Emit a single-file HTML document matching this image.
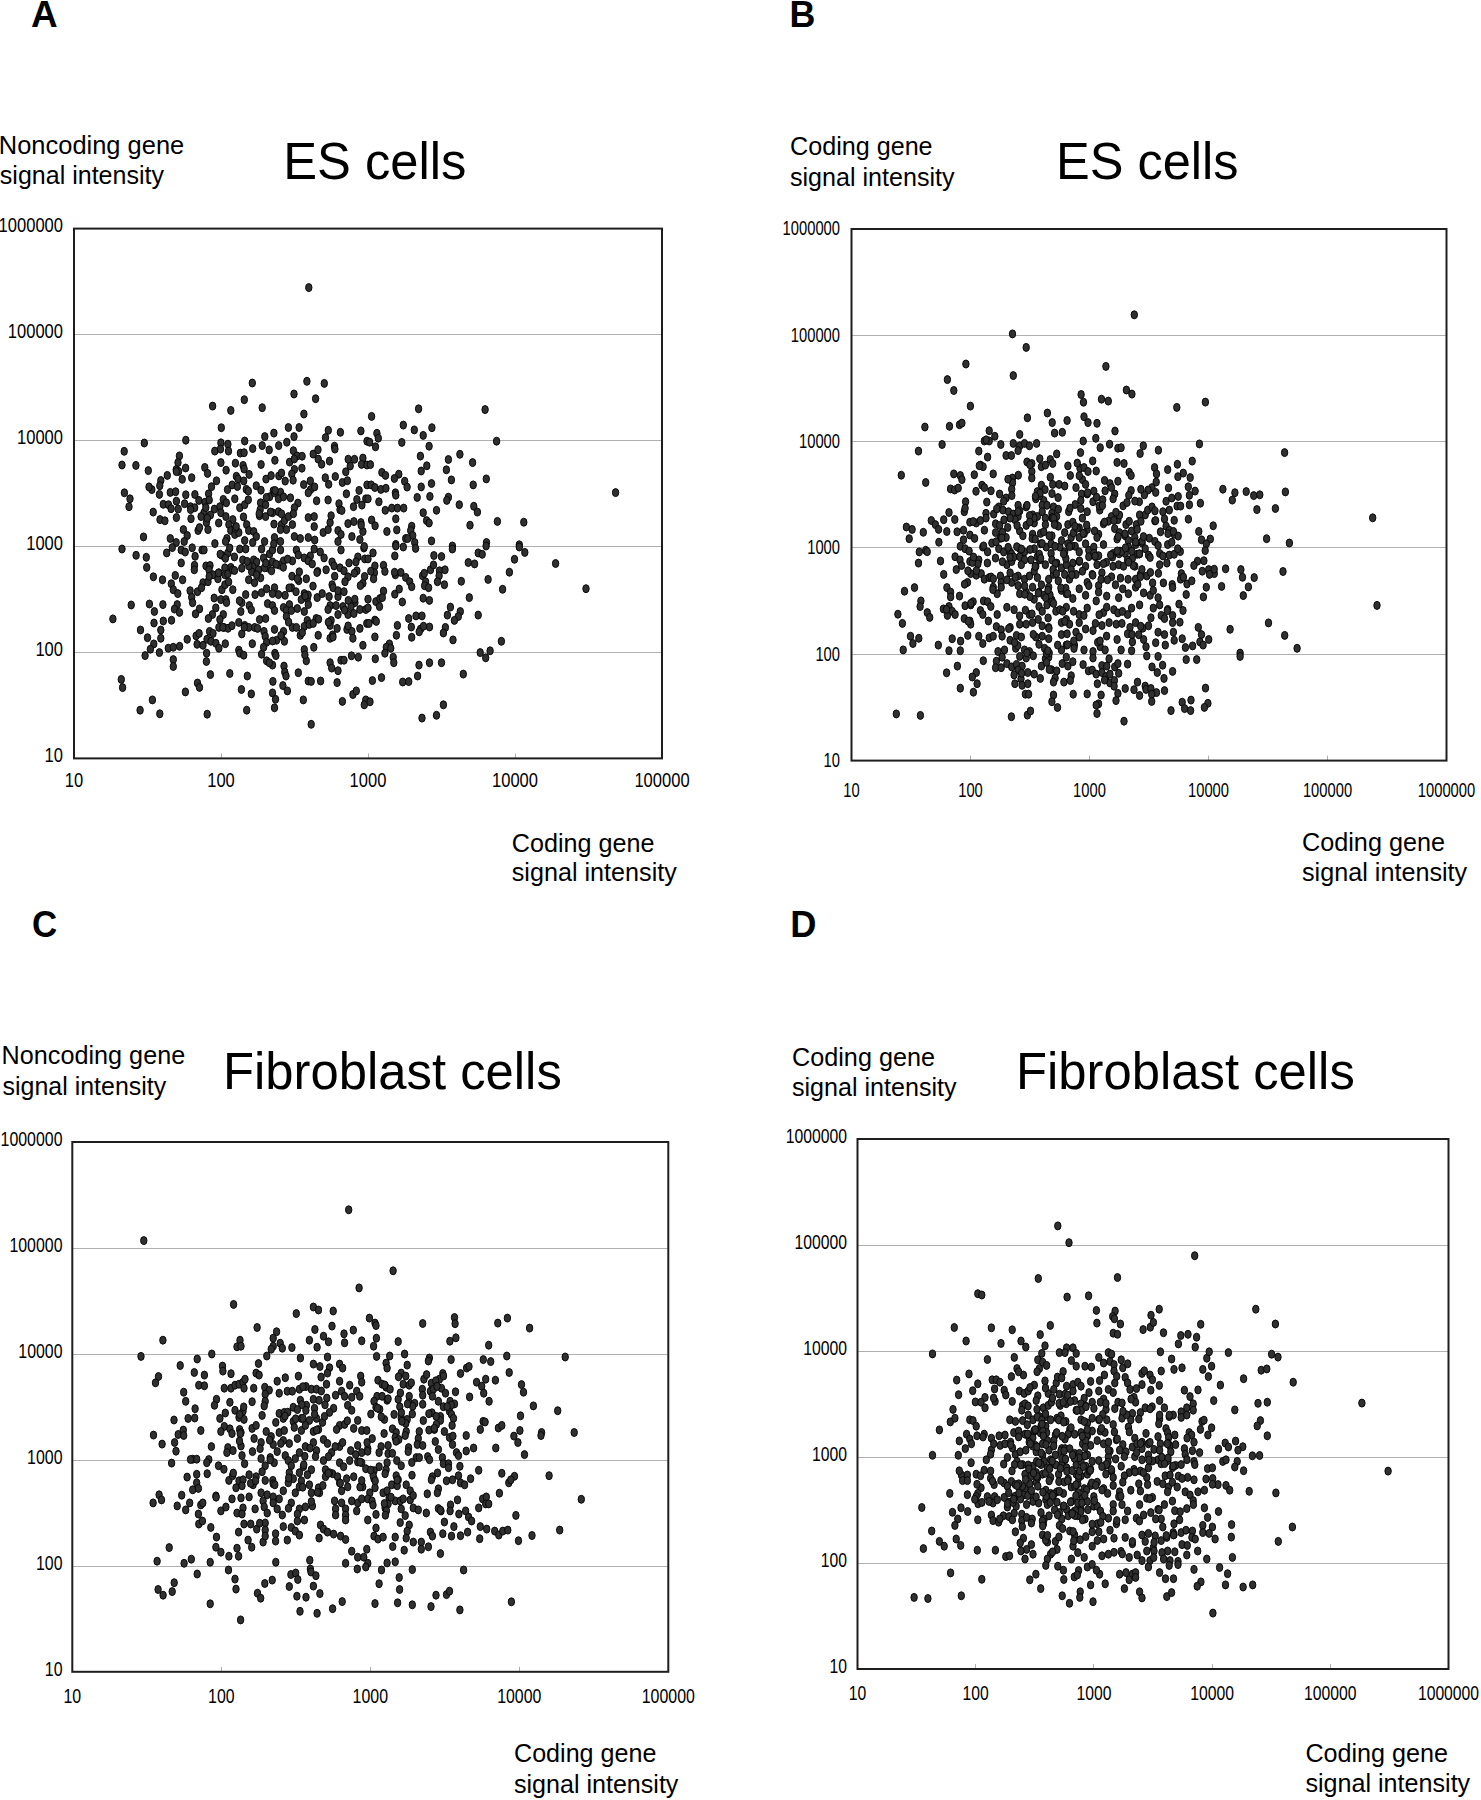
<!DOCTYPE html>
<html><head><meta charset="utf-8"><style>
html,body{margin:0;padding:0;background:#fff;}
svg{display:block;font-family:"Liberation Sans",sans-serif;}
ellipse{fill:#303030;stroke:#080808;stroke-width:1;}
</style></head><body>
<svg width="1481" height="1800" viewBox="0 0 1481 1800">
<line x1="74.0" y1="334.5" x2="662.0" y2="334.5" stroke="#b0b0b0" stroke-width="1"/>
<line x1="74.0" y1="440.5" x2="662.0" y2="440.5" stroke="#b0b0b0" stroke-width="1"/>
<line x1="74.0" y1="546.5" x2="662.0" y2="546.5" stroke="#b0b0b0" stroke-width="1"/>
<line x1="74.0" y1="652.5" x2="662.0" y2="652.5" stroke="#b0b0b0" stroke-width="1"/>
<line x1="221.5" y1="753.4" x2="221.5" y2="758.4" stroke="#b0b0b0" stroke-width="1"/>
<line x1="368.5" y1="753.4" x2="368.5" y2="758.4" stroke="#b0b0b0" stroke-width="1"/>
<line x1="515.5" y1="753.4" x2="515.5" y2="758.4" stroke="#b0b0b0" stroke-width="1"/>
<ellipse cx="308.8" cy="287.6" rx="3.2" ry="4.0"/>
<ellipse cx="252.3" cy="383.0" rx="3.2" ry="4.0"/>
<ellipse cx="306.9" cy="381.3" rx="3.2" ry="4.0"/>
<ellipse cx="324.3" cy="383.4" rx="3.2" ry="4.0"/>
<ellipse cx="212.6" cy="406.1" rx="3.2" ry="4.0"/>
<ellipse cx="230.8" cy="410.4" rx="3.2" ry="4.0"/>
<ellipse cx="244.3" cy="399.7" rx="3.2" ry="4.0"/>
<ellipse cx="262.2" cy="407.7" rx="3.2" ry="4.0"/>
<ellipse cx="294.0" cy="394.0" rx="3.2" ry="4.0"/>
<ellipse cx="315.6" cy="398.7" rx="3.2" ry="4.0"/>
<ellipse cx="303.9" cy="414.0" rx="3.2" ry="4.0"/>
<ellipse cx="221.3" cy="427.7" rx="3.2" ry="4.0"/>
<ellipse cx="288.4" cy="427.5" rx="3.2" ry="4.0"/>
<ellipse cx="299.1" cy="427.5" rx="3.2" ry="4.0"/>
<ellipse cx="273.9" cy="433.1" rx="3.2" ry="4.0"/>
<ellipse cx="328.3" cy="430.3" rx="3.2" ry="4.0"/>
<ellipse cx="340.4" cy="432.3" rx="3.2" ry="4.0"/>
<ellipse cx="360.9" cy="430.9" rx="3.2" ry="4.0"/>
<ellipse cx="264.8" cy="436.6" rx="3.2" ry="4.0"/>
<ellipse cx="294.0" cy="436.6" rx="3.2" ry="4.0"/>
<ellipse cx="325.5" cy="437.6" rx="3.2" ry="4.0"/>
<ellipse cx="185.8" cy="440.2" rx="3.2" ry="4.0"/>
<ellipse cx="144.3" cy="443.0" rx="3.2" ry="4.0"/>
<ellipse cx="244.7" cy="441.0" rx="3.2" ry="4.0"/>
<ellipse cx="220.9" cy="442.8" rx="3.2" ry="4.0"/>
<ellipse cx="227.9" cy="444.2" rx="3.2" ry="4.0"/>
<ellipse cx="262.2" cy="445.6" rx="3.2" ry="4.0"/>
<ellipse cx="278.7" cy="445.6" rx="3.2" ry="4.0"/>
<ellipse cx="286.8" cy="442.2" rx="3.2" ry="4.0"/>
<ellipse cx="367.0" cy="441.2" rx="3.2" ry="4.0"/>
<ellipse cx="124.2" cy="451.3" rx="3.2" ry="4.0"/>
<ellipse cx="214.8" cy="451.1" rx="3.2" ry="4.0"/>
<ellipse cx="220.5" cy="449.1" rx="3.2" ry="4.0"/>
<ellipse cx="228.5" cy="451.1" rx="3.2" ry="4.0"/>
<ellipse cx="240.4" cy="453.1" rx="3.2" ry="4.0"/>
<ellipse cx="244.1" cy="452.7" rx="3.2" ry="4.0"/>
<ellipse cx="252.7" cy="448.6" rx="3.2" ry="4.0"/>
<ellipse cx="269.2" cy="449.9" rx="3.2" ry="4.0"/>
<ellipse cx="293.4" cy="450.7" rx="3.2" ry="4.0"/>
<ellipse cx="313.2" cy="454.1" rx="3.2" ry="4.0"/>
<ellipse cx="318.0" cy="449.7" rx="3.2" ry="4.0"/>
<ellipse cx="334.5" cy="446.2" rx="3.2" ry="4.0"/>
<ellipse cx="334.9" cy="449.1" rx="3.2" ry="4.0"/>
<ellipse cx="179.4" cy="455.9" rx="3.2" ry="4.0"/>
<ellipse cx="178.0" cy="462.6" rx="3.2" ry="4.0"/>
<ellipse cx="176.2" cy="469.6" rx="3.2" ry="4.0"/>
<ellipse cx="178.6" cy="471.4" rx="3.2" ry="4.0"/>
<ellipse cx="185.6" cy="468.0" rx="3.2" ry="4.0"/>
<ellipse cx="122.0" cy="465.0" rx="3.2" ry="4.0"/>
<ellipse cx="135.9" cy="465.4" rx="3.2" ry="4.0"/>
<ellipse cx="148.3" cy="470.6" rx="3.2" ry="4.0"/>
<ellipse cx="204.8" cy="467.4" rx="3.2" ry="4.0"/>
<ellipse cx="207.6" cy="473.4" rx="3.2" ry="4.0"/>
<ellipse cx="220.9" cy="462.6" rx="3.2" ry="4.0"/>
<ellipse cx="226.1" cy="470.2" rx="3.2" ry="4.0"/>
<ellipse cx="235.4" cy="463.2" rx="3.2" ry="4.0"/>
<ellipse cx="243.1" cy="465.4" rx="3.2" ry="4.0"/>
<ellipse cx="244.1" cy="469.0" rx="3.2" ry="4.0"/>
<ellipse cx="274.9" cy="460.3" rx="3.2" ry="4.0"/>
<ellipse cx="289.6" cy="462.1" rx="3.2" ry="4.0"/>
<ellipse cx="297.1" cy="455.9" rx="3.2" ry="4.0"/>
<ellipse cx="318.2" cy="459.1" rx="3.2" ry="4.0"/>
<ellipse cx="321.6" cy="464.2" rx="3.2" ry="4.0"/>
<ellipse cx="329.5" cy="461.1" rx="3.2" ry="4.0"/>
<ellipse cx="354.5" cy="459.3" rx="3.2" ry="4.0"/>
<ellipse cx="362.9" cy="458.1" rx="3.2" ry="4.0"/>
<ellipse cx="361.5" cy="464.4" rx="3.2" ry="4.0"/>
<ellipse cx="367.0" cy="465.0" rx="3.2" ry="4.0"/>
<ellipse cx="350.2" cy="466.0" rx="3.2" ry="4.0"/>
<ellipse cx="294.4" cy="469.4" rx="3.2" ry="4.0"/>
<ellipse cx="301.9" cy="468.2" rx="3.2" ry="4.0"/>
<ellipse cx="167.3" cy="475.4" rx="3.2" ry="4.0"/>
<ellipse cx="160.8" cy="480.5" rx="3.2" ry="4.0"/>
<ellipse cx="159.8" cy="485.7" rx="3.2" ry="4.0"/>
<ellipse cx="151.8" cy="489.6" rx="3.2" ry="4.0"/>
<ellipse cx="149.0" cy="486.9" rx="3.2" ry="4.0"/>
<ellipse cx="170.3" cy="492.4" rx="3.2" ry="4.0"/>
<ellipse cx="124.4" cy="492.8" rx="3.2" ry="4.0"/>
<ellipse cx="182.2" cy="479.3" rx="3.2" ry="4.0"/>
<ellipse cx="191.7" cy="477.7" rx="3.2" ry="4.0"/>
<ellipse cx="249.1" cy="474.4" rx="3.2" ry="4.0"/>
<ellipse cx="236.4" cy="476.3" rx="3.2" ry="4.0"/>
<ellipse cx="238.0" cy="478.9" rx="3.2" ry="4.0"/>
<ellipse cx="243.7" cy="480.9" rx="3.2" ry="4.0"/>
<ellipse cx="232.2" cy="484.9" rx="3.2" ry="4.0"/>
<ellipse cx="227.5" cy="489.6" rx="3.2" ry="4.0"/>
<ellipse cx="237.4" cy="486.5" rx="3.2" ry="4.0"/>
<ellipse cx="246.3" cy="489.3" rx="3.2" ry="4.0"/>
<ellipse cx="256.3" cy="485.7" rx="3.2" ry="4.0"/>
<ellipse cx="261.0" cy="490.2" rx="3.2" ry="4.0"/>
<ellipse cx="266.0" cy="479.1" rx="3.2" ry="4.0"/>
<ellipse cx="271.1" cy="475.6" rx="3.2" ry="4.0"/>
<ellipse cx="278.9" cy="475.9" rx="3.2" ry="4.0"/>
<ellipse cx="281.5" cy="473.0" rx="3.2" ry="4.0"/>
<ellipse cx="285.2" cy="481.1" rx="3.2" ry="4.0"/>
<ellipse cx="291.8" cy="474.0" rx="3.2" ry="4.0"/>
<ellipse cx="273.3" cy="490.8" rx="3.2" ry="4.0"/>
<ellipse cx="280.5" cy="492.2" rx="3.2" ry="4.0"/>
<ellipse cx="325.3" cy="477.7" rx="3.2" ry="4.0"/>
<ellipse cx="335.3" cy="476.5" rx="3.2" ry="4.0"/>
<ellipse cx="328.7" cy="484.3" rx="3.2" ry="4.0"/>
<ellipse cx="342.4" cy="482.5" rx="3.2" ry="4.0"/>
<ellipse cx="347.4" cy="480.7" rx="3.2" ry="4.0"/>
<ellipse cx="345.8" cy="471.8" rx="3.2" ry="4.0"/>
<ellipse cx="310.3" cy="480.9" rx="3.2" ry="4.0"/>
<ellipse cx="310.6" cy="489.6" rx="3.2" ry="4.0"/>
<ellipse cx="314.6" cy="486.9" rx="3.2" ry="4.0"/>
<ellipse cx="359.1" cy="490.4" rx="3.2" ry="4.0"/>
<ellipse cx="367.0" cy="484.9" rx="3.2" ry="4.0"/>
<ellipse cx="130.0" cy="498.8" rx="3.2" ry="4.0"/>
<ellipse cx="129.0" cy="506.7" rx="3.2" ry="4.0"/>
<ellipse cx="153.2" cy="512.1" rx="3.2" ry="4.0"/>
<ellipse cx="159.4" cy="494.4" rx="3.2" ry="4.0"/>
<ellipse cx="163.3" cy="504.3" rx="3.2" ry="4.0"/>
<ellipse cx="168.5" cy="504.7" rx="3.2" ry="4.0"/>
<ellipse cx="171.1" cy="508.7" rx="3.2" ry="4.0"/>
<ellipse cx="176.4" cy="501.2" rx="3.2" ry="4.0"/>
<ellipse cx="178.2" cy="509.1" rx="3.2" ry="4.0"/>
<ellipse cx="185.8" cy="494.8" rx="3.2" ry="4.0"/>
<ellipse cx="184.6" cy="503.7" rx="3.2" ry="4.0"/>
<ellipse cx="190.5" cy="506.7" rx="3.2" ry="4.0"/>
<ellipse cx="194.7" cy="507.7" rx="3.2" ry="4.0"/>
<ellipse cx="198.9" cy="500.4" rx="3.2" ry="4.0"/>
<ellipse cx="205.0" cy="502.2" rx="3.2" ry="4.0"/>
<ellipse cx="208.6" cy="493.8" rx="3.2" ry="4.0"/>
<ellipse cx="214.4" cy="509.1" rx="3.2" ry="4.0"/>
<ellipse cx="219.9" cy="506.7" rx="3.2" ry="4.0"/>
<ellipse cx="223.3" cy="499.4" rx="3.2" ry="4.0"/>
<ellipse cx="226.3" cy="502.8" rx="3.2" ry="4.0"/>
<ellipse cx="234.8" cy="498.8" rx="3.2" ry="4.0"/>
<ellipse cx="239.8" cy="507.7" rx="3.2" ry="4.0"/>
<ellipse cx="244.7" cy="504.7" rx="3.2" ry="4.0"/>
<ellipse cx="248.3" cy="499.8" rx="3.2" ry="4.0"/>
<ellipse cx="260.6" cy="502.8" rx="3.2" ry="4.0"/>
<ellipse cx="265.6" cy="504.7" rx="3.2" ry="4.0"/>
<ellipse cx="269.6" cy="496.8" rx="3.2" ry="4.0"/>
<ellipse cx="274.5" cy="492.8" rx="3.2" ry="4.0"/>
<ellipse cx="278.5" cy="498.8" rx="3.2" ry="4.0"/>
<ellipse cx="283.5" cy="496.8" rx="3.2" ry="4.0"/>
<ellipse cx="290.4" cy="497.8" rx="3.2" ry="4.0"/>
<ellipse cx="297.9" cy="503.1" rx="3.2" ry="4.0"/>
<ellipse cx="294.4" cy="507.7" rx="3.2" ry="4.0"/>
<ellipse cx="308.3" cy="492.8" rx="3.2" ry="4.0"/>
<ellipse cx="316.6" cy="500.8" rx="3.2" ry="4.0"/>
<ellipse cx="328.1" cy="500.0" rx="3.2" ry="4.0"/>
<ellipse cx="339.0" cy="503.7" rx="3.2" ry="4.0"/>
<ellipse cx="340.0" cy="509.7" rx="3.2" ry="4.0"/>
<ellipse cx="346.4" cy="493.8" rx="3.2" ry="4.0"/>
<ellipse cx="353.5" cy="506.7" rx="3.2" ry="4.0"/>
<ellipse cx="361.9" cy="505.1" rx="3.2" ry="4.0"/>
<ellipse cx="365.8" cy="498.8" rx="3.2" ry="4.0"/>
<ellipse cx="260.2" cy="509.7" rx="3.2" ry="4.0"/>
<ellipse cx="272.5" cy="512.7" rx="3.2" ry="4.0"/>
<ellipse cx="278.5" cy="511.7" rx="3.2" ry="4.0"/>
<ellipse cx="176.4" cy="517.6" rx="3.2" ry="4.0"/>
<ellipse cx="160.0" cy="519.6" rx="3.2" ry="4.0"/>
<ellipse cx="164.9" cy="520.8" rx="3.2" ry="4.0"/>
<ellipse cx="204.0" cy="512.7" rx="3.2" ry="4.0"/>
<ellipse cx="201.1" cy="516.6" rx="3.2" ry="4.0"/>
<ellipse cx="210.4" cy="515.1" rx="3.2" ry="4.0"/>
<ellipse cx="206.4" cy="522.6" rx="3.2" ry="4.0"/>
<ellipse cx="208.0" cy="529.6" rx="3.2" ry="4.0"/>
<ellipse cx="218.7" cy="523.0" rx="3.2" ry="4.0"/>
<ellipse cx="198.1" cy="530.5" rx="3.2" ry="4.0"/>
<ellipse cx="199.5" cy="527.6" rx="3.2" ry="4.0"/>
<ellipse cx="183.4" cy="529.6" rx="3.2" ry="4.0"/>
<ellipse cx="187.2" cy="535.5" rx="3.2" ry="4.0"/>
<ellipse cx="184.2" cy="541.5" rx="3.2" ry="4.0"/>
<ellipse cx="170.3" cy="538.5" rx="3.2" ry="4.0"/>
<ellipse cx="176.2" cy="542.5" rx="3.2" ry="4.0"/>
<ellipse cx="143.5" cy="536.9" rx="3.2" ry="4.0"/>
<ellipse cx="220.9" cy="512.7" rx="3.2" ry="4.0"/>
<ellipse cx="225.9" cy="516.6" rx="3.2" ry="4.0"/>
<ellipse cx="232.8" cy="519.6" rx="3.2" ry="4.0"/>
<ellipse cx="228.9" cy="524.6" rx="3.2" ry="4.0"/>
<ellipse cx="230.8" cy="530.5" rx="3.2" ry="4.0"/>
<ellipse cx="234.8" cy="534.5" rx="3.2" ry="4.0"/>
<ellipse cx="238.8" cy="532.5" rx="3.2" ry="4.0"/>
<ellipse cx="226.9" cy="538.5" rx="3.2" ry="4.0"/>
<ellipse cx="246.7" cy="524.6" rx="3.2" ry="4.0"/>
<ellipse cx="248.7" cy="530.5" rx="3.2" ry="4.0"/>
<ellipse cx="253.7" cy="531.5" rx="3.2" ry="4.0"/>
<ellipse cx="256.3" cy="536.5" rx="3.2" ry="4.0"/>
<ellipse cx="244.7" cy="540.5" rx="3.2" ry="4.0"/>
<ellipse cx="252.7" cy="542.5" rx="3.2" ry="4.0"/>
<ellipse cx="265.6" cy="516.6" rx="3.2" ry="4.0"/>
<ellipse cx="281.5" cy="524.6" rx="3.2" ry="4.0"/>
<ellipse cx="284.4" cy="520.6" rx="3.2" ry="4.0"/>
<ellipse cx="288.4" cy="516.6" rx="3.2" ry="4.0"/>
<ellipse cx="293.4" cy="513.7" rx="3.2" ry="4.0"/>
<ellipse cx="292.4" cy="524.6" rx="3.2" ry="4.0"/>
<ellipse cx="280.5" cy="529.6" rx="3.2" ry="4.0"/>
<ellipse cx="286.4" cy="529.6" rx="3.2" ry="4.0"/>
<ellipse cx="274.5" cy="537.5" rx="3.2" ry="4.0"/>
<ellipse cx="280.5" cy="541.5" rx="3.2" ry="4.0"/>
<ellipse cx="264.6" cy="541.5" rx="3.2" ry="4.0"/>
<ellipse cx="294.4" cy="536.5" rx="3.2" ry="4.0"/>
<ellipse cx="300.3" cy="538.5" rx="3.2" ry="4.0"/>
<ellipse cx="308.3" cy="537.5" rx="3.2" ry="4.0"/>
<ellipse cx="308.3" cy="517.6" rx="3.2" ry="4.0"/>
<ellipse cx="314.2" cy="516.6" rx="3.2" ry="4.0"/>
<ellipse cx="314.2" cy="526.6" rx="3.2" ry="4.0"/>
<ellipse cx="323.2" cy="532.5" rx="3.2" ry="4.0"/>
<ellipse cx="330.1" cy="522.6" rx="3.2" ry="4.0"/>
<ellipse cx="328.1" cy="529.6" rx="3.2" ry="4.0"/>
<ellipse cx="331.1" cy="515.7" rx="3.2" ry="4.0"/>
<ellipse cx="338.0" cy="530.5" rx="3.2" ry="4.0"/>
<ellipse cx="341.0" cy="534.5" rx="3.2" ry="4.0"/>
<ellipse cx="338.0" cy="541.5" rx="3.2" ry="4.0"/>
<ellipse cx="348.0" cy="523.6" rx="3.2" ry="4.0"/>
<ellipse cx="353.9" cy="521.6" rx="3.2" ry="4.0"/>
<ellipse cx="360.9" cy="522.6" rx="3.2" ry="4.0"/>
<ellipse cx="362.9" cy="531.5" rx="3.2" ry="4.0"/>
<ellipse cx="351.9" cy="536.5" rx="3.2" ry="4.0"/>
<ellipse cx="359.9" cy="539.5" rx="3.2" ry="4.0"/>
<ellipse cx="371.6" cy="416.4" rx="3.2" ry="4.0"/>
<ellipse cx="418.6" cy="408.8" rx="3.2" ry="4.0"/>
<ellipse cx="485.1" cy="409.6" rx="3.2" ry="4.0"/>
<ellipse cx="403.3" cy="425.1" rx="3.2" ry="4.0"/>
<ellipse cx="414.3" cy="429.9" rx="3.2" ry="4.0"/>
<ellipse cx="423.2" cy="435.4" rx="3.2" ry="4.0"/>
<ellipse cx="431.9" cy="427.7" rx="3.2" ry="4.0"/>
<ellipse cx="376.9" cy="433.3" rx="3.2" ry="4.0"/>
<ellipse cx="378.3" cy="438.2" rx="3.2" ry="4.0"/>
<ellipse cx="369.6" cy="442.2" rx="3.2" ry="4.0"/>
<ellipse cx="401.8" cy="442.4" rx="3.2" ry="4.0"/>
<ellipse cx="375.5" cy="446.8" rx="3.2" ry="4.0"/>
<ellipse cx="429.1" cy="446.2" rx="3.2" ry="4.0"/>
<ellipse cx="496.6" cy="441.2" rx="3.2" ry="4.0"/>
<ellipse cx="459.9" cy="454.3" rx="3.2" ry="4.0"/>
<ellipse cx="448.4" cy="459.5" rx="3.2" ry="4.0"/>
<ellipse cx="420.4" cy="456.1" rx="3.2" ry="4.0"/>
<ellipse cx="472.6" cy="462.6" rx="3.2" ry="4.0"/>
<ellipse cx="426.8" cy="465.8" rx="3.2" ry="4.0"/>
<ellipse cx="421.2" cy="471.0" rx="3.2" ry="4.0"/>
<ellipse cx="446.4" cy="469.8" rx="3.2" ry="4.0"/>
<ellipse cx="370.4" cy="464.6" rx="3.2" ry="4.0"/>
<ellipse cx="381.9" cy="472.4" rx="3.2" ry="4.0"/>
<ellipse cx="385.5" cy="475.4" rx="3.2" ry="4.0"/>
<ellipse cx="398.8" cy="474.2" rx="3.2" ry="4.0"/>
<ellipse cx="394.4" cy="478.5" rx="3.2" ry="4.0"/>
<ellipse cx="404.7" cy="481.3" rx="3.2" ry="4.0"/>
<ellipse cx="407.1" cy="487.1" rx="3.2" ry="4.0"/>
<ellipse cx="421.2" cy="486.9" rx="3.2" ry="4.0"/>
<ellipse cx="431.5" cy="483.5" rx="3.2" ry="4.0"/>
<ellipse cx="451.4" cy="479.9" rx="3.2" ry="4.0"/>
<ellipse cx="486.3" cy="478.9" rx="3.2" ry="4.0"/>
<ellipse cx="473.2" cy="484.9" rx="3.2" ry="4.0"/>
<ellipse cx="371.2" cy="484.9" rx="3.2" ry="4.0"/>
<ellipse cx="374.9" cy="487.5" rx="3.2" ry="4.0"/>
<ellipse cx="380.9" cy="489.4" rx="3.2" ry="4.0"/>
<ellipse cx="385.9" cy="488.3" rx="3.2" ry="4.0"/>
<ellipse cx="395.4" cy="492.8" rx="3.2" ry="4.0"/>
<ellipse cx="395.8" cy="495.2" rx="3.2" ry="4.0"/>
<ellipse cx="368.0" cy="498.8" rx="3.2" ry="4.0"/>
<ellipse cx="378.9" cy="501.8" rx="3.2" ry="4.0"/>
<ellipse cx="417.2" cy="497.4" rx="3.2" ry="4.0"/>
<ellipse cx="429.9" cy="496.4" rx="3.2" ry="4.0"/>
<ellipse cx="448.4" cy="497.2" rx="3.2" ry="4.0"/>
<ellipse cx="446.8" cy="500.4" rx="3.2" ry="4.0"/>
<ellipse cx="459.3" cy="504.7" rx="3.2" ry="4.0"/>
<ellipse cx="473.8" cy="506.3" rx="3.2" ry="4.0"/>
<ellipse cx="477.4" cy="512.1" rx="3.2" ry="4.0"/>
<ellipse cx="615.6" cy="492.6" rx="3.2" ry="4.0"/>
<ellipse cx="385.3" cy="510.3" rx="3.2" ry="4.0"/>
<ellipse cx="391.8" cy="508.1" rx="3.2" ry="4.0"/>
<ellipse cx="397.4" cy="508.1" rx="3.2" ry="4.0"/>
<ellipse cx="403.7" cy="508.1" rx="3.2" ry="4.0"/>
<ellipse cx="423.2" cy="512.7" rx="3.2" ry="4.0"/>
<ellipse cx="436.5" cy="510.3" rx="3.2" ry="4.0"/>
<ellipse cx="371.6" cy="520.0" rx="3.2" ry="4.0"/>
<ellipse cx="375.1" cy="525.8" rx="3.2" ry="4.0"/>
<ellipse cx="395.8" cy="518.8" rx="3.2" ry="4.0"/>
<ellipse cx="396.8" cy="529.9" rx="3.2" ry="4.0"/>
<ellipse cx="386.9" cy="531.5" rx="3.2" ry="4.0"/>
<ellipse cx="411.7" cy="526.2" rx="3.2" ry="4.0"/>
<ellipse cx="410.7" cy="530.5" rx="3.2" ry="4.0"/>
<ellipse cx="412.7" cy="535.5" rx="3.2" ry="4.0"/>
<ellipse cx="405.7" cy="538.5" rx="3.2" ry="4.0"/>
<ellipse cx="407.7" cy="538.5" rx="3.2" ry="4.0"/>
<ellipse cx="426.6" cy="520.6" rx="3.2" ry="4.0"/>
<ellipse cx="429.1" cy="523.0" rx="3.2" ry="4.0"/>
<ellipse cx="470.0" cy="525.2" rx="3.2" ry="4.0"/>
<ellipse cx="497.4" cy="521.4" rx="3.2" ry="4.0"/>
<ellipse cx="523.8" cy="522.2" rx="3.2" ry="4.0"/>
<ellipse cx="431.5" cy="540.9" rx="3.2" ry="4.0"/>
<ellipse cx="395.8" cy="544.4" rx="3.2" ry="4.0"/>
<ellipse cx="414.7" cy="542.5" rx="3.2" ry="4.0"/>
<ellipse cx="486.5" cy="542.5" rx="3.2" ry="4.0"/>
<ellipse cx="519.3" cy="544.8" rx="3.2" ry="4.0"/>
<ellipse cx="452.4" cy="546.0" rx="3.2" ry="4.0"/>
<ellipse cx="122.0" cy="549.0" rx="3.2" ry="4.0"/>
<ellipse cx="136.1" cy="555.3" rx="3.2" ry="4.0"/>
<ellipse cx="146.3" cy="557.3" rx="3.2" ry="4.0"/>
<ellipse cx="146.7" cy="567.4" rx="3.2" ry="4.0"/>
<ellipse cx="166.7" cy="552.9" rx="3.2" ry="4.0"/>
<ellipse cx="172.3" cy="547.6" rx="3.2" ry="4.0"/>
<ellipse cx="181.2" cy="550.0" rx="3.2" ry="4.0"/>
<ellipse cx="185.2" cy="552.0" rx="3.2" ry="4.0"/>
<ellipse cx="181.2" cy="562.9" rx="3.2" ry="4.0"/>
<ellipse cx="195.1" cy="556.3" rx="3.2" ry="4.0"/>
<ellipse cx="194.5" cy="565.3" rx="3.2" ry="4.0"/>
<ellipse cx="194.3" cy="569.8" rx="3.2" ry="4.0"/>
<ellipse cx="202.1" cy="550.0" rx="3.2" ry="4.0"/>
<ellipse cx="204.0" cy="550.0" rx="3.2" ry="4.0"/>
<ellipse cx="206.0" cy="565.9" rx="3.2" ry="4.0"/>
<ellipse cx="210.0" cy="565.5" rx="3.2" ry="4.0"/>
<ellipse cx="221.9" cy="555.3" rx="3.2" ry="4.0"/>
<ellipse cx="227.9" cy="552.9" rx="3.2" ry="4.0"/>
<ellipse cx="234.4" cy="556.9" rx="3.2" ry="4.0"/>
<ellipse cx="230.8" cy="567.4" rx="3.2" ry="4.0"/>
<ellipse cx="224.9" cy="567.8" rx="3.2" ry="4.0"/>
<ellipse cx="239.8" cy="549.0" rx="3.2" ry="4.0"/>
<ellipse cx="245.7" cy="549.0" rx="3.2" ry="4.0"/>
<ellipse cx="242.8" cy="559.9" rx="3.2" ry="4.0"/>
<ellipse cx="241.8" cy="568.2" rx="3.2" ry="4.0"/>
<ellipse cx="253.7" cy="559.9" rx="3.2" ry="4.0"/>
<ellipse cx="256.6" cy="561.9" rx="3.2" ry="4.0"/>
<ellipse cx="252.7" cy="566.8" rx="3.2" ry="4.0"/>
<ellipse cx="261.6" cy="549.0" rx="3.2" ry="4.0"/>
<ellipse cx="269.6" cy="553.9" rx="3.2" ry="4.0"/>
<ellipse cx="272.5" cy="550.0" rx="3.2" ry="4.0"/>
<ellipse cx="280.5" cy="550.0" rx="3.2" ry="4.0"/>
<ellipse cx="283.5" cy="560.9" rx="3.2" ry="4.0"/>
<ellipse cx="263.6" cy="557.9" rx="3.2" ry="4.0"/>
<ellipse cx="267.6" cy="567.8" rx="3.2" ry="4.0"/>
<ellipse cx="272.5" cy="561.9" rx="3.2" ry="4.0"/>
<ellipse cx="292.4" cy="560.9" rx="3.2" ry="4.0"/>
<ellipse cx="296.4" cy="550.0" rx="3.2" ry="4.0"/>
<ellipse cx="298.3" cy="554.9" rx="3.2" ry="4.0"/>
<ellipse cx="304.3" cy="557.9" rx="3.2" ry="4.0"/>
<ellipse cx="310.3" cy="555.9" rx="3.2" ry="4.0"/>
<ellipse cx="314.2" cy="549.0" rx="3.2" ry="4.0"/>
<ellipse cx="308.3" cy="560.9" rx="3.2" ry="4.0"/>
<ellipse cx="312.2" cy="563.9" rx="3.2" ry="4.0"/>
<ellipse cx="320.2" cy="552.0" rx="3.2" ry="4.0"/>
<ellipse cx="324.1" cy="557.9" rx="3.2" ry="4.0"/>
<ellipse cx="332.1" cy="561.9" rx="3.2" ry="4.0"/>
<ellipse cx="341.0" cy="550.0" rx="3.2" ry="4.0"/>
<ellipse cx="334.1" cy="565.9" rx="3.2" ry="4.0"/>
<ellipse cx="340.0" cy="567.8" rx="3.2" ry="4.0"/>
<ellipse cx="349.0" cy="562.9" rx="3.2" ry="4.0"/>
<ellipse cx="357.9" cy="556.9" rx="3.2" ry="4.0"/>
<ellipse cx="363.9" cy="548.0" rx="3.2" ry="4.0"/>
<ellipse cx="364.8" cy="558.9" rx="3.2" ry="4.0"/>
<ellipse cx="355.9" cy="561.9" rx="3.2" ry="4.0"/>
<ellipse cx="153.4" cy="576.8" rx="3.2" ry="4.0"/>
<ellipse cx="162.5" cy="579.8" rx="3.2" ry="4.0"/>
<ellipse cx="175.3" cy="575.4" rx="3.2" ry="4.0"/>
<ellipse cx="182.6" cy="579.8" rx="3.2" ry="4.0"/>
<ellipse cx="171.3" cy="583.7" rx="3.2" ry="4.0"/>
<ellipse cx="209.0" cy="569.8" rx="3.2" ry="4.0"/>
<ellipse cx="213.0" cy="574.8" rx="3.2" ry="4.0"/>
<ellipse cx="218.9" cy="572.8" rx="3.2" ry="4.0"/>
<ellipse cx="224.9" cy="574.8" rx="3.2" ry="4.0"/>
<ellipse cx="227.9" cy="573.8" rx="3.2" ry="4.0"/>
<ellipse cx="217.9" cy="578.8" rx="3.2" ry="4.0"/>
<ellipse cx="203.0" cy="582.7" rx="3.2" ry="4.0"/>
<ellipse cx="208.0" cy="581.7" rx="3.2" ry="4.0"/>
<ellipse cx="248.7" cy="579.8" rx="3.2" ry="4.0"/>
<ellipse cx="251.7" cy="571.8" rx="3.2" ry="4.0"/>
<ellipse cx="258.6" cy="569.8" rx="3.2" ry="4.0"/>
<ellipse cx="264.6" cy="567.8" rx="3.2" ry="4.0"/>
<ellipse cx="260.6" cy="577.8" rx="3.2" ry="4.0"/>
<ellipse cx="256.6" cy="574.8" rx="3.2" ry="4.0"/>
<ellipse cx="271.5" cy="570.8" rx="3.2" ry="4.0"/>
<ellipse cx="292.0" cy="576.2" rx="3.2" ry="4.0"/>
<ellipse cx="299.3" cy="571.8" rx="3.2" ry="4.0"/>
<ellipse cx="298.7" cy="580.7" rx="3.2" ry="4.0"/>
<ellipse cx="306.3" cy="578.8" rx="3.2" ry="4.0"/>
<ellipse cx="317.6" cy="571.4" rx="3.2" ry="4.0"/>
<ellipse cx="326.1" cy="569.8" rx="3.2" ry="4.0"/>
<ellipse cx="334.7" cy="576.2" rx="3.2" ry="4.0"/>
<ellipse cx="344.0" cy="570.8" rx="3.2" ry="4.0"/>
<ellipse cx="348.0" cy="576.8" rx="3.2" ry="4.0"/>
<ellipse cx="345.0" cy="581.7" rx="3.2" ry="4.0"/>
<ellipse cx="356.9" cy="570.8" rx="3.2" ry="4.0"/>
<ellipse cx="362.9" cy="583.3" rx="3.2" ry="4.0"/>
<ellipse cx="332.1" cy="584.7" rx="3.2" ry="4.0"/>
<ellipse cx="173.3" cy="589.7" rx="3.2" ry="4.0"/>
<ellipse cx="177.8" cy="593.6" rx="3.2" ry="4.0"/>
<ellipse cx="190.1" cy="590.7" rx="3.2" ry="4.0"/>
<ellipse cx="191.7" cy="597.2" rx="3.2" ry="4.0"/>
<ellipse cx="197.5" cy="591.7" rx="3.2" ry="4.0"/>
<ellipse cx="201.5" cy="587.7" rx="3.2" ry="4.0"/>
<ellipse cx="221.9" cy="589.7" rx="3.2" ry="4.0"/>
<ellipse cx="224.9" cy="584.7" rx="3.2" ry="4.0"/>
<ellipse cx="232.8" cy="589.7" rx="3.2" ry="4.0"/>
<ellipse cx="214.2" cy="598.0" rx="3.2" ry="4.0"/>
<ellipse cx="220.9" cy="599.6" rx="3.2" ry="4.0"/>
<ellipse cx="225.9" cy="599.6" rx="3.2" ry="4.0"/>
<ellipse cx="226.5" cy="602.6" rx="3.2" ry="4.0"/>
<ellipse cx="241.8" cy="602.6" rx="3.2" ry="4.0"/>
<ellipse cx="245.7" cy="594.6" rx="3.2" ry="4.0"/>
<ellipse cx="255.1" cy="594.6" rx="3.2" ry="4.0"/>
<ellipse cx="261.6" cy="592.7" rx="3.2" ry="4.0"/>
<ellipse cx="266.6" cy="588.7" rx="3.2" ry="4.0"/>
<ellipse cx="274.5" cy="587.7" rx="3.2" ry="4.0"/>
<ellipse cx="272.5" cy="593.6" rx="3.2" ry="4.0"/>
<ellipse cx="278.5" cy="594.6" rx="3.2" ry="4.0"/>
<ellipse cx="267.6" cy="603.6" rx="3.2" ry="4.0"/>
<ellipse cx="272.5" cy="605.6" rx="3.2" ry="4.0"/>
<ellipse cx="291.4" cy="587.7" rx="3.2" ry="4.0"/>
<ellipse cx="296.0" cy="591.7" rx="3.2" ry="4.0"/>
<ellipse cx="304.3" cy="593.6" rx="3.2" ry="4.0"/>
<ellipse cx="307.3" cy="598.6" rx="3.2" ry="4.0"/>
<ellipse cx="301.3" cy="599.6" rx="3.2" ry="4.0"/>
<ellipse cx="317.2" cy="597.6" rx="3.2" ry="4.0"/>
<ellipse cx="322.2" cy="593.6" rx="3.2" ry="4.0"/>
<ellipse cx="329.1" cy="596.6" rx="3.2" ry="4.0"/>
<ellipse cx="338.0" cy="596.6" rx="3.2" ry="4.0"/>
<ellipse cx="333.1" cy="587.7" rx="3.2" ry="4.0"/>
<ellipse cx="338.0" cy="590.7" rx="3.2" ry="4.0"/>
<ellipse cx="344.0" cy="591.7" rx="3.2" ry="4.0"/>
<ellipse cx="330.1" cy="605.6" rx="3.2" ry="4.0"/>
<ellipse cx="308.3" cy="604.6" rx="3.2" ry="4.0"/>
<ellipse cx="283.5" cy="607.5" rx="3.2" ry="4.0"/>
<ellipse cx="289.4" cy="604.6" rx="3.2" ry="4.0"/>
<ellipse cx="131.2" cy="605.0" rx="3.2" ry="4.0"/>
<ellipse cx="149.4" cy="604.0" rx="3.2" ry="4.0"/>
<ellipse cx="162.9" cy="604.6" rx="3.2" ry="4.0"/>
<ellipse cx="177.2" cy="604.6" rx="3.2" ry="4.0"/>
<ellipse cx="354.9" cy="602.6" rx="3.2" ry="4.0"/>
<ellipse cx="154.4" cy="611.5" rx="3.2" ry="4.0"/>
<ellipse cx="199.5" cy="608.9" rx="3.2" ry="4.0"/>
<ellipse cx="195.5" cy="613.9" rx="3.2" ry="4.0"/>
<ellipse cx="215.8" cy="607.9" rx="3.2" ry="4.0"/>
<ellipse cx="212.4" cy="614.5" rx="3.2" ry="4.0"/>
<ellipse cx="208.4" cy="618.5" rx="3.2" ry="4.0"/>
<ellipse cx="223.3" cy="614.5" rx="3.2" ry="4.0"/>
<ellipse cx="219.9" cy="619.5" rx="3.2" ry="4.0"/>
<ellipse cx="240.8" cy="611.5" rx="3.2" ry="4.0"/>
<ellipse cx="249.3" cy="605.6" rx="3.2" ry="4.0"/>
<ellipse cx="251.3" cy="609.9" rx="3.2" ry="4.0"/>
<ellipse cx="259.6" cy="619.5" rx="3.2" ry="4.0"/>
<ellipse cx="265.6" cy="618.5" rx="3.2" ry="4.0"/>
<ellipse cx="274.5" cy="610.5" rx="3.2" ry="4.0"/>
<ellipse cx="286.4" cy="610.5" rx="3.2" ry="4.0"/>
<ellipse cx="291.4" cy="610.5" rx="3.2" ry="4.0"/>
<ellipse cx="297.3" cy="608.5" rx="3.2" ry="4.0"/>
<ellipse cx="304.3" cy="611.5" rx="3.2" ry="4.0"/>
<ellipse cx="286.4" cy="616.5" rx="3.2" ry="4.0"/>
<ellipse cx="307.3" cy="620.4" rx="3.2" ry="4.0"/>
<ellipse cx="316.2" cy="618.5" rx="3.2" ry="4.0"/>
<ellipse cx="328.1" cy="609.5" rx="3.2" ry="4.0"/>
<ellipse cx="336.1" cy="605.6" rx="3.2" ry="4.0"/>
<ellipse cx="343.0" cy="606.6" rx="3.2" ry="4.0"/>
<ellipse cx="351.0" cy="606.6" rx="3.2" ry="4.0"/>
<ellipse cx="359.9" cy="609.5" rx="3.2" ry="4.0"/>
<ellipse cx="365.8" cy="609.5" rx="3.2" ry="4.0"/>
<ellipse cx="331.1" cy="620.4" rx="3.2" ry="4.0"/>
<ellipse cx="338.0" cy="614.5" rx="3.2" ry="4.0"/>
<ellipse cx="348.0" cy="614.5" rx="3.2" ry="4.0"/>
<ellipse cx="353.9" cy="613.5" rx="3.2" ry="4.0"/>
<ellipse cx="112.9" cy="618.9" rx="3.2" ry="4.0"/>
<ellipse cx="154.0" cy="623.0" rx="3.2" ry="4.0"/>
<ellipse cx="163.3" cy="621.0" rx="3.2" ry="4.0"/>
<ellipse cx="171.5" cy="620.3" rx="3.2" ry="4.0"/>
<ellipse cx="238.8" cy="622.4" rx="3.2" ry="4.0"/>
<ellipse cx="140.5" cy="630.0" rx="3.2" ry="4.0"/>
<ellipse cx="160.8" cy="630.0" rx="3.2" ry="4.0"/>
<ellipse cx="160.8" cy="638.3" rx="3.2" ry="4.0"/>
<ellipse cx="147.5" cy="637.7" rx="3.2" ry="4.0"/>
<ellipse cx="153.8" cy="643.9" rx="3.2" ry="4.0"/>
<ellipse cx="187.2" cy="639.3" rx="3.2" ry="4.0"/>
<ellipse cx="196.1" cy="635.9" rx="3.2" ry="4.0"/>
<ellipse cx="199.1" cy="633.4" rx="3.2" ry="4.0"/>
<ellipse cx="209.6" cy="631.4" rx="3.2" ry="4.0"/>
<ellipse cx="213.0" cy="633.4" rx="3.2" ry="4.0"/>
<ellipse cx="207.0" cy="639.3" rx="3.2" ry="4.0"/>
<ellipse cx="211.0" cy="641.3" rx="3.2" ry="4.0"/>
<ellipse cx="215.9" cy="643.3" rx="3.2" ry="4.0"/>
<ellipse cx="218.9" cy="627.4" rx="3.2" ry="4.0"/>
<ellipse cx="223.9" cy="627.4" rx="3.2" ry="4.0"/>
<ellipse cx="225.3" cy="643.7" rx="3.2" ry="4.0"/>
<ellipse cx="244.7" cy="625.4" rx="3.2" ry="4.0"/>
<ellipse cx="248.7" cy="627.4" rx="3.2" ry="4.0"/>
<ellipse cx="254.7" cy="627.4" rx="3.2" ry="4.0"/>
<ellipse cx="257.6" cy="628.4" rx="3.2" ry="4.0"/>
<ellipse cx="241.8" cy="633.9" rx="3.2" ry="4.0"/>
<ellipse cx="252.3" cy="643.7" rx="3.2" ry="4.0"/>
<ellipse cx="264.0" cy="631.4" rx="3.2" ry="4.0"/>
<ellipse cx="265.2" cy="636.3" rx="3.2" ry="4.0"/>
<ellipse cx="266.6" cy="642.3" rx="3.2" ry="4.0"/>
<ellipse cx="274.5" cy="629.4" rx="3.2" ry="4.0"/>
<ellipse cx="276.5" cy="640.3" rx="3.2" ry="4.0"/>
<ellipse cx="283.5" cy="631.4" rx="3.2" ry="4.0"/>
<ellipse cx="281.5" cy="636.3" rx="3.2" ry="4.0"/>
<ellipse cx="284.4" cy="641.3" rx="3.2" ry="4.0"/>
<ellipse cx="292.4" cy="627.4" rx="3.2" ry="4.0"/>
<ellipse cx="296.4" cy="627.4" rx="3.2" ry="4.0"/>
<ellipse cx="300.3" cy="635.3" rx="3.2" ry="4.0"/>
<ellipse cx="304.3" cy="626.4" rx="3.2" ry="4.0"/>
<ellipse cx="309.3" cy="624.4" rx="3.2" ry="4.0"/>
<ellipse cx="313.2" cy="623.4" rx="3.2" ry="4.0"/>
<ellipse cx="318.2" cy="635.3" rx="3.2" ry="4.0"/>
<ellipse cx="330.1" cy="638.3" rx="3.2" ry="4.0"/>
<ellipse cx="330.1" cy="625.4" rx="3.2" ry="4.0"/>
<ellipse cx="337.1" cy="628.4" rx="3.2" ry="4.0"/>
<ellipse cx="347.0" cy="629.4" rx="3.2" ry="4.0"/>
<ellipse cx="351.9" cy="631.4" rx="3.2" ry="4.0"/>
<ellipse cx="352.9" cy="638.3" rx="3.2" ry="4.0"/>
<ellipse cx="359.9" cy="628.4" rx="3.2" ry="4.0"/>
<ellipse cx="366.8" cy="623.4" rx="3.2" ry="4.0"/>
<ellipse cx="362.9" cy="645.3" rx="3.2" ry="4.0"/>
<ellipse cx="150.4" cy="649.2" rx="3.2" ry="4.0"/>
<ellipse cx="159.4" cy="652.6" rx="3.2" ry="4.0"/>
<ellipse cx="145.1" cy="655.6" rx="3.2" ry="4.0"/>
<ellipse cx="168.3" cy="648.2" rx="3.2" ry="4.0"/>
<ellipse cx="173.3" cy="647.3" rx="3.2" ry="4.0"/>
<ellipse cx="179.6" cy="646.3" rx="3.2" ry="4.0"/>
<ellipse cx="197.1" cy="644.3" rx="3.2" ry="4.0"/>
<ellipse cx="203.0" cy="645.3" rx="3.2" ry="4.0"/>
<ellipse cx="206.6" cy="653.2" rx="3.2" ry="4.0"/>
<ellipse cx="218.9" cy="648.2" rx="3.2" ry="4.0"/>
<ellipse cx="238.8" cy="650.2" rx="3.2" ry="4.0"/>
<ellipse cx="239.8" cy="653.2" rx="3.2" ry="4.0"/>
<ellipse cx="243.7" cy="655.2" rx="3.2" ry="4.0"/>
<ellipse cx="261.6" cy="654.2" rx="3.2" ry="4.0"/>
<ellipse cx="263.6" cy="647.3" rx="3.2" ry="4.0"/>
<ellipse cx="274.9" cy="653.2" rx="3.2" ry="4.0"/>
<ellipse cx="275.9" cy="655.6" rx="3.2" ry="4.0"/>
<ellipse cx="266.6" cy="660.8" rx="3.2" ry="4.0"/>
<ellipse cx="272.5" cy="665.1" rx="3.2" ry="4.0"/>
<ellipse cx="304.3" cy="649.6" rx="3.2" ry="4.0"/>
<ellipse cx="313.8" cy="647.3" rx="3.2" ry="4.0"/>
<ellipse cx="306.3" cy="660.8" rx="3.2" ry="4.0"/>
<ellipse cx="330.1" cy="662.7" rx="3.2" ry="4.0"/>
<ellipse cx="341.0" cy="660.2" rx="3.2" ry="4.0"/>
<ellipse cx="344.0" cy="660.2" rx="3.2" ry="4.0"/>
<ellipse cx="351.5" cy="655.8" rx="3.2" ry="4.0"/>
<ellipse cx="358.3" cy="657.2" rx="3.2" ry="4.0"/>
<ellipse cx="173.3" cy="659.6" rx="3.2" ry="4.0"/>
<ellipse cx="173.3" cy="666.5" rx="3.2" ry="4.0"/>
<ellipse cx="206.4" cy="661.5" rx="3.2" ry="4.0"/>
<ellipse cx="121.3" cy="679.4" rx="3.2" ry="4.0"/>
<ellipse cx="284.0" cy="666.1" rx="3.2" ry="4.0"/>
<ellipse cx="284.8" cy="672.1" rx="3.2" ry="4.0"/>
<ellipse cx="286.0" cy="676.0" rx="3.2" ry="4.0"/>
<ellipse cx="298.3" cy="672.7" rx="3.2" ry="4.0"/>
<ellipse cx="331.7" cy="668.1" rx="3.2" ry="4.0"/>
<ellipse cx="338.0" cy="670.7" rx="3.2" ry="4.0"/>
<ellipse cx="210.4" cy="674.6" rx="3.2" ry="4.0"/>
<ellipse cx="229.8" cy="673.5" rx="3.2" ry="4.0"/>
<ellipse cx="247.3" cy="676.0" rx="3.2" ry="4.0"/>
<ellipse cx="272.9" cy="681.4" rx="3.2" ry="4.0"/>
<ellipse cx="308.3" cy="681.0" rx="3.2" ry="4.0"/>
<ellipse cx="311.2" cy="681.4" rx="3.2" ry="4.0"/>
<ellipse cx="320.6" cy="681.0" rx="3.2" ry="4.0"/>
<ellipse cx="337.1" cy="682.6" rx="3.2" ry="4.0"/>
<ellipse cx="197.5" cy="683.0" rx="3.2" ry="4.0"/>
<ellipse cx="122.6" cy="687.6" rx="3.2" ry="4.0"/>
<ellipse cx="199.5" cy="687.4" rx="3.2" ry="4.0"/>
<ellipse cx="185.4" cy="691.9" rx="3.2" ry="4.0"/>
<ellipse cx="241.4" cy="689.5" rx="3.2" ry="4.0"/>
<ellipse cx="251.3" cy="693.9" rx="3.2" ry="4.0"/>
<ellipse cx="272.5" cy="692.9" rx="3.2" ry="4.0"/>
<ellipse cx="275.5" cy="699.3" rx="3.2" ry="4.0"/>
<ellipse cx="282.9" cy="685.6" rx="3.2" ry="4.0"/>
<ellipse cx="287.4" cy="690.9" rx="3.2" ry="4.0"/>
<ellipse cx="303.3" cy="699.9" rx="3.2" ry="4.0"/>
<ellipse cx="352.9" cy="694.5" rx="3.2" ry="4.0"/>
<ellipse cx="356.3" cy="690.9" rx="3.2" ry="4.0"/>
<ellipse cx="342.4" cy="701.4" rx="3.2" ry="4.0"/>
<ellipse cx="365.8" cy="699.9" rx="3.2" ry="4.0"/>
<ellipse cx="364.3" cy="704.8" rx="3.2" ry="4.0"/>
<ellipse cx="152.4" cy="699.9" rx="3.2" ry="4.0"/>
<ellipse cx="140.1" cy="710.2" rx="3.2" ry="4.0"/>
<ellipse cx="159.8" cy="713.8" rx="3.2" ry="4.0"/>
<ellipse cx="207.2" cy="714.2" rx="3.2" ry="4.0"/>
<ellipse cx="246.7" cy="710.2" rx="3.2" ry="4.0"/>
<ellipse cx="274.5" cy="707.8" rx="3.2" ry="4.0"/>
<ellipse cx="311.2" cy="724.3" rx="3.2" ry="4.0"/>
<ellipse cx="395.8" cy="546.0" rx="3.2" ry="4.0"/>
<ellipse cx="403.3" cy="547.0" rx="3.2" ry="4.0"/>
<ellipse cx="415.6" cy="548.4" rx="3.2" ry="4.0"/>
<ellipse cx="452.4" cy="549.0" rx="3.2" ry="4.0"/>
<ellipse cx="486.1" cy="546.0" rx="3.2" ry="4.0"/>
<ellipse cx="519.3" cy="547.0" rx="3.2" ry="4.0"/>
<ellipse cx="373.0" cy="552.9" rx="3.2" ry="4.0"/>
<ellipse cx="394.8" cy="555.9" rx="3.2" ry="4.0"/>
<ellipse cx="433.9" cy="555.5" rx="3.2" ry="4.0"/>
<ellipse cx="441.5" cy="556.5" rx="3.2" ry="4.0"/>
<ellipse cx="478.2" cy="552.9" rx="3.2" ry="4.0"/>
<ellipse cx="482.2" cy="554.3" rx="3.2" ry="4.0"/>
<ellipse cx="524.8" cy="552.4" rx="3.2" ry="4.0"/>
<ellipse cx="514.5" cy="559.3" rx="3.2" ry="4.0"/>
<ellipse cx="555.6" cy="563.5" rx="3.2" ry="4.0"/>
<ellipse cx="468.3" cy="562.5" rx="3.2" ry="4.0"/>
<ellipse cx="474.6" cy="563.9" rx="3.2" ry="4.0"/>
<ellipse cx="368.0" cy="558.9" rx="3.2" ry="4.0"/>
<ellipse cx="374.9" cy="565.9" rx="3.2" ry="4.0"/>
<ellipse cx="383.5" cy="565.3" rx="3.2" ry="4.0"/>
<ellipse cx="384.9" cy="571.4" rx="3.2" ry="4.0"/>
<ellipse cx="374.4" cy="572.8" rx="3.2" ry="4.0"/>
<ellipse cx="373.6" cy="578.8" rx="3.2" ry="4.0"/>
<ellipse cx="395.4" cy="574.8" rx="3.2" ry="4.0"/>
<ellipse cx="400.8" cy="572.4" rx="3.2" ry="4.0"/>
<ellipse cx="405.7" cy="577.4" rx="3.2" ry="4.0"/>
<ellipse cx="409.7" cy="581.7" rx="3.2" ry="4.0"/>
<ellipse cx="411.7" cy="586.7" rx="3.2" ry="4.0"/>
<ellipse cx="422.6" cy="575.8" rx="3.2" ry="4.0"/>
<ellipse cx="425.6" cy="581.7" rx="3.2" ry="4.0"/>
<ellipse cx="424.6" cy="585.7" rx="3.2" ry="4.0"/>
<ellipse cx="428.6" cy="587.7" rx="3.2" ry="4.0"/>
<ellipse cx="430.5" cy="569.8" rx="3.2" ry="4.0"/>
<ellipse cx="433.5" cy="564.9" rx="3.2" ry="4.0"/>
<ellipse cx="439.5" cy="570.8" rx="3.2" ry="4.0"/>
<ellipse cx="445.0" cy="569.8" rx="3.2" ry="4.0"/>
<ellipse cx="439.1" cy="575.8" rx="3.2" ry="4.0"/>
<ellipse cx="437.5" cy="581.7" rx="3.2" ry="4.0"/>
<ellipse cx="444.4" cy="584.7" rx="3.2" ry="4.0"/>
<ellipse cx="461.3" cy="581.3" rx="3.2" ry="4.0"/>
<ellipse cx="488.1" cy="579.4" rx="3.2" ry="4.0"/>
<ellipse cx="509.4" cy="572.2" rx="3.2" ry="4.0"/>
<ellipse cx="502.6" cy="589.3" rx="3.2" ry="4.0"/>
<ellipse cx="586.0" cy="588.7" rx="3.2" ry="4.0"/>
<ellipse cx="383.5" cy="591.1" rx="3.2" ry="4.0"/>
<ellipse cx="394.8" cy="594.2" rx="3.2" ry="4.0"/>
<ellipse cx="368.0" cy="599.2" rx="3.2" ry="4.0"/>
<ellipse cx="375.9" cy="601.6" rx="3.2" ry="4.0"/>
<ellipse cx="379.9" cy="598.6" rx="3.2" ry="4.0"/>
<ellipse cx="382.3" cy="597.6" rx="3.2" ry="4.0"/>
<ellipse cx="379.5" cy="606.6" rx="3.2" ry="4.0"/>
<ellipse cx="368.0" cy="607.9" rx="3.2" ry="4.0"/>
<ellipse cx="402.3" cy="602.0" rx="3.2" ry="4.0"/>
<ellipse cx="423.2" cy="598.2" rx="3.2" ry="4.0"/>
<ellipse cx="469.3" cy="597.6" rx="3.2" ry="4.0"/>
<ellipse cx="450.4" cy="607.1" rx="3.2" ry="4.0"/>
<ellipse cx="460.3" cy="611.5" rx="3.2" ry="4.0"/>
<ellipse cx="447.4" cy="615.1" rx="3.2" ry="4.0"/>
<ellipse cx="458.3" cy="616.5" rx="3.2" ry="4.0"/>
<ellipse cx="454.4" cy="620.4" rx="3.2" ry="4.0"/>
<ellipse cx="478.2" cy="615.1" rx="3.2" ry="4.0"/>
<ellipse cx="408.7" cy="618.5" rx="3.2" ry="4.0"/>
<ellipse cx="416.0" cy="615.9" rx="3.2" ry="4.0"/>
<ellipse cx="422.0" cy="615.9" rx="3.2" ry="4.0"/>
<ellipse cx="374.9" cy="620.1" rx="3.2" ry="4.0"/>
<ellipse cx="376.3" cy="621.4" rx="3.2" ry="4.0"/>
<ellipse cx="369.0" cy="623.4" rx="3.2" ry="4.0"/>
<ellipse cx="397.4" cy="625.4" rx="3.2" ry="4.0"/>
<ellipse cx="411.3" cy="627.0" rx="3.2" ry="4.0"/>
<ellipse cx="420.6" cy="629.0" rx="3.2" ry="4.0"/>
<ellipse cx="419.2" cy="631.8" rx="3.2" ry="4.0"/>
<ellipse cx="429.5" cy="627.0" rx="3.2" ry="4.0"/>
<ellipse cx="445.4" cy="627.4" rx="3.2" ry="4.0"/>
<ellipse cx="443.4" cy="633.0" rx="3.2" ry="4.0"/>
<ellipse cx="453.0" cy="639.9" rx="3.2" ry="4.0"/>
<ellipse cx="374.9" cy="636.9" rx="3.2" ry="4.0"/>
<ellipse cx="396.4" cy="635.3" rx="3.2" ry="4.0"/>
<ellipse cx="411.7" cy="637.3" rx="3.2" ry="4.0"/>
<ellipse cx="501.4" cy="641.3" rx="3.2" ry="4.0"/>
<ellipse cx="389.4" cy="643.9" rx="3.2" ry="4.0"/>
<ellipse cx="386.3" cy="647.3" rx="3.2" ry="4.0"/>
<ellipse cx="390.8" cy="648.2" rx="3.2" ry="4.0"/>
<ellipse cx="384.9" cy="653.2" rx="3.2" ry="4.0"/>
<ellipse cx="480.2" cy="652.6" rx="3.2" ry="4.0"/>
<ellipse cx="490.1" cy="650.8" rx="3.2" ry="4.0"/>
<ellipse cx="485.7" cy="657.8" rx="3.2" ry="4.0"/>
<ellipse cx="375.3" cy="658.8" rx="3.2" ry="4.0"/>
<ellipse cx="393.2" cy="657.2" rx="3.2" ry="4.0"/>
<ellipse cx="393.8" cy="662.7" rx="3.2" ry="4.0"/>
<ellipse cx="419.0" cy="665.1" rx="3.2" ry="4.0"/>
<ellipse cx="429.5" cy="662.7" rx="3.2" ry="4.0"/>
<ellipse cx="441.5" cy="662.7" rx="3.2" ry="4.0"/>
<ellipse cx="463.3" cy="674.1" rx="3.2" ry="4.0"/>
<ellipse cx="372.4" cy="680.6" rx="3.2" ry="4.0"/>
<ellipse cx="381.5" cy="677.6" rx="3.2" ry="4.0"/>
<ellipse cx="402.7" cy="682.0" rx="3.2" ry="4.0"/>
<ellipse cx="408.7" cy="681.6" rx="3.2" ry="4.0"/>
<ellipse cx="417.6" cy="676.0" rx="3.2" ry="4.0"/>
<ellipse cx="370.0" cy="701.8" rx="3.2" ry="4.0"/>
<ellipse cx="443.4" cy="704.8" rx="3.2" ry="4.0"/>
<ellipse cx="436.5" cy="715.3" rx="3.2" ry="4.0"/>
<ellipse cx="422.0" cy="718.1" rx="3.2" ry="4.0"/>
<ellipse cx="361.2" cy="525.3" rx="3.2" ry="4.0"/>
<ellipse cx="279.3" cy="565.1" rx="3.2" ry="4.0"/>
<ellipse cx="370.8" cy="571.2" rx="3.2" ry="4.0"/>
<ellipse cx="356.9" cy="499.5" rx="3.2" ry="4.0"/>
<ellipse cx="429.4" cy="600.4" rx="3.2" ry="4.0"/>
<ellipse cx="302.1" cy="456.2" rx="3.2" ry="4.0"/>
<ellipse cx="235.3" cy="528.3" rx="3.2" ry="4.0"/>
<ellipse cx="348.1" cy="625.9" rx="3.2" ry="4.0"/>
<ellipse cx="209.2" cy="500.0" rx="3.2" ry="4.0"/>
<ellipse cx="191.0" cy="518.7" rx="3.2" ry="4.0"/>
<ellipse cx="275.1" cy="490.5" rx="3.2" ry="4.0"/>
<ellipse cx="302.3" cy="632.6" rx="3.2" ry="4.0"/>
<ellipse cx="248.3" cy="491.1" rx="3.2" ry="4.0"/>
<ellipse cx="348.3" cy="600.4" rx="3.2" ry="4.0"/>
<ellipse cx="225.6" cy="541.5" rx="3.2" ry="4.0"/>
<ellipse cx="304.9" cy="654.9" rx="3.2" ry="4.0"/>
<ellipse cx="174.5" cy="609.1" rx="3.2" ry="4.0"/>
<ellipse cx="194.9" cy="494.5" rx="3.2" ry="4.0"/>
<ellipse cx="276.1" cy="564.2" rx="3.2" ry="4.0"/>
<ellipse cx="220.2" cy="554.2" rx="3.2" ry="4.0"/>
<ellipse cx="232.6" cy="569.8" rx="3.2" ry="4.0"/>
<ellipse cx="228.0" cy="628.3" rx="3.2" ry="4.0"/>
<ellipse cx="248.9" cy="566.0" rx="3.2" ry="4.0"/>
<ellipse cx="332.6" cy="634.9" rx="3.2" ry="4.0"/>
<ellipse cx="294.3" cy="459.0" rx="3.2" ry="4.0"/>
<ellipse cx="283.3" cy="567.3" rx="3.2" ry="4.0"/>
<ellipse cx="269.3" cy="662.7" rx="3.2" ry="4.0"/>
<ellipse cx="308.1" cy="595.0" rx="3.2" ry="4.0"/>
<ellipse cx="364.3" cy="546.5" rx="3.2" ry="4.0"/>
<ellipse cx="305.2" cy="595.9" rx="3.2" ry="4.0"/>
<ellipse cx="190.6" cy="509.6" rx="3.2" ry="4.0"/>
<ellipse cx="317.0" cy="572.5" rx="3.2" ry="4.0"/>
<ellipse cx="344.6" cy="610.1" rx="3.2" ry="4.0"/>
<ellipse cx="297.4" cy="578.6" rx="3.2" ry="4.0"/>
<ellipse cx="261.1" cy="464.5" rx="3.2" ry="4.0"/>
<ellipse cx="228.6" cy="581.9" rx="3.2" ry="4.0"/>
<ellipse cx="266.4" cy="497.5" rx="3.2" ry="4.0"/>
<ellipse cx="333.0" cy="637.0" rx="3.2" ry="4.0"/>
<ellipse cx="222.9" cy="627.3" rx="3.2" ry="4.0"/>
<ellipse cx="272.6" cy="641.0" rx="3.2" ry="4.0"/>
<ellipse cx="259.5" cy="515.7" rx="3.2" ry="4.0"/>
<ellipse cx="176.4" cy="471.6" rx="3.2" ry="4.0"/>
<ellipse cx="293.1" cy="480.2" rx="3.2" ry="4.0"/>
<ellipse cx="270.5" cy="512.0" rx="3.2" ry="4.0"/>
<ellipse cx="192.6" cy="602.7" rx="3.2" ry="4.0"/>
<ellipse cx="214.9" cy="543.6" rx="3.2" ry="4.0"/>
<ellipse cx="207.4" cy="518.1" rx="3.2" ry="4.0"/>
<ellipse cx="239.5" cy="600.7" rx="3.2" ry="4.0"/>
<ellipse cx="205.8" cy="507.6" rx="3.2" ry="4.0"/>
<ellipse cx="259.2" cy="513.7" rx="3.2" ry="4.0"/>
<ellipse cx="211.5" cy="486.7" rx="3.2" ry="4.0"/>
<ellipse cx="218.5" cy="572.9" rx="3.2" ry="4.0"/>
<ellipse cx="243.5" cy="516.9" rx="3.2" ry="4.0"/>
<ellipse cx="192.2" cy="547.8" rx="3.2" ry="4.0"/>
<ellipse cx="354.4" cy="573.2" rx="3.2" ry="4.0"/>
<ellipse cx="231.9" cy="625.7" rx="3.2" ry="4.0"/>
<ellipse cx="273.8" cy="543.8" rx="3.2" ry="4.0"/>
<ellipse cx="399.2" cy="589.1" rx="3.2" ry="4.0"/>
<ellipse cx="247.2" cy="561.4" rx="3.2" ry="4.0"/>
<ellipse cx="313.0" cy="586.1" rx="3.2" ry="4.0"/>
<ellipse cx="303.7" cy="484.6" rx="3.2" ry="4.0"/>
<ellipse cx="288.6" cy="622.1" rx="3.2" ry="4.0"/>
<ellipse cx="318.5" cy="619.2" rx="3.2" ry="4.0"/>
<ellipse cx="236.2" cy="526.6" rx="3.2" ry="4.0"/>
<ellipse cx="364.6" cy="576.4" rx="3.2" ry="4.0"/>
<ellipse cx="360.4" cy="585.6" rx="3.2" ry="4.0"/>
<ellipse cx="274.0" cy="524.1" rx="3.2" ry="4.0"/>
<ellipse cx="285.1" cy="595.3" rx="3.2" ry="4.0"/>
<ellipse cx="354.8" cy="599.2" rx="3.2" ry="4.0"/>
<ellipse cx="424.3" cy="573.3" rx="3.2" ry="4.0"/>
<ellipse cx="281.5" cy="513.8" rx="3.2" ry="4.0"/>
<ellipse cx="348.2" cy="459.2" rx="3.2" ry="4.0"/>
<ellipse cx="341.8" cy="510.5" rx="3.2" ry="4.0"/>
<ellipse cx="209.2" cy="576.3" rx="3.2" ry="4.0"/>
<ellipse cx="394.6" cy="572.3" rx="3.2" ry="4.0"/>
<ellipse cx="281.0" cy="635.5" rx="3.2" ry="4.0"/>
<ellipse cx="216.5" cy="480.8" rx="3.2" ry="4.0"/>
<ellipse cx="244.3" cy="627.2" rx="3.2" ry="4.0"/>
<ellipse cx="175.6" cy="491.7" rx="3.2" ry="4.0"/>
<ellipse cx="234.5" cy="570.5" rx="3.2" ry="4.0"/>
<ellipse cx="423.5" cy="626.2" rx="3.2" ry="4.0"/>
<ellipse cx="225.4" cy="558.3" rx="3.2" ry="4.0"/>
<ellipse cx="328.4" cy="622.2" rx="3.2" ry="4.0"/>
<ellipse cx="314.7" cy="540.0" rx="3.2" ry="4.0"/>
<ellipse cx="229.7" cy="548.0" rx="3.2" ry="4.0"/>
<ellipse cx="265.8" cy="563.1" rx="3.2" ry="4.0"/>
<ellipse cx="179.5" cy="612.4" rx="3.2" ry="4.0"/>
<ellipse cx="289.1" cy="587.9" rx="3.2" ry="4.0"/>
<ellipse cx="287.6" cy="559.1" rx="3.2" ry="4.0"/>
<ellipse cx="254.5" cy="582.7" rx="3.2" ry="4.0"/>
<rect x="74.0" y="228.6" width="588.0" height="529.8" fill="none" stroke="#1e1e1e" stroke-width="2"/>
<text x="63.0" y="762.0" font-size="19.6" text-anchor="end" font-weight="400" fill="#000" textLength="18.4" lengthAdjust="spacingAndGlyphs">10</text>
<text x="63.0" y="656.0" font-size="19.6" text-anchor="end" font-weight="400" fill="#000" textLength="27.6" lengthAdjust="spacingAndGlyphs">100</text>
<text x="63.0" y="550.1" font-size="19.6" text-anchor="end" font-weight="400" fill="#000" textLength="36.8" lengthAdjust="spacingAndGlyphs">1000</text>
<text x="63.0" y="444.1" font-size="19.6" text-anchor="end" font-weight="400" fill="#000" textLength="46.0" lengthAdjust="spacingAndGlyphs">10000</text>
<text x="63.0" y="338.2" font-size="19.6" text-anchor="end" font-weight="400" fill="#000" textLength="55.2" lengthAdjust="spacingAndGlyphs">100000</text>
<text x="63.0" y="232.2" font-size="19.6" text-anchor="end" font-weight="400" fill="#000" textLength="64.4" lengthAdjust="spacingAndGlyphs">1000000</text>
<text x="74.0" y="787.0" font-size="19.6" text-anchor="middle" font-weight="400" fill="#000" textLength="18.4" lengthAdjust="spacingAndGlyphs">10</text>
<text x="221.0" y="787.0" font-size="19.6" text-anchor="middle" font-weight="400" fill="#000" textLength="27.6" lengthAdjust="spacingAndGlyphs">100</text>
<text x="368.0" y="787.0" font-size="19.6" text-anchor="middle" font-weight="400" fill="#000" textLength="36.8" lengthAdjust="spacingAndGlyphs">1000</text>
<text x="515.0" y="787.0" font-size="19.6" text-anchor="middle" font-weight="400" fill="#000" textLength="46.0" lengthAdjust="spacingAndGlyphs">10000</text>
<text x="662.0" y="787.0" font-size="19.6" text-anchor="middle" font-weight="400" fill="#000" textLength="55.2" lengthAdjust="spacingAndGlyphs">100000</text>
<line x1="851.5" y1="335.5" x2="1446.5" y2="335.5" stroke="#b0b0b0" stroke-width="1"/>
<line x1="851.5" y1="441.5" x2="1446.5" y2="441.5" stroke="#b0b0b0" stroke-width="1"/>
<line x1="851.5" y1="547.5" x2="1446.5" y2="547.5" stroke="#b0b0b0" stroke-width="1"/>
<line x1="851.5" y1="654.5" x2="1446.5" y2="654.5" stroke="#b0b0b0" stroke-width="1"/>
<line x1="970.5" y1="755.6" x2="970.5" y2="760.6" stroke="#b0b0b0" stroke-width="1"/>
<line x1="1089.5" y1="755.6" x2="1089.5" y2="760.6" stroke="#b0b0b0" stroke-width="1"/>
<line x1="1208.5" y1="755.6" x2="1208.5" y2="760.6" stroke="#b0b0b0" stroke-width="1"/>
<line x1="1327.5" y1="755.6" x2="1327.5" y2="760.6" stroke="#b0b0b0" stroke-width="1"/>
<ellipse cx="1012.5" cy="333.9" rx="3.2" ry="4.0"/>
<ellipse cx="1026.2" cy="347.4" rx="3.2" ry="4.0"/>
<ellipse cx="965.9" cy="364.0" rx="3.2" ry="4.0"/>
<ellipse cx="1013.3" cy="375.6" rx="3.2" ry="4.0"/>
<ellipse cx="947.4" cy="379.6" rx="3.2" ry="4.0"/>
<ellipse cx="953.8" cy="390.5" rx="3.2" ry="4.0"/>
<ellipse cx="970.4" cy="406.1" rx="3.2" ry="4.0"/>
<ellipse cx="1081.1" cy="394.5" rx="3.2" ry="4.0"/>
<ellipse cx="1083.5" cy="402.2" rx="3.2" ry="4.0"/>
<ellipse cx="1047.4" cy="413.0" rx="3.2" ry="4.0"/>
<ellipse cx="1027.4" cy="417.8" rx="3.2" ry="4.0"/>
<ellipse cx="1052.2" cy="422.6" rx="3.2" ry="4.0"/>
<ellipse cx="1067.1" cy="420.5" rx="3.2" ry="4.0"/>
<ellipse cx="1084.0" cy="416.7" rx="3.2" ry="4.0"/>
<ellipse cx="1088.0" cy="422.6" rx="3.2" ry="4.0"/>
<ellipse cx="924.9" cy="427.0" rx="3.2" ry="4.0"/>
<ellipse cx="949.5" cy="426.3" rx="3.2" ry="4.0"/>
<ellipse cx="959.5" cy="424.7" rx="3.2" ry="4.0"/>
<ellipse cx="961.9" cy="423.1" rx="3.2" ry="4.0"/>
<ellipse cx="989.2" cy="430.7" rx="3.2" ry="4.0"/>
<ellipse cx="994.8" cy="436.3" rx="3.2" ry="4.0"/>
<ellipse cx="1019.7" cy="434.4" rx="3.2" ry="4.0"/>
<ellipse cx="1054.6" cy="433.1" rx="3.2" ry="4.0"/>
<ellipse cx="1062.3" cy="432.3" rx="3.2" ry="4.0"/>
<ellipse cx="1134.3" cy="314.8" rx="3.2" ry="4.0"/>
<ellipse cx="1105.9" cy="366.4" rx="3.2" ry="4.0"/>
<ellipse cx="1126.4" cy="390.0" rx="3.2" ry="4.0"/>
<ellipse cx="1131.9" cy="394.1" rx="3.2" ry="4.0"/>
<ellipse cx="1101.5" cy="399.2" rx="3.2" ry="4.0"/>
<ellipse cx="1108.3" cy="401.1" rx="3.2" ry="4.0"/>
<ellipse cx="1176.8" cy="407.4" rx="3.2" ry="4.0"/>
<ellipse cx="1205.4" cy="402.1" rx="3.2" ry="4.0"/>
<ellipse cx="1097.0" cy="423.3" rx="3.2" ry="4.0"/>
<ellipse cx="1115.0" cy="431.0" rx="3.2" ry="4.0"/>
<ellipse cx="1095.8" cy="438.3" rx="3.2" ry="4.0"/>
<ellipse cx="942.1" cy="444.5" rx="3.2" ry="4.0"/>
<ellipse cx="918.5" cy="451.1" rx="3.2" ry="4.0"/>
<ellipse cx="978.8" cy="451.1" rx="3.2" ry="4.0"/>
<ellipse cx="987.6" cy="457.1" rx="3.2" ry="4.0"/>
<ellipse cx="984.4" cy="441.0" rx="3.2" ry="4.0"/>
<ellipse cx="989.2" cy="441.0" rx="3.2" ry="4.0"/>
<ellipse cx="1000.8" cy="444.5" rx="3.2" ry="4.0"/>
<ellipse cx="1013.3" cy="443.4" rx="3.2" ry="4.0"/>
<ellipse cx="1019.7" cy="445.8" rx="3.2" ry="4.0"/>
<ellipse cx="1018.1" cy="450.6" rx="3.2" ry="4.0"/>
<ellipse cx="1024.5" cy="443.4" rx="3.2" ry="4.0"/>
<ellipse cx="1029.4" cy="445.8" rx="3.2" ry="4.0"/>
<ellipse cx="1036.6" cy="443.4" rx="3.2" ry="4.0"/>
<ellipse cx="1006.1" cy="455.5" rx="3.2" ry="4.0"/>
<ellipse cx="1011.4" cy="455.5" rx="3.2" ry="4.0"/>
<ellipse cx="1083.2" cy="441.0" rx="3.2" ry="4.0"/>
<ellipse cx="1080.5" cy="452.6" rx="3.2" ry="4.0"/>
<ellipse cx="1027.0" cy="461.9" rx="3.2" ry="4.0"/>
<ellipse cx="1031.8" cy="463.5" rx="3.2" ry="4.0"/>
<ellipse cx="1039.8" cy="458.7" rx="3.2" ry="4.0"/>
<ellipse cx="1041.4" cy="466.7" rx="3.2" ry="4.0"/>
<ellipse cx="1045.4" cy="465.1" rx="3.2" ry="4.0"/>
<ellipse cx="1050.3" cy="459.5" rx="3.2" ry="4.0"/>
<ellipse cx="1052.7" cy="463.5" rx="3.2" ry="4.0"/>
<ellipse cx="1056.7" cy="453.9" rx="3.2" ry="4.0"/>
<ellipse cx="1067.9" cy="465.9" rx="3.2" ry="4.0"/>
<ellipse cx="1080.0" cy="468.3" rx="3.2" ry="4.0"/>
<ellipse cx="1084.0" cy="467.5" rx="3.2" ry="4.0"/>
<ellipse cx="1088.0" cy="471.5" rx="3.2" ry="4.0"/>
<ellipse cx="980.4" cy="465.1" rx="3.2" ry="4.0"/>
<ellipse cx="983.1" cy="466.7" rx="3.2" ry="4.0"/>
<ellipse cx="993.2" cy="473.9" rx="3.2" ry="4.0"/>
<ellipse cx="953.8" cy="473.9" rx="3.2" ry="4.0"/>
<ellipse cx="960.3" cy="475.5" rx="3.2" ry="4.0"/>
<ellipse cx="961.9" cy="479.6" rx="3.2" ry="4.0"/>
<ellipse cx="974.3" cy="474.7" rx="3.2" ry="4.0"/>
<ellipse cx="1031.8" cy="471.5" rx="3.2" ry="4.0"/>
<ellipse cx="901.3" cy="475.2" rx="3.2" ry="4.0"/>
<ellipse cx="925.7" cy="482.5" rx="3.2" ry="4.0"/>
<ellipse cx="1012.5" cy="478.0" rx="3.2" ry="4.0"/>
<ellipse cx="1012.5" cy="482.8" rx="3.2" ry="4.0"/>
<ellipse cx="1011.7" cy="489.2" rx="3.2" ry="4.0"/>
<ellipse cx="1031.8" cy="478.0" rx="3.2" ry="4.0"/>
<ellipse cx="1050.3" cy="477.2" rx="3.2" ry="4.0"/>
<ellipse cx="1052.7" cy="484.4" rx="3.2" ry="4.0"/>
<ellipse cx="1059.1" cy="484.4" rx="3.2" ry="4.0"/>
<ellipse cx="1064.7" cy="486.0" rx="3.2" ry="4.0"/>
<ellipse cx="1070.3" cy="475.5" rx="3.2" ry="4.0"/>
<ellipse cx="1082.4" cy="479.6" rx="3.2" ry="4.0"/>
<ellipse cx="1076.0" cy="487.6" rx="3.2" ry="4.0"/>
<ellipse cx="1085.6" cy="484.4" rx="3.2" ry="4.0"/>
<ellipse cx="1041.4" cy="485.2" rx="3.2" ry="4.0"/>
<ellipse cx="982.0" cy="485.2" rx="3.2" ry="4.0"/>
<ellipse cx="984.4" cy="487.6" rx="3.2" ry="4.0"/>
<ellipse cx="976.0" cy="491.3" rx="3.2" ry="4.0"/>
<ellipse cx="950.6" cy="488.9" rx="3.2" ry="4.0"/>
<ellipse cx="954.6" cy="490.0" rx="3.2" ry="4.0"/>
<ellipse cx="958.2" cy="488.1" rx="3.2" ry="4.0"/>
<ellipse cx="999.6" cy="494.0" rx="3.2" ry="4.0"/>
<ellipse cx="1006.1" cy="498.0" rx="3.2" ry="4.0"/>
<ellipse cx="1003.7" cy="501.3" rx="3.2" ry="4.0"/>
<ellipse cx="1037.4" cy="491.6" rx="3.2" ry="4.0"/>
<ellipse cx="1035.8" cy="498.8" rx="3.2" ry="4.0"/>
<ellipse cx="1043.8" cy="500.5" rx="3.2" ry="4.0"/>
<ellipse cx="1042.2" cy="505.3" rx="3.2" ry="4.0"/>
<ellipse cx="1081.6" cy="494.0" rx="3.2" ry="4.0"/>
<ellipse cx="1087.2" cy="494.0" rx="3.2" ry="4.0"/>
<ellipse cx="1080.8" cy="500.5" rx="3.2" ry="4.0"/>
<ellipse cx="965.6" cy="501.7" rx="3.2" ry="4.0"/>
<ellipse cx="986.8" cy="502.1" rx="3.2" ry="4.0"/>
<ellipse cx="1018.1" cy="505.3" rx="3.2" ry="4.0"/>
<ellipse cx="1026.2" cy="506.9" rx="3.2" ry="4.0"/>
<ellipse cx="1039.8" cy="495.6" rx="3.2" ry="4.0"/>
<ellipse cx="998.8" cy="506.9" rx="3.2" ry="4.0"/>
<ellipse cx="1002.9" cy="510.1" rx="3.2" ry="4.0"/>
<ellipse cx="1008.5" cy="511.7" rx="3.2" ry="4.0"/>
<ellipse cx="1013.3" cy="514.1" rx="3.2" ry="4.0"/>
<ellipse cx="1019.7" cy="510.9" rx="3.2" ry="4.0"/>
<ellipse cx="1018.1" cy="516.5" rx="3.2" ry="4.0"/>
<ellipse cx="1014.9" cy="519.7" rx="3.2" ry="4.0"/>
<ellipse cx="1010.1" cy="518.1" rx="3.2" ry="4.0"/>
<ellipse cx="1032.6" cy="514.9" rx="3.2" ry="4.0"/>
<ellipse cx="1037.4" cy="516.5" rx="3.2" ry="4.0"/>
<ellipse cx="1042.2" cy="511.7" rx="3.2" ry="4.0"/>
<ellipse cx="1047.0" cy="505.3" rx="3.2" ry="4.0"/>
<ellipse cx="1053.5" cy="506.9" rx="3.2" ry="4.0"/>
<ellipse cx="1058.3" cy="509.3" rx="3.2" ry="4.0"/>
<ellipse cx="1051.9" cy="513.3" rx="3.2" ry="4.0"/>
<ellipse cx="1068.7" cy="511.7" rx="3.2" ry="4.0"/>
<ellipse cx="1075.2" cy="504.5" rx="3.2" ry="4.0"/>
<ellipse cx="1080.8" cy="508.5" rx="3.2" ry="4.0"/>
<ellipse cx="1087.2" cy="511.7" rx="3.2" ry="4.0"/>
<ellipse cx="1082.4" cy="518.1" rx="3.2" ry="4.0"/>
<ellipse cx="1045.4" cy="518.1" rx="3.2" ry="4.0"/>
<ellipse cx="964.3" cy="511.7" rx="3.2" ry="4.0"/>
<ellipse cx="949.0" cy="512.5" rx="3.2" ry="4.0"/>
<ellipse cx="943.7" cy="519.7" rx="3.2" ry="4.0"/>
<ellipse cx="931.3" cy="520.5" rx="3.2" ry="4.0"/>
<ellipse cx="986.0" cy="513.3" rx="3.2" ry="4.0"/>
<ellipse cx="993.7" cy="514.1" rx="3.2" ry="4.0"/>
<ellipse cx="969.9" cy="522.2" rx="3.2" ry="4.0"/>
<ellipse cx="976.3" cy="523.0" rx="3.2" ry="4.0"/>
<ellipse cx="980.4" cy="520.5" rx="3.2" ry="4.0"/>
<ellipse cx="986.0" cy="518.1" rx="3.2" ry="4.0"/>
<ellipse cx="906.4" cy="527.0" rx="3.2" ry="4.0"/>
<ellipse cx="912.1" cy="529.4" rx="3.2" ry="4.0"/>
<ellipse cx="923.3" cy="532.3" rx="3.2" ry="4.0"/>
<ellipse cx="935.4" cy="524.6" rx="3.2" ry="4.0"/>
<ellipse cx="938.6" cy="529.4" rx="3.2" ry="4.0"/>
<ellipse cx="909.2" cy="538.7" rx="3.2" ry="4.0"/>
<ellipse cx="957.1" cy="531.8" rx="3.2" ry="4.0"/>
<ellipse cx="963.5" cy="530.2" rx="3.2" ry="4.0"/>
<ellipse cx="969.9" cy="535.0" rx="3.2" ry="4.0"/>
<ellipse cx="984.4" cy="530.2" rx="3.2" ry="4.0"/>
<ellipse cx="995.6" cy="523.8" rx="3.2" ry="4.0"/>
<ellipse cx="999.6" cy="525.4" rx="3.2" ry="4.0"/>
<ellipse cx="1007.7" cy="527.5" rx="3.2" ry="4.0"/>
<ellipse cx="1026.2" cy="525.4" rx="3.2" ry="4.0"/>
<ellipse cx="1019.7" cy="531.0" rx="3.2" ry="4.0"/>
<ellipse cx="1022.9" cy="535.8" rx="3.2" ry="4.0"/>
<ellipse cx="1032.6" cy="534.2" rx="3.2" ry="4.0"/>
<ellipse cx="1040.6" cy="533.4" rx="3.2" ry="4.0"/>
<ellipse cx="1034.2" cy="523.0" rx="3.2" ry="4.0"/>
<ellipse cx="1045.4" cy="524.6" rx="3.2" ry="4.0"/>
<ellipse cx="1055.1" cy="523.0" rx="3.2" ry="4.0"/>
<ellipse cx="1058.3" cy="526.2" rx="3.2" ry="4.0"/>
<ellipse cx="1067.9" cy="524.6" rx="3.2" ry="4.0"/>
<ellipse cx="1072.8" cy="522.2" rx="3.2" ry="4.0"/>
<ellipse cx="1079.2" cy="527.8" rx="3.2" ry="4.0"/>
<ellipse cx="1087.2" cy="529.4" rx="3.2" ry="4.0"/>
<ellipse cx="1064.7" cy="532.6" rx="3.2" ry="4.0"/>
<ellipse cx="995.6" cy="532.6" rx="3.2" ry="4.0"/>
<ellipse cx="1000.4" cy="538.2" rx="3.2" ry="4.0"/>
<ellipse cx="1006.1" cy="537.4" rx="3.2" ry="4.0"/>
<ellipse cx="1051.9" cy="535.8" rx="3.2" ry="4.0"/>
<ellipse cx="1079.2" cy="537.4" rx="3.2" ry="4.0"/>
<ellipse cx="1071.2" cy="537.4" rx="3.2" ry="4.0"/>
<ellipse cx="938.9" cy="542.2" rx="3.2" ry="4.0"/>
<ellipse cx="963.5" cy="539.8" rx="3.2" ry="4.0"/>
<ellipse cx="960.3" cy="546.3" rx="3.2" ry="4.0"/>
<ellipse cx="965.1" cy="548.7" rx="3.2" ry="4.0"/>
<ellipse cx="969.1" cy="551.1" rx="3.2" ry="4.0"/>
<ellipse cx="982.8" cy="547.1" rx="3.2" ry="4.0"/>
<ellipse cx="987.6" cy="551.9" rx="3.2" ry="4.0"/>
<ellipse cx="991.9" cy="543.0" rx="3.2" ry="4.0"/>
<ellipse cx="919.3" cy="551.9" rx="3.2" ry="4.0"/>
<ellipse cx="925.7" cy="550.3" rx="3.2" ry="4.0"/>
<ellipse cx="998.8" cy="548.7" rx="3.2" ry="4.0"/>
<ellipse cx="1003.7" cy="551.9" rx="3.2" ry="4.0"/>
<ellipse cx="1010.1" cy="551.9" rx="3.2" ry="4.0"/>
<ellipse cx="1019.7" cy="548.7" rx="3.2" ry="4.0"/>
<ellipse cx="1024.5" cy="551.9" rx="3.2" ry="4.0"/>
<ellipse cx="1034.2" cy="548.7" rx="3.2" ry="4.0"/>
<ellipse cx="1040.6" cy="543.8" rx="3.2" ry="4.0"/>
<ellipse cx="1046.2" cy="547.1" rx="3.2" ry="4.0"/>
<ellipse cx="1051.1" cy="543.8" rx="3.2" ry="4.0"/>
<ellipse cx="1051.1" cy="553.5" rx="3.2" ry="4.0"/>
<ellipse cx="1059.9" cy="547.1" rx="3.2" ry="4.0"/>
<ellipse cx="1064.7" cy="551.9" rx="3.2" ry="4.0"/>
<ellipse cx="1061.5" cy="540.6" rx="3.2" ry="4.0"/>
<ellipse cx="1067.9" cy="543.8" rx="3.2" ry="4.0"/>
<ellipse cx="1075.2" cy="546.3" rx="3.2" ry="4.0"/>
<ellipse cx="1079.2" cy="551.9" rx="3.2" ry="4.0"/>
<ellipse cx="1085.6" cy="543.8" rx="3.2" ry="4.0"/>
<ellipse cx="1088.8" cy="550.3" rx="3.2" ry="4.0"/>
<ellipse cx="918.5" cy="563.1" rx="3.2" ry="4.0"/>
<ellipse cx="940.5" cy="561.0" rx="3.2" ry="4.0"/>
<ellipse cx="955.1" cy="556.7" rx="3.2" ry="4.0"/>
<ellipse cx="960.0" cy="559.9" rx="3.2" ry="4.0"/>
<ellipse cx="969.9" cy="561.5" rx="3.2" ry="4.0"/>
<ellipse cx="978.8" cy="559.9" rx="3.2" ry="4.0"/>
<ellipse cx="977.9" cy="563.9" rx="3.2" ry="4.0"/>
<ellipse cx="1006.9" cy="564.7" rx="3.2" ry="4.0"/>
<ellipse cx="1011.7" cy="561.5" rx="3.2" ry="4.0"/>
<ellipse cx="1019.7" cy="556.7" rx="3.2" ry="4.0"/>
<ellipse cx="1024.5" cy="559.9" rx="3.2" ry="4.0"/>
<ellipse cx="1021.3" cy="564.7" rx="3.2" ry="4.0"/>
<ellipse cx="1031.0" cy="559.9" rx="3.2" ry="4.0"/>
<ellipse cx="1037.4" cy="556.7" rx="3.2" ry="4.0"/>
<ellipse cx="1035.8" cy="566.3" rx="3.2" ry="4.0"/>
<ellipse cx="1045.4" cy="564.7" rx="3.2" ry="4.0"/>
<ellipse cx="1051.9" cy="559.9" rx="3.2" ry="4.0"/>
<ellipse cx="1056.7" cy="563.1" rx="3.2" ry="4.0"/>
<ellipse cx="1061.5" cy="567.9" rx="3.2" ry="4.0"/>
<ellipse cx="1066.3" cy="564.7" rx="3.2" ry="4.0"/>
<ellipse cx="1072.8" cy="563.1" rx="3.2" ry="4.0"/>
<ellipse cx="1079.2" cy="561.5" rx="3.2" ry="4.0"/>
<ellipse cx="1085.6" cy="566.3" rx="3.2" ry="4.0"/>
<ellipse cx="1088.8" cy="556.7" rx="3.2" ry="4.0"/>
<ellipse cx="943.7" cy="574.4" rx="3.2" ry="4.0"/>
<ellipse cx="956.3" cy="569.6" rx="3.2" ry="4.0"/>
<ellipse cx="967.5" cy="582.4" rx="3.2" ry="4.0"/>
<ellipse cx="970.7" cy="573.6" rx="3.2" ry="4.0"/>
<ellipse cx="976.3" cy="575.2" rx="3.2" ry="4.0"/>
<ellipse cx="981.2" cy="573.6" rx="3.2" ry="4.0"/>
<ellipse cx="984.4" cy="579.2" rx="3.2" ry="4.0"/>
<ellipse cx="989.2" cy="577.6" rx="3.2" ry="4.0"/>
<ellipse cx="993.2" cy="587.2" rx="3.2" ry="4.0"/>
<ellipse cx="1000.4" cy="576.0" rx="3.2" ry="4.0"/>
<ellipse cx="1001.2" cy="582.4" rx="3.2" ry="4.0"/>
<ellipse cx="1010.1" cy="572.8" rx="3.2" ry="4.0"/>
<ellipse cx="1011.7" cy="582.4" rx="3.2" ry="4.0"/>
<ellipse cx="1018.1" cy="576.0" rx="3.2" ry="4.0"/>
<ellipse cx="1018.1" cy="585.6" rx="3.2" ry="4.0"/>
<ellipse cx="1024.5" cy="579.2" rx="3.2" ry="4.0"/>
<ellipse cx="1029.4" cy="576.0" rx="3.2" ry="4.0"/>
<ellipse cx="1034.2" cy="571.2" rx="3.2" ry="4.0"/>
<ellipse cx="1037.4" cy="577.6" rx="3.2" ry="4.0"/>
<ellipse cx="1041.4" cy="584.8" rx="3.2" ry="4.0"/>
<ellipse cx="1048.7" cy="579.2" rx="3.2" ry="4.0"/>
<ellipse cx="1053.5" cy="574.4" rx="3.2" ry="4.0"/>
<ellipse cx="1058.3" cy="580.8" rx="3.2" ry="4.0"/>
<ellipse cx="1064.7" cy="574.4" rx="3.2" ry="4.0"/>
<ellipse cx="1071.2" cy="569.6" rx="3.2" ry="4.0"/>
<ellipse cx="1069.5" cy="579.2" rx="3.2" ry="4.0"/>
<ellipse cx="1076.0" cy="574.4" rx="3.2" ry="4.0"/>
<ellipse cx="1082.4" cy="571.2" rx="3.2" ry="4.0"/>
<ellipse cx="1087.2" cy="582.4" rx="3.2" ry="4.0"/>
<ellipse cx="904.5" cy="591.2" rx="3.2" ry="4.0"/>
<ellipse cx="914.5" cy="587.6" rx="3.2" ry="4.0"/>
<ellipse cx="946.9" cy="587.6" rx="3.2" ry="4.0"/>
<ellipse cx="950.6" cy="592.1" rx="3.2" ry="4.0"/>
<ellipse cx="950.6" cy="596.9" rx="3.2" ry="4.0"/>
<ellipse cx="959.5" cy="596.1" rx="3.2" ry="4.0"/>
<ellipse cx="997.2" cy="593.7" rx="3.2" ry="4.0"/>
<ellipse cx="1001.2" cy="587.2" rx="3.2" ry="4.0"/>
<ellipse cx="1019.7" cy="593.7" rx="3.2" ry="4.0"/>
<ellipse cx="1026.2" cy="592.1" rx="3.2" ry="4.0"/>
<ellipse cx="1032.6" cy="587.2" rx="3.2" ry="4.0"/>
<ellipse cx="1034.2" cy="599.3" rx="3.2" ry="4.0"/>
<ellipse cx="1039.0" cy="592.1" rx="3.2" ry="4.0"/>
<ellipse cx="1043.8" cy="595.3" rx="3.2" ry="4.0"/>
<ellipse cx="1048.7" cy="587.2" rx="3.2" ry="4.0"/>
<ellipse cx="1051.9" cy="600.1" rx="3.2" ry="4.0"/>
<ellipse cx="1061.5" cy="590.4" rx="3.2" ry="4.0"/>
<ellipse cx="1066.3" cy="593.7" rx="3.2" ry="4.0"/>
<ellipse cx="1072.8" cy="598.5" rx="3.2" ry="4.0"/>
<ellipse cx="1079.2" cy="588.8" rx="3.2" ry="4.0"/>
<ellipse cx="1085.6" cy="595.3" rx="3.2" ry="4.0"/>
<ellipse cx="1088.8" cy="585.6" rx="3.2" ry="4.0"/>
<ellipse cx="897.9" cy="614.2" rx="3.2" ry="4.0"/>
<ellipse cx="920.9" cy="600.9" rx="3.2" ry="4.0"/>
<ellipse cx="920.1" cy="606.5" rx="3.2" ry="4.0"/>
<ellipse cx="927.3" cy="612.6" rx="3.2" ry="4.0"/>
<ellipse cx="929.7" cy="617.4" rx="3.2" ry="4.0"/>
<ellipse cx="943.4" cy="608.9" rx="3.2" ry="4.0"/>
<ellipse cx="949.0" cy="606.5" rx="3.2" ry="4.0"/>
<ellipse cx="952.2" cy="611.3" rx="3.2" ry="4.0"/>
<ellipse cx="947.4" cy="615.4" rx="3.2" ry="4.0"/>
<ellipse cx="955.1" cy="614.5" rx="3.2" ry="4.0"/>
<ellipse cx="965.1" cy="605.7" rx="3.2" ry="4.0"/>
<ellipse cx="970.7" cy="604.9" rx="3.2" ry="4.0"/>
<ellipse cx="973.1" cy="601.7" rx="3.2" ry="4.0"/>
<ellipse cx="980.4" cy="610.5" rx="3.2" ry="4.0"/>
<ellipse cx="983.6" cy="600.9" rx="3.2" ry="4.0"/>
<ellipse cx="987.6" cy="601.7" rx="3.2" ry="4.0"/>
<ellipse cx="982.8" cy="614.5" rx="3.2" ry="4.0"/>
<ellipse cx="990.8" cy="606.5" rx="3.2" ry="4.0"/>
<ellipse cx="997.2" cy="614.5" rx="3.2" ry="4.0"/>
<ellipse cx="1006.9" cy="607.3" rx="3.2" ry="4.0"/>
<ellipse cx="1014.1" cy="609.7" rx="3.2" ry="4.0"/>
<ellipse cx="1029.4" cy="614.5" rx="3.2" ry="4.0"/>
<ellipse cx="1039.0" cy="606.5" rx="3.2" ry="4.0"/>
<ellipse cx="1042.2" cy="611.3" rx="3.2" ry="4.0"/>
<ellipse cx="1047.0" cy="604.9" rx="3.2" ry="4.0"/>
<ellipse cx="1051.9" cy="601.7" rx="3.2" ry="4.0"/>
<ellipse cx="1055.9" cy="611.3" rx="3.2" ry="4.0"/>
<ellipse cx="1059.9" cy="609.7" rx="3.2" ry="4.0"/>
<ellipse cx="1066.3" cy="607.3" rx="3.2" ry="4.0"/>
<ellipse cx="1073.6" cy="611.3" rx="3.2" ry="4.0"/>
<ellipse cx="1079.2" cy="614.5" rx="3.2" ry="4.0"/>
<ellipse cx="1087.2" cy="608.1" rx="3.2" ry="4.0"/>
<ellipse cx="902.4" cy="623.4" rx="3.2" ry="4.0"/>
<ellipse cx="964.3" cy="618.6" rx="3.2" ry="4.0"/>
<ellipse cx="969.9" cy="621.0" rx="3.2" ry="4.0"/>
<ellipse cx="970.7" cy="624.2" rx="3.2" ry="4.0"/>
<ellipse cx="988.4" cy="621.0" rx="3.2" ry="4.0"/>
<ellipse cx="996.4" cy="626.6" rx="3.2" ry="4.0"/>
<ellipse cx="1001.2" cy="629.8" rx="3.2" ry="4.0"/>
<ellipse cx="1010.1" cy="627.4" rx="3.2" ry="4.0"/>
<ellipse cx="1019.7" cy="624.2" rx="3.2" ry="4.0"/>
<ellipse cx="1026.2" cy="624.2" rx="3.2" ry="4.0"/>
<ellipse cx="1032.6" cy="622.6" rx="3.2" ry="4.0"/>
<ellipse cx="1038.2" cy="619.4" rx="3.2" ry="4.0"/>
<ellipse cx="1042.2" cy="625.8" rx="3.2" ry="4.0"/>
<ellipse cx="1048.7" cy="627.4" rx="3.2" ry="4.0"/>
<ellipse cx="1061.5" cy="622.6" rx="3.2" ry="4.0"/>
<ellipse cx="1066.3" cy="619.4" rx="3.2" ry="4.0"/>
<ellipse cx="1069.5" cy="624.2" rx="3.2" ry="4.0"/>
<ellipse cx="1079.2" cy="622.6" rx="3.2" ry="4.0"/>
<ellipse cx="1085.6" cy="629.0" rx="3.2" ry="4.0"/>
<ellipse cx="1076.0" cy="632.2" rx="3.2" ry="4.0"/>
<ellipse cx="910.5" cy="636.2" rx="3.2" ry="4.0"/>
<ellipse cx="912.9" cy="643.5" rx="3.2" ry="4.0"/>
<ellipse cx="918.8" cy="638.3" rx="3.2" ry="4.0"/>
<ellipse cx="903.2" cy="649.9" rx="3.2" ry="4.0"/>
<ellipse cx="938.3" cy="645.1" rx="3.2" ry="4.0"/>
<ellipse cx="952.2" cy="638.7" rx="3.2" ry="4.0"/>
<ellipse cx="960.6" cy="641.1" rx="3.2" ry="4.0"/>
<ellipse cx="967.8" cy="635.4" rx="3.2" ry="4.0"/>
<ellipse cx="978.8" cy="636.2" rx="3.2" ry="4.0"/>
<ellipse cx="982.8" cy="643.5" rx="3.2" ry="4.0"/>
<ellipse cx="989.2" cy="637.9" rx="3.2" ry="4.0"/>
<ellipse cx="993.2" cy="636.2" rx="3.2" ry="4.0"/>
<ellipse cx="1002.1" cy="636.2" rx="3.2" ry="4.0"/>
<ellipse cx="1010.1" cy="640.3" rx="3.2" ry="4.0"/>
<ellipse cx="1016.5" cy="635.4" rx="3.2" ry="4.0"/>
<ellipse cx="1021.3" cy="637.0" rx="3.2" ry="4.0"/>
<ellipse cx="1035.8" cy="637.0" rx="3.2" ry="4.0"/>
<ellipse cx="1042.2" cy="636.2" rx="3.2" ry="4.0"/>
<ellipse cx="1048.7" cy="638.7" rx="3.2" ry="4.0"/>
<ellipse cx="1039.0" cy="644.3" rx="3.2" ry="4.0"/>
<ellipse cx="1044.6" cy="648.3" rx="3.2" ry="4.0"/>
<ellipse cx="1061.5" cy="634.6" rx="3.2" ry="4.0"/>
<ellipse cx="1067.1" cy="633.8" rx="3.2" ry="4.0"/>
<ellipse cx="1066.3" cy="645.1" rx="3.2" ry="4.0"/>
<ellipse cx="1061.5" cy="649.9" rx="3.2" ry="4.0"/>
<ellipse cx="1074.4" cy="645.1" rx="3.2" ry="4.0"/>
<ellipse cx="1079.2" cy="637.0" rx="3.2" ry="4.0"/>
<ellipse cx="1084.0" cy="649.9" rx="3.2" ry="4.0"/>
<ellipse cx="949.0" cy="650.7" rx="3.2" ry="4.0"/>
<ellipse cx="960.3" cy="650.7" rx="3.2" ry="4.0"/>
<ellipse cx="998.0" cy="651.5" rx="3.2" ry="4.0"/>
<ellipse cx="1004.5" cy="649.9" rx="3.2" ry="4.0"/>
<ellipse cx="1015.7" cy="648.3" rx="3.2" ry="4.0"/>
<ellipse cx="1024.5" cy="649.9" rx="3.2" ry="4.0"/>
<ellipse cx="1029.4" cy="651.5" rx="3.2" ry="4.0"/>
<ellipse cx="1100.2" cy="447.7" rx="3.2" ry="4.0"/>
<ellipse cx="1109.6" cy="444.2" rx="3.2" ry="4.0"/>
<ellipse cx="1117.9" cy="448.2" rx="3.2" ry="4.0"/>
<ellipse cx="1121.1" cy="447.7" rx="3.2" ry="4.0"/>
<ellipse cx="1143.3" cy="445.8" rx="3.2" ry="4.0"/>
<ellipse cx="1140.1" cy="453.5" rx="3.2" ry="4.0"/>
<ellipse cx="1158.4" cy="450.2" rx="3.2" ry="4.0"/>
<ellipse cx="1199.4" cy="443.9" rx="3.2" ry="4.0"/>
<ellipse cx="1284.6" cy="452.6" rx="3.2" ry="4.0"/>
<ellipse cx="1117.1" cy="462.4" rx="3.2" ry="4.0"/>
<ellipse cx="1124.0" cy="463.5" rx="3.2" ry="4.0"/>
<ellipse cx="1096.2" cy="471.0" rx="3.2" ry="4.0"/>
<ellipse cx="1129.2" cy="472.3" rx="3.2" ry="4.0"/>
<ellipse cx="1131.1" cy="475.5" rx="3.2" ry="4.0"/>
<ellipse cx="1154.6" cy="467.5" rx="3.2" ry="4.0"/>
<ellipse cx="1156.5" cy="473.9" rx="3.2" ry="4.0"/>
<ellipse cx="1167.7" cy="469.6" rx="3.2" ry="4.0"/>
<ellipse cx="1177.4" cy="464.3" rx="3.2" ry="4.0"/>
<ellipse cx="1192.2" cy="461.1" rx="3.2" ry="4.0"/>
<ellipse cx="1183.3" cy="473.1" rx="3.2" ry="4.0"/>
<ellipse cx="1190.2" cy="477.6" rx="3.2" ry="4.0"/>
<ellipse cx="1104.6" cy="480.4" rx="3.2" ry="4.0"/>
<ellipse cx="1109.9" cy="483.6" rx="3.2" ry="4.0"/>
<ellipse cx="1117.9" cy="481.2" rx="3.2" ry="4.0"/>
<ellipse cx="1093.8" cy="491.1" rx="3.2" ry="4.0"/>
<ellipse cx="1105.1" cy="490.8" rx="3.2" ry="4.0"/>
<ellipse cx="1111.5" cy="487.6" rx="3.2" ry="4.0"/>
<ellipse cx="1114.7" cy="494.0" rx="3.2" ry="4.0"/>
<ellipse cx="1131.1" cy="490.5" rx="3.2" ry="4.0"/>
<ellipse cx="1156.2" cy="482.0" rx="3.2" ry="4.0"/>
<ellipse cx="1152.0" cy="487.6" rx="3.2" ry="4.0"/>
<ellipse cx="1148.1" cy="490.0" rx="3.2" ry="4.0"/>
<ellipse cx="1144.4" cy="494.8" rx="3.2" ry="4.0"/>
<ellipse cx="1155.7" cy="492.4" rx="3.2" ry="4.0"/>
<ellipse cx="1168.5" cy="487.9" rx="3.2" ry="4.0"/>
<ellipse cx="1188.3" cy="486.8" rx="3.2" ry="4.0"/>
<ellipse cx="1195.1" cy="491.1" rx="3.2" ry="4.0"/>
<ellipse cx="1222.9" cy="489.2" rx="3.2" ry="4.0"/>
<ellipse cx="1234.9" cy="492.7" rx="3.2" ry="4.0"/>
<ellipse cx="1246.2" cy="491.6" rx="3.2" ry="4.0"/>
<ellipse cx="1253.7" cy="495.6" rx="3.2" ry="4.0"/>
<ellipse cx="1259.8" cy="494.8" rx="3.2" ry="4.0"/>
<ellipse cx="1285.4" cy="491.9" rx="3.2" ry="4.0"/>
<ellipse cx="1102.7" cy="499.7" rx="3.2" ry="4.0"/>
<ellipse cx="1113.1" cy="498.8" rx="3.2" ry="4.0"/>
<ellipse cx="1093.0" cy="501.7" rx="3.2" ry="4.0"/>
<ellipse cx="1123.1" cy="505.8" rx="3.2" ry="4.0"/>
<ellipse cx="1139.3" cy="501.7" rx="3.2" ry="4.0"/>
<ellipse cx="1166.1" cy="501.3" rx="3.2" ry="4.0"/>
<ellipse cx="1171.8" cy="498.0" rx="3.2" ry="4.0"/>
<ellipse cx="1178.2" cy="496.4" rx="3.2" ry="4.0"/>
<ellipse cx="1189.4" cy="495.3" rx="3.2" ry="4.0"/>
<ellipse cx="1189.4" cy="504.8" rx="3.2" ry="4.0"/>
<ellipse cx="1200.4" cy="503.2" rx="3.2" ry="4.0"/>
<ellipse cx="1232.3" cy="500.1" rx="3.2" ry="4.0"/>
<ellipse cx="1177.1" cy="506.1" rx="3.2" ry="4.0"/>
<ellipse cx="1180.6" cy="506.1" rx="3.2" ry="4.0"/>
<ellipse cx="1099.8" cy="510.1" rx="3.2" ry="4.0"/>
<ellipse cx="1145.2" cy="514.9" rx="3.2" ry="4.0"/>
<ellipse cx="1139.6" cy="514.9" rx="3.2" ry="4.0"/>
<ellipse cx="1147.7" cy="510.1" rx="3.2" ry="4.0"/>
<ellipse cx="1152.0" cy="506.9" rx="3.2" ry="4.0"/>
<ellipse cx="1154.9" cy="510.9" rx="3.2" ry="4.0"/>
<ellipse cx="1162.9" cy="511.7" rx="3.2" ry="4.0"/>
<ellipse cx="1169.3" cy="510.1" rx="3.2" ry="4.0"/>
<ellipse cx="1164.5" cy="518.9" rx="3.2" ry="4.0"/>
<ellipse cx="1111.5" cy="516.5" rx="3.2" ry="4.0"/>
<ellipse cx="1117.9" cy="519.7" rx="3.2" ry="4.0"/>
<ellipse cx="1103.5" cy="523.8" rx="3.2" ry="4.0"/>
<ellipse cx="1108.3" cy="521.3" rx="3.2" ry="4.0"/>
<ellipse cx="1113.9" cy="520.5" rx="3.2" ry="4.0"/>
<ellipse cx="1256.9" cy="509.6" rx="3.2" ry="4.0"/>
<ellipse cx="1275.4" cy="508.5" rx="3.2" ry="4.0"/>
<ellipse cx="1213.2" cy="525.8" rx="3.2" ry="4.0"/>
<ellipse cx="1126.0" cy="524.6" rx="3.2" ry="4.0"/>
<ellipse cx="1129.2" cy="521.3" rx="3.2" ry="4.0"/>
<ellipse cx="1136.4" cy="524.6" rx="3.2" ry="4.0"/>
<ellipse cx="1114.7" cy="528.6" rx="3.2" ry="4.0"/>
<ellipse cx="1119.5" cy="532.6" rx="3.2" ry="4.0"/>
<ellipse cx="1125.2" cy="535.8" rx="3.2" ry="4.0"/>
<ellipse cx="1131.6" cy="531.0" rx="3.2" ry="4.0"/>
<ellipse cx="1137.2" cy="529.4" rx="3.2" ry="4.0"/>
<ellipse cx="1128.4" cy="540.6" rx="3.2" ry="4.0"/>
<ellipse cx="1134.8" cy="537.4" rx="3.2" ry="4.0"/>
<ellipse cx="1149.3" cy="538.2" rx="3.2" ry="4.0"/>
<ellipse cx="1154.9" cy="541.4" rx="3.2" ry="4.0"/>
<ellipse cx="1160.5" cy="531.8" rx="3.2" ry="4.0"/>
<ellipse cx="1166.1" cy="526.2" rx="3.2" ry="4.0"/>
<ellipse cx="1169.3" cy="530.2" rx="3.2" ry="4.0"/>
<ellipse cx="1174.2" cy="534.2" rx="3.2" ry="4.0"/>
<ellipse cx="1178.2" cy="536.1" rx="3.2" ry="4.0"/>
<ellipse cx="1098.6" cy="534.2" rx="3.2" ry="4.0"/>
<ellipse cx="1094.6" cy="531.0" rx="3.2" ry="4.0"/>
<ellipse cx="1097.0" cy="537.4" rx="3.2" ry="4.0"/>
<ellipse cx="1117.1" cy="539.0" rx="3.2" ry="4.0"/>
<ellipse cx="1201.5" cy="539.8" rx="3.2" ry="4.0"/>
<ellipse cx="1210.3" cy="539.0" rx="3.2" ry="4.0"/>
<ellipse cx="1266.6" cy="538.7" rx="3.2" ry="4.0"/>
<ellipse cx="1289.4" cy="543.0" rx="3.2" ry="4.0"/>
<ellipse cx="1103.5" cy="544.6" rx="3.2" ry="4.0"/>
<ellipse cx="1093.8" cy="547.1" rx="3.2" ry="4.0"/>
<ellipse cx="1095.4" cy="556.7" rx="3.2" ry="4.0"/>
<ellipse cx="1113.1" cy="553.5" rx="3.2" ry="4.0"/>
<ellipse cx="1120.0" cy="551.1" rx="3.2" ry="4.0"/>
<ellipse cx="1125.2" cy="553.5" rx="3.2" ry="4.0"/>
<ellipse cx="1128.4" cy="547.1" rx="3.2" ry="4.0"/>
<ellipse cx="1135.6" cy="544.6" rx="3.2" ry="4.0"/>
<ellipse cx="1142.0" cy="543.0" rx="3.2" ry="4.0"/>
<ellipse cx="1145.2" cy="548.7" rx="3.2" ry="4.0"/>
<ellipse cx="1137.2" cy="554.3" rx="3.2" ry="4.0"/>
<ellipse cx="1148.5" cy="555.1" rx="3.2" ry="4.0"/>
<ellipse cx="1158.1" cy="545.5" rx="3.2" ry="4.0"/>
<ellipse cx="1159.7" cy="553.5" rx="3.2" ry="4.0"/>
<ellipse cx="1162.9" cy="555.9" rx="3.2" ry="4.0"/>
<ellipse cx="1167.7" cy="544.6" rx="3.2" ry="4.0"/>
<ellipse cx="1171.8" cy="542.2" rx="3.2" ry="4.0"/>
<ellipse cx="1169.3" cy="555.1" rx="3.2" ry="4.0"/>
<ellipse cx="1174.2" cy="554.3" rx="3.2" ry="4.0"/>
<ellipse cx="1180.3" cy="551.6" rx="3.2" ry="4.0"/>
<ellipse cx="1206.3" cy="543.8" rx="3.2" ry="4.0"/>
<ellipse cx="1205.2" cy="550.6" rx="3.2" ry="4.0"/>
<ellipse cx="1106.4" cy="562.3" rx="3.2" ry="4.0"/>
<ellipse cx="1097.0" cy="564.7" rx="3.2" ry="4.0"/>
<ellipse cx="1113.1" cy="566.3" rx="3.2" ry="4.0"/>
<ellipse cx="1118.7" cy="564.7" rx="3.2" ry="4.0"/>
<ellipse cx="1123.5" cy="566.3" rx="3.2" ry="4.0"/>
<ellipse cx="1127.6" cy="559.9" rx="3.2" ry="4.0"/>
<ellipse cx="1132.4" cy="558.3" rx="3.2" ry="4.0"/>
<ellipse cx="1134.8" cy="566.3" rx="3.2" ry="4.0"/>
<ellipse cx="1150.1" cy="557.5" rx="3.2" ry="4.0"/>
<ellipse cx="1159.7" cy="564.7" rx="3.2" ry="4.0"/>
<ellipse cx="1166.9" cy="563.1" rx="3.2" ry="4.0"/>
<ellipse cx="1179.8" cy="563.9" rx="3.2" ry="4.0"/>
<ellipse cx="1197.5" cy="561.2" rx="3.2" ry="4.0"/>
<ellipse cx="1203.9" cy="560.7" rx="3.2" ry="4.0"/>
<ellipse cx="1202.3" cy="571.2" rx="3.2" ry="4.0"/>
<ellipse cx="1208.7" cy="569.6" rx="3.2" ry="4.0"/>
<ellipse cx="1214.3" cy="573.6" rx="3.2" ry="4.0"/>
<ellipse cx="1225.6" cy="568.8" rx="3.2" ry="4.0"/>
<ellipse cx="1240.9" cy="569.6" rx="3.2" ry="4.0"/>
<ellipse cx="1283.0" cy="571.5" rx="3.2" ry="4.0"/>
<ellipse cx="1092.2" cy="574.4" rx="3.2" ry="4.0"/>
<ellipse cx="1101.9" cy="572.8" rx="3.2" ry="4.0"/>
<ellipse cx="1111.5" cy="576.8" rx="3.2" ry="4.0"/>
<ellipse cx="1120.5" cy="578.1" rx="3.2" ry="4.0"/>
<ellipse cx="1135.6" cy="579.2" rx="3.2" ry="4.0"/>
<ellipse cx="1140.4" cy="574.4" rx="3.2" ry="4.0"/>
<ellipse cx="1146.8" cy="576.0" rx="3.2" ry="4.0"/>
<ellipse cx="1152.6" cy="582.9" rx="3.2" ry="4.0"/>
<ellipse cx="1158.4" cy="573.3" rx="3.2" ry="4.0"/>
<ellipse cx="1163.4" cy="582.9" rx="3.2" ry="4.0"/>
<ellipse cx="1172.2" cy="584.5" rx="3.2" ry="4.0"/>
<ellipse cx="1181.4" cy="573.6" rx="3.2" ry="4.0"/>
<ellipse cx="1180.6" cy="579.2" rx="3.2" ry="4.0"/>
<ellipse cx="1187.0" cy="584.0" rx="3.2" ry="4.0"/>
<ellipse cx="1191.8" cy="580.8" rx="3.2" ry="4.0"/>
<ellipse cx="1209.5" cy="574.4" rx="3.2" ry="4.0"/>
<ellipse cx="1206.3" cy="587.2" rx="3.2" ry="4.0"/>
<ellipse cx="1242.5" cy="577.3" rx="3.2" ry="4.0"/>
<ellipse cx="1254.2" cy="577.6" rx="3.2" ry="4.0"/>
<ellipse cx="1221.6" cy="586.4" rx="3.2" ry="4.0"/>
<ellipse cx="1098.6" cy="585.6" rx="3.2" ry="4.0"/>
<ellipse cx="1115.5" cy="584.8" rx="3.2" ry="4.0"/>
<ellipse cx="1098.6" cy="592.1" rx="3.2" ry="4.0"/>
<ellipse cx="1106.7" cy="596.1" rx="3.2" ry="4.0"/>
<ellipse cx="1096.2" cy="600.9" rx="3.2" ry="4.0"/>
<ellipse cx="1118.7" cy="597.7" rx="3.2" ry="4.0"/>
<ellipse cx="1122.7" cy="588.8" rx="3.2" ry="4.0"/>
<ellipse cx="1128.4" cy="593.7" rx="3.2" ry="4.0"/>
<ellipse cx="1143.6" cy="592.9" rx="3.2" ry="4.0"/>
<ellipse cx="1150.1" cy="595.3" rx="3.2" ry="4.0"/>
<ellipse cx="1153.3" cy="590.4" rx="3.2" ry="4.0"/>
<ellipse cx="1158.1" cy="597.7" rx="3.2" ry="4.0"/>
<ellipse cx="1186.2" cy="594.5" rx="3.2" ry="4.0"/>
<ellipse cx="1203.4" cy="596.9" rx="3.2" ry="4.0"/>
<ellipse cx="1248.4" cy="586.9" rx="3.2" ry="4.0"/>
<ellipse cx="1243.3" cy="595.6" rx="3.2" ry="4.0"/>
<ellipse cx="1135.6" cy="587.2" rx="3.2" ry="4.0"/>
<ellipse cx="1103.5" cy="612.6" rx="3.2" ry="4.0"/>
<ellipse cx="1113.9" cy="609.7" rx="3.2" ry="4.0"/>
<ellipse cx="1117.9" cy="612.9" rx="3.2" ry="4.0"/>
<ellipse cx="1131.6" cy="608.1" rx="3.2" ry="4.0"/>
<ellipse cx="1127.6" cy="614.5" rx="3.2" ry="4.0"/>
<ellipse cx="1139.6" cy="604.9" rx="3.2" ry="4.0"/>
<ellipse cx="1153.3" cy="608.1" rx="3.2" ry="4.0"/>
<ellipse cx="1159.7" cy="604.9" rx="3.2" ry="4.0"/>
<ellipse cx="1167.7" cy="609.4" rx="3.2" ry="4.0"/>
<ellipse cx="1172.6" cy="615.4" rx="3.2" ry="4.0"/>
<ellipse cx="1179.0" cy="604.1" rx="3.2" ry="4.0"/>
<ellipse cx="1183.0" cy="610.5" rx="3.2" ry="4.0"/>
<ellipse cx="1150.9" cy="617.8" rx="3.2" ry="4.0"/>
<ellipse cx="1161.3" cy="615.4" rx="3.2" ry="4.0"/>
<ellipse cx="1164.5" cy="618.6" rx="3.2" ry="4.0"/>
<ellipse cx="1095.4" cy="623.4" rx="3.2" ry="4.0"/>
<ellipse cx="1101.9" cy="625.5" rx="3.2" ry="4.0"/>
<ellipse cx="1109.1" cy="622.6" rx="3.2" ry="4.0"/>
<ellipse cx="1116.3" cy="624.2" rx="3.2" ry="4.0"/>
<ellipse cx="1121.9" cy="623.4" rx="3.2" ry="4.0"/>
<ellipse cx="1130.0" cy="627.4" rx="3.2" ry="4.0"/>
<ellipse cx="1135.6" cy="622.6" rx="3.2" ry="4.0"/>
<ellipse cx="1142.8" cy="628.2" rx="3.2" ry="4.0"/>
<ellipse cx="1148.5" cy="625.8" rx="3.2" ry="4.0"/>
<ellipse cx="1158.1" cy="632.2" rx="3.2" ry="4.0"/>
<ellipse cx="1164.5" cy="634.6" rx="3.2" ry="4.0"/>
<ellipse cx="1172.6" cy="622.6" rx="3.2" ry="4.0"/>
<ellipse cx="1173.4" cy="632.2" rx="3.2" ry="4.0"/>
<ellipse cx="1198.3" cy="627.4" rx="3.2" ry="4.0"/>
<ellipse cx="1201.5" cy="634.6" rx="3.2" ry="4.0"/>
<ellipse cx="1230.1" cy="629.3" rx="3.2" ry="4.0"/>
<ellipse cx="1268.5" cy="622.9" rx="3.2" ry="4.0"/>
<ellipse cx="1284.7" cy="635.4" rx="3.2" ry="4.0"/>
<ellipse cx="1093.0" cy="630.6" rx="3.2" ry="4.0"/>
<ellipse cx="1117.1" cy="639.5" rx="3.2" ry="4.0"/>
<ellipse cx="1127.6" cy="633.8" rx="3.2" ry="4.0"/>
<ellipse cx="1132.4" cy="641.9" rx="3.2" ry="4.0"/>
<ellipse cx="1143.6" cy="639.5" rx="3.2" ry="4.0"/>
<ellipse cx="1146.0" cy="646.7" rx="3.2" ry="4.0"/>
<ellipse cx="1155.7" cy="642.7" rx="3.2" ry="4.0"/>
<ellipse cx="1165.3" cy="645.1" rx="3.2" ry="4.0"/>
<ellipse cx="1174.2" cy="640.3" rx="3.2" ry="4.0"/>
<ellipse cx="1182.2" cy="638.7" rx="3.2" ry="4.0"/>
<ellipse cx="1185.4" cy="647.5" rx="3.2" ry="4.0"/>
<ellipse cx="1192.6" cy="645.9" rx="3.2" ry="4.0"/>
<ellipse cx="1199.9" cy="641.9" rx="3.2" ry="4.0"/>
<ellipse cx="1203.1" cy="645.1" rx="3.2" ry="4.0"/>
<ellipse cx="1208.7" cy="639.5" rx="3.2" ry="4.0"/>
<ellipse cx="1100.2" cy="646.7" rx="3.2" ry="4.0"/>
<ellipse cx="1105.1" cy="649.9" rx="3.2" ry="4.0"/>
<ellipse cx="1121.1" cy="649.9" rx="3.2" ry="4.0"/>
<ellipse cx="1131.6" cy="650.7" rx="3.2" ry="4.0"/>
<ellipse cx="1093.0" cy="651.5" rx="3.2" ry="4.0"/>
<ellipse cx="1240.1" cy="653.1" rx="3.2" ry="4.0"/>
<ellipse cx="1297.1" cy="648.3" rx="3.2" ry="4.0"/>
<ellipse cx="1372.7" cy="517.8" rx="3.2" ry="4.0"/>
<ellipse cx="1377.0" cy="605.4" rx="3.2" ry="4.0"/>
<ellipse cx="983.3" cy="660.7" rx="3.2" ry="4.0"/>
<ellipse cx="957.4" cy="666.1" rx="3.2" ry="4.0"/>
<ellipse cx="946.6" cy="672.8" rx="3.2" ry="4.0"/>
<ellipse cx="976.3" cy="672.5" rx="3.2" ry="4.0"/>
<ellipse cx="972.3" cy="677.0" rx="3.2" ry="4.0"/>
<ellipse cx="977.1" cy="683.7" rx="3.2" ry="4.0"/>
<ellipse cx="960.3" cy="688.2" rx="3.2" ry="4.0"/>
<ellipse cx="973.4" cy="692.2" rx="3.2" ry="4.0"/>
<ellipse cx="996.4" cy="661.2" rx="3.2" ry="4.0"/>
<ellipse cx="1002.1" cy="657.2" rx="3.2" ry="4.0"/>
<ellipse cx="995.6" cy="667.7" rx="3.2" ry="4.0"/>
<ellipse cx="1001.2" cy="667.7" rx="3.2" ry="4.0"/>
<ellipse cx="1006.9" cy="663.6" rx="3.2" ry="4.0"/>
<ellipse cx="1011.7" cy="666.9" rx="3.2" ry="4.0"/>
<ellipse cx="1016.5" cy="664.4" rx="3.2" ry="4.0"/>
<ellipse cx="1022.1" cy="666.1" rx="3.2" ry="4.0"/>
<ellipse cx="1018.1" cy="670.1" rx="3.2" ry="4.0"/>
<ellipse cx="1014.1" cy="674.9" rx="3.2" ry="4.0"/>
<ellipse cx="1027.8" cy="672.5" rx="3.2" ry="4.0"/>
<ellipse cx="1034.2" cy="674.1" rx="3.2" ry="4.0"/>
<ellipse cx="1040.3" cy="678.4" rx="3.2" ry="4.0"/>
<ellipse cx="1021.0" cy="678.9" rx="3.2" ry="4.0"/>
<ellipse cx="1014.9" cy="683.7" rx="3.2" ry="4.0"/>
<ellipse cx="1022.1" cy="685.3" rx="3.2" ry="4.0"/>
<ellipse cx="1027.8" cy="683.7" rx="3.2" ry="4.0"/>
<ellipse cx="1025.4" cy="694.2" rx="3.2" ry="4.0"/>
<ellipse cx="1028.6" cy="694.2" rx="3.2" ry="4.0"/>
<ellipse cx="1041.4" cy="666.1" rx="3.2" ry="4.0"/>
<ellipse cx="1045.4" cy="658.8" rx="3.2" ry="4.0"/>
<ellipse cx="1048.7" cy="657.2" rx="3.2" ry="4.0"/>
<ellipse cx="1051.5" cy="669.7" rx="3.2" ry="4.0"/>
<ellipse cx="1056.7" cy="670.9" rx="3.2" ry="4.0"/>
<ellipse cx="1055.1" cy="678.1" rx="3.2" ry="4.0"/>
<ellipse cx="1053.5" cy="682.1" rx="3.2" ry="4.0"/>
<ellipse cx="1063.9" cy="682.1" rx="3.2" ry="4.0"/>
<ellipse cx="1062.3" cy="663.6" rx="3.2" ry="4.0"/>
<ellipse cx="1067.9" cy="666.1" rx="3.2" ry="4.0"/>
<ellipse cx="1072.8" cy="661.7" rx="3.2" ry="4.0"/>
<ellipse cx="1066.3" cy="657.2" rx="3.2" ry="4.0"/>
<ellipse cx="1071.2" cy="675.7" rx="3.2" ry="4.0"/>
<ellipse cx="1070.3" cy="680.5" rx="3.2" ry="4.0"/>
<ellipse cx="1073.2" cy="694.2" rx="3.2" ry="4.0"/>
<ellipse cx="1087.2" cy="693.9" rx="3.2" ry="4.0"/>
<ellipse cx="1088.5" cy="670.9" rx="3.2" ry="4.0"/>
<ellipse cx="1053.5" cy="695.0" rx="3.2" ry="4.0"/>
<ellipse cx="1051.9" cy="701.7" rx="3.2" ry="4.0"/>
<ellipse cx="1057.5" cy="707.5" rx="3.2" ry="4.0"/>
<ellipse cx="1027.4" cy="715.1" rx="3.2" ry="4.0"/>
<ellipse cx="1030.5" cy="711.0" rx="3.2" ry="4.0"/>
<ellipse cx="1011.4" cy="716.7" rx="3.2" ry="4.0"/>
<ellipse cx="896.3" cy="713.9" rx="3.2" ry="4.0"/>
<ellipse cx="920.4" cy="715.4" rx="3.2" ry="4.0"/>
<ellipse cx="1019.7" cy="656.4" rx="3.2" ry="4.0"/>
<ellipse cx="1026.2" cy="658.0" rx="3.2" ry="4.0"/>
<ellipse cx="1093.0" cy="658.0" rx="3.2" ry="4.0"/>
<ellipse cx="1109.1" cy="658.8" rx="3.2" ry="4.0"/>
<ellipse cx="1101.9" cy="665.6" rx="3.2" ry="4.0"/>
<ellipse cx="1106.7" cy="666.1" rx="3.2" ry="4.0"/>
<ellipse cx="1114.7" cy="666.9" rx="3.2" ry="4.0"/>
<ellipse cx="1117.9" cy="663.6" rx="3.2" ry="4.0"/>
<ellipse cx="1127.6" cy="664.1" rx="3.2" ry="4.0"/>
<ellipse cx="1092.2" cy="670.1" rx="3.2" ry="4.0"/>
<ellipse cx="1096.2" cy="674.1" rx="3.2" ry="4.0"/>
<ellipse cx="1101.9" cy="672.5" rx="3.2" ry="4.0"/>
<ellipse cx="1105.9" cy="676.5" rx="3.2" ry="4.0"/>
<ellipse cx="1109.9" cy="674.1" rx="3.2" ry="4.0"/>
<ellipse cx="1118.7" cy="673.3" rx="3.2" ry="4.0"/>
<ellipse cx="1109.9" cy="682.9" rx="3.2" ry="4.0"/>
<ellipse cx="1114.4" cy="680.5" rx="3.2" ry="4.0"/>
<ellipse cx="1097.4" cy="683.7" rx="3.2" ry="4.0"/>
<ellipse cx="1146.8" cy="655.9" rx="3.2" ry="4.0"/>
<ellipse cx="1158.1" cy="656.4" rx="3.2" ry="4.0"/>
<ellipse cx="1152.0" cy="666.9" rx="3.2" ry="4.0"/>
<ellipse cx="1157.3" cy="672.5" rx="3.2" ry="4.0"/>
<ellipse cx="1162.6" cy="665.2" rx="3.2" ry="4.0"/>
<ellipse cx="1164.0" cy="678.4" rx="3.2" ry="4.0"/>
<ellipse cx="1172.6" cy="671.4" rx="3.2" ry="4.0"/>
<ellipse cx="1186.2" cy="659.6" rx="3.2" ry="4.0"/>
<ellipse cx="1196.7" cy="659.6" rx="3.2" ry="4.0"/>
<ellipse cx="1240.1" cy="656.4" rx="3.2" ry="4.0"/>
<ellipse cx="1137.5" cy="682.1" rx="3.2" ry="4.0"/>
<ellipse cx="1145.2" cy="686.1" rx="3.2" ry="4.0"/>
<ellipse cx="1146.0" cy="689.4" rx="3.2" ry="4.0"/>
<ellipse cx="1150.9" cy="688.5" rx="3.2" ry="4.0"/>
<ellipse cx="1156.5" cy="692.6" rx="3.2" ry="4.0"/>
<ellipse cx="1151.7" cy="694.2" rx="3.2" ry="4.0"/>
<ellipse cx="1134.0" cy="689.7" rx="3.2" ry="4.0"/>
<ellipse cx="1125.2" cy="688.5" rx="3.2" ry="4.0"/>
<ellipse cx="1164.5" cy="690.6" rx="3.2" ry="4.0"/>
<ellipse cx="1139.6" cy="695.5" rx="3.2" ry="4.0"/>
<ellipse cx="1117.9" cy="693.4" rx="3.2" ry="4.0"/>
<ellipse cx="1116.0" cy="700.6" rx="3.2" ry="4.0"/>
<ellipse cx="1101.1" cy="695.0" rx="3.2" ry="4.0"/>
<ellipse cx="1098.6" cy="703.8" rx="3.2" ry="4.0"/>
<ellipse cx="1096.2" cy="705.1" rx="3.2" ry="4.0"/>
<ellipse cx="1097.0" cy="713.5" rx="3.2" ry="4.0"/>
<ellipse cx="1151.7" cy="701.4" rx="3.2" ry="4.0"/>
<ellipse cx="1182.2" cy="702.2" rx="3.2" ry="4.0"/>
<ellipse cx="1191.0" cy="700.1" rx="3.2" ry="4.0"/>
<ellipse cx="1184.6" cy="708.6" rx="3.2" ry="4.0"/>
<ellipse cx="1190.6" cy="710.6" rx="3.2" ry="4.0"/>
<ellipse cx="1171.0" cy="710.6" rx="3.2" ry="4.0"/>
<ellipse cx="1205.5" cy="688.1" rx="3.2" ry="4.0"/>
<ellipse cx="1207.9" cy="703.3" rx="3.2" ry="4.0"/>
<ellipse cx="1204.4" cy="707.4" rx="3.2" ry="4.0"/>
<ellipse cx="1124.0" cy="721.2" rx="3.2" ry="4.0"/>
<ellipse cx="1045.0" cy="489.6" rx="3.2" ry="4.0"/>
<ellipse cx="1114.1" cy="686.2" rx="3.2" ry="4.0"/>
<ellipse cx="987.4" cy="563.0" rx="3.2" ry="4.0"/>
<ellipse cx="1101.1" cy="579.4" rx="3.2" ry="4.0"/>
<ellipse cx="1065.8" cy="588.3" rx="3.2" ry="4.0"/>
<ellipse cx="1008.7" cy="628.6" rx="3.2" ry="4.0"/>
<ellipse cx="1030.0" cy="549.5" rx="3.2" ry="4.0"/>
<ellipse cx="1011.5" cy="554.1" rx="3.2" ry="4.0"/>
<ellipse cx="992.9" cy="589.6" rx="3.2" ry="4.0"/>
<ellipse cx="1025.4" cy="610.2" rx="3.2" ry="4.0"/>
<ellipse cx="972.5" cy="562.5" rx="3.2" ry="4.0"/>
<ellipse cx="1177.7" cy="548.7" rx="3.2" ry="4.0"/>
<ellipse cx="973.2" cy="521.5" rx="3.2" ry="4.0"/>
<ellipse cx="1073.5" cy="532.9" rx="3.2" ry="4.0"/>
<ellipse cx="1128.1" cy="579.3" rx="3.2" ry="4.0"/>
<ellipse cx="1049.2" cy="653.1" rx="3.2" ry="4.0"/>
<ellipse cx="995.5" cy="558.1" rx="3.2" ry="4.0"/>
<ellipse cx="1214.2" cy="569.2" rx="3.2" ry="4.0"/>
<ellipse cx="1150.4" cy="572.4" rx="3.2" ry="4.0"/>
<ellipse cx="1033.3" cy="655.8" rx="3.2" ry="4.0"/>
<ellipse cx="1119.5" cy="515.1" rx="3.2" ry="4.0"/>
<ellipse cx="1104.6" cy="680.1" rx="3.2" ry="4.0"/>
<ellipse cx="1034.0" cy="518.0" rx="3.2" ry="4.0"/>
<ellipse cx="964.6" cy="584.2" rx="3.2" ry="4.0"/>
<ellipse cx="1103.4" cy="563.7" rx="3.2" ry="4.0"/>
<ellipse cx="1052.0" cy="493.6" rx="3.2" ry="4.0"/>
<ellipse cx="1032.2" cy="538.5" rx="3.2" ry="4.0"/>
<ellipse cx="1046.4" cy="653.4" rx="3.2" ry="4.0"/>
<ellipse cx="1027.0" cy="505.3" rx="3.2" ry="4.0"/>
<ellipse cx="1087.6" cy="492.7" rx="3.2" ry="4.0"/>
<ellipse cx="996.1" cy="541.8" rx="3.2" ry="4.0"/>
<ellipse cx="1051.8" cy="517.8" rx="3.2" ry="4.0"/>
<ellipse cx="1106.6" cy="636.1" rx="3.2" ry="4.0"/>
<ellipse cx="1141.9" cy="569.5" rx="3.2" ry="4.0"/>
<ellipse cx="1140.9" cy="521.3" rx="3.2" ry="4.0"/>
<ellipse cx="1119.1" cy="553.8" rx="3.2" ry="4.0"/>
<ellipse cx="1055.3" cy="563.7" rx="3.2" ry="4.0"/>
<ellipse cx="1098.6" cy="555.7" rx="3.2" ry="4.0"/>
<ellipse cx="1188.4" cy="519.2" rx="3.2" ry="4.0"/>
<ellipse cx="1008.0" cy="479.2" rx="3.2" ry="4.0"/>
<ellipse cx="1077.3" cy="463.1" rx="3.2" ry="4.0"/>
<ellipse cx="1097.7" cy="642.3" rx="3.2" ry="4.0"/>
<ellipse cx="1043.8" cy="531.8" rx="3.2" ry="4.0"/>
<ellipse cx="1168.0" cy="533.6" rx="3.2" ry="4.0"/>
<ellipse cx="1040.0" cy="493.1" rx="3.2" ry="4.0"/>
<ellipse cx="1071.4" cy="545.7" rx="3.2" ry="4.0"/>
<ellipse cx="1084.2" cy="533.6" rx="3.2" ry="4.0"/>
<ellipse cx="1140.7" cy="626.2" rx="3.2" ry="4.0"/>
<ellipse cx="1104.6" cy="522.0" rx="3.2" ry="4.0"/>
<ellipse cx="1079.3" cy="475.7" rx="3.2" ry="4.0"/>
<ellipse cx="1004.0" cy="519.9" rx="3.2" ry="4.0"/>
<ellipse cx="1138.7" cy="634.7" rx="3.2" ry="4.0"/>
<ellipse cx="1093.9" cy="553.1" rx="3.2" ry="4.0"/>
<ellipse cx="1042.1" cy="543.5" rx="3.2" ry="4.0"/>
<ellipse cx="976.4" cy="570.6" rx="3.2" ry="4.0"/>
<ellipse cx="1092.7" cy="460.9" rx="3.2" ry="4.0"/>
<ellipse cx="1029.6" cy="515.5" rx="3.2" ry="4.0"/>
<ellipse cx="946.5" cy="609.4" rx="3.2" ry="4.0"/>
<ellipse cx="1035.2" cy="539.1" rx="3.2" ry="4.0"/>
<ellipse cx="1019.6" cy="615.9" rx="3.2" ry="4.0"/>
<ellipse cx="970.8" cy="603.3" rx="3.2" ry="4.0"/>
<ellipse cx="1017.1" cy="525.5" rx="3.2" ry="4.0"/>
<ellipse cx="1050.0" cy="594.9" rx="3.2" ry="4.0"/>
<ellipse cx="1024.6" cy="586.0" rx="3.2" ry="4.0"/>
<ellipse cx="1046.6" cy="662.4" rx="3.2" ry="4.0"/>
<ellipse cx="1183.4" cy="577.1" rx="3.2" ry="4.0"/>
<ellipse cx="1133.3" cy="565.5" rx="3.2" ry="4.0"/>
<ellipse cx="1070.0" cy="508.1" rx="3.2" ry="4.0"/>
<ellipse cx="1045.7" cy="597.7" rx="3.2" ry="4.0"/>
<ellipse cx="1053.1" cy="569.5" rx="3.2" ry="4.0"/>
<ellipse cx="1058.1" cy="497.6" rx="3.2" ry="4.0"/>
<ellipse cx="1193.9" cy="565.5" rx="3.2" ry="4.0"/>
<ellipse cx="1125.0" cy="533.8" rx="3.2" ry="4.0"/>
<ellipse cx="974.6" cy="538.4" rx="3.2" ry="4.0"/>
<ellipse cx="927.2" cy="551.7" rx="3.2" ry="4.0"/>
<ellipse cx="1139.4" cy="554.0" rx="3.2" ry="4.0"/>
<ellipse cx="1067.5" cy="644.7" rx="3.2" ry="4.0"/>
<ellipse cx="991.1" cy="577.0" rx="3.2" ry="4.0"/>
<ellipse cx="986.2" cy="439.8" rx="3.2" ry="4.0"/>
<ellipse cx="1069.7" cy="546.6" rx="3.2" ry="4.0"/>
<ellipse cx="967.9" cy="570.8" rx="3.2" ry="4.0"/>
<ellipse cx="1029.7" cy="522.0" rx="3.2" ry="4.0"/>
<ellipse cx="1135.7" cy="542.0" rx="3.2" ry="4.0"/>
<ellipse cx="1077.2" cy="528.2" rx="3.2" ry="4.0"/>
<ellipse cx="1128.8" cy="495.3" rx="3.2" ry="4.0"/>
<ellipse cx="1011.8" cy="495.6" rx="3.2" ry="4.0"/>
<ellipse cx="1006.8" cy="579.8" rx="3.2" ry="4.0"/>
<ellipse cx="1099.3" cy="505.9" rx="3.2" ry="4.0"/>
<ellipse cx="1173.4" cy="531.4" rx="3.2" ry="4.0"/>
<ellipse cx="1172.6" cy="587.5" rx="3.2" ry="4.0"/>
<ellipse cx="1074.0" cy="648.4" rx="3.2" ry="4.0"/>
<ellipse cx="1056.4" cy="573.7" rx="3.2" ry="4.0"/>
<ellipse cx="1030.0" cy="596.7" rx="3.2" ry="4.0"/>
<ellipse cx="1013.7" cy="557.0" rx="3.2" ry="4.0"/>
<ellipse cx="1021.6" cy="673.3" rx="3.2" ry="4.0"/>
<ellipse cx="1029.9" cy="464.7" rx="3.2" ry="4.0"/>
<ellipse cx="1073.8" cy="640.9" rx="3.2" ry="4.0"/>
<ellipse cx="1154.9" cy="520.9" rx="3.2" ry="4.0"/>
<ellipse cx="1047.8" cy="650.7" rx="3.2" ry="4.0"/>
<ellipse cx="1140.4" cy="576.7" rx="3.2" ry="4.0"/>
<ellipse cx="1128.6" cy="562.2" rx="3.2" ry="4.0"/>
<ellipse cx="1112.4" cy="557.1" rx="3.2" ry="4.0"/>
<ellipse cx="1071.8" cy="575.0" rx="3.2" ry="4.0"/>
<ellipse cx="1024.8" cy="594.3" rx="3.2" ry="4.0"/>
<ellipse cx="965.1" cy="508.2" rx="3.2" ry="4.0"/>
<ellipse cx="979.3" cy="465.7" rx="3.2" ry="4.0"/>
<ellipse cx="1155.6" cy="520.6" rx="3.2" ry="4.0"/>
<ellipse cx="1110.7" cy="555.1" rx="3.2" ry="4.0"/>
<ellipse cx="1142.1" cy="541.2" rx="3.2" ry="4.0"/>
<ellipse cx="1102.4" cy="505.6" rx="3.2" ry="4.0"/>
<ellipse cx="1038.4" cy="593.1" rx="3.2" ry="4.0"/>
<ellipse cx="1002.4" cy="532.3" rx="3.2" ry="4.0"/>
<ellipse cx="1018.3" cy="475.2" rx="3.2" ry="4.0"/>
<ellipse cx="1064.8" cy="621.4" rx="3.2" ry="4.0"/>
<ellipse cx="1052.5" cy="517.7" rx="3.2" ry="4.0"/>
<ellipse cx="1143.5" cy="536.6" rx="3.2" ry="4.0"/>
<ellipse cx="1015.3" cy="577.4" rx="3.2" ry="4.0"/>
<ellipse cx="1083.2" cy="533.4" rx="3.2" ry="4.0"/>
<ellipse cx="1086.7" cy="525.1" rx="3.2" ry="4.0"/>
<ellipse cx="1056.6" cy="516.5" rx="3.2" ry="4.0"/>
<ellipse cx="1017.7" cy="645.5" rx="3.2" ry="4.0"/>
<ellipse cx="1067.6" cy="593.6" rx="3.2" ry="4.0"/>
<ellipse cx="1099.1" cy="614.7" rx="3.2" ry="4.0"/>
<ellipse cx="1198.8" cy="531.4" rx="3.2" ry="4.0"/>
<ellipse cx="1008.1" cy="547.3" rx="3.2" ry="4.0"/>
<ellipse cx="1057.7" cy="645.1" rx="3.2" ry="4.0"/>
<ellipse cx="1048.1" cy="617.9" rx="3.2" ry="4.0"/>
<ellipse cx="1118.2" cy="536.5" rx="3.2" ry="4.0"/>
<ellipse cx="1121.6" cy="551.6" rx="3.2" ry="4.0"/>
<ellipse cx="1125.5" cy="547.8" rx="3.2" ry="4.0"/>
<ellipse cx="1026.9" cy="652.9" rx="3.2" ry="4.0"/>
<ellipse cx="1074.9" cy="526.3" rx="3.2" ry="4.0"/>
<ellipse cx="1035.2" cy="566.4" rx="3.2" ry="4.0"/>
<ellipse cx="1100.1" cy="640.9" rx="3.2" ry="4.0"/>
<ellipse cx="1053.7" cy="518.3" rx="3.2" ry="4.0"/>
<ellipse cx="1131.8" cy="551.2" rx="3.2" ry="4.0"/>
<ellipse cx="1049.3" cy="669.5" rx="3.2" ry="4.0"/>
<ellipse cx="954.8" cy="519.5" rx="3.2" ry="4.0"/>
<ellipse cx="1065.8" cy="558.4" rx="3.2" ry="4.0"/>
<ellipse cx="991.0" cy="490.8" rx="3.2" ry="4.0"/>
<ellipse cx="1179.9" cy="622.2" rx="3.2" ry="4.0"/>
<ellipse cx="1060.9" cy="587.9" rx="3.2" ry="4.0"/>
<ellipse cx="1177.9" cy="476.7" rx="3.2" ry="4.0"/>
<ellipse cx="1137.8" cy="584.3" rx="3.2" ry="4.0"/>
<ellipse cx="1107.4" cy="579.8" rx="3.2" ry="4.0"/>
<ellipse cx="1134.9" cy="501.1" rx="3.2" ry="4.0"/>
<ellipse cx="968.3" cy="621.3" rx="3.2" ry="4.0"/>
<ellipse cx="1062.7" cy="611.2" rx="3.2" ry="4.0"/>
<ellipse cx="1167.3" cy="610.7" rx="3.2" ry="4.0"/>
<ellipse cx="973.5" cy="557.0" rx="3.2" ry="4.0"/>
<ellipse cx="996.8" cy="508.9" rx="3.2" ry="4.0"/>
<ellipse cx="1139.4" cy="553.7" rx="3.2" ry="4.0"/>
<ellipse cx="1117.3" cy="550.9" rx="3.2" ry="4.0"/>
<ellipse cx="1122.4" cy="611.4" rx="3.2" ry="4.0"/>
<ellipse cx="1174.2" cy="520.3" rx="3.2" ry="4.0"/>
<ellipse cx="1016.8" cy="546.7" rx="3.2" ry="4.0"/>
<ellipse cx="1018.1" cy="511.6" rx="3.2" ry="4.0"/>
<ellipse cx="1115.9" cy="512.2" rx="3.2" ry="4.0"/>
<ellipse cx="1001.8" cy="537.9" rx="3.2" ry="4.0"/>
<ellipse cx="1014.6" cy="642.6" rx="3.2" ry="4.0"/>
<ellipse cx="993.3" cy="578.8" rx="3.2" ry="4.0"/>
<ellipse cx="961.6" cy="565.5" rx="3.2" ry="4.0"/>
<ellipse cx="1053.5" cy="603.4" rx="3.2" ry="4.0"/>
<ellipse cx="1021.5" cy="549.1" rx="3.2" ry="4.0"/>
<ellipse cx="946.8" cy="531.5" rx="3.2" ry="4.0"/>
<ellipse cx="1010.0" cy="557.3" rx="3.2" ry="4.0"/>
<ellipse cx="1127.0" cy="502.5" rx="3.2" ry="4.0"/>
<ellipse cx="1083.1" cy="664.6" rx="3.2" ry="4.0"/>
<ellipse cx="1079.5" cy="560.9" rx="3.2" ry="4.0"/>
<ellipse cx="1092.8" cy="575.2" rx="3.2" ry="4.0"/>
<ellipse cx="1033.3" cy="634.4" rx="3.2" ry="4.0"/>
<ellipse cx="1039.3" cy="554.2" rx="3.2" ry="4.0"/>
<ellipse cx="1035.5" cy="496.3" rx="3.2" ry="4.0"/>
<ellipse cx="1002.4" cy="561.7" rx="3.2" ry="4.0"/>
<ellipse cx="1096.6" cy="497.2" rx="3.2" ry="4.0"/>
<ellipse cx="1048.9" cy="628.6" rx="3.2" ry="4.0"/>
<ellipse cx="1032.0" cy="613.9" rx="3.2" ry="4.0"/>
<ellipse cx="1106.7" cy="607.2" rx="3.2" ry="4.0"/>
<ellipse cx="1095.1" cy="556.1" rx="3.2" ry="4.0"/>
<ellipse cx="1083.9" cy="615.4" rx="3.2" ry="4.0"/>
<ellipse cx="983.6" cy="545.9" rx="3.2" ry="4.0"/>
<ellipse cx="1039.7" cy="559.9" rx="3.2" ry="4.0"/>
<ellipse cx="1063.6" cy="553.8" rx="3.2" ry="4.0"/>
<ellipse cx="1140.9" cy="489.3" rx="3.2" ry="4.0"/>
<ellipse cx="1132.0" cy="634.6" rx="3.2" ry="4.0"/>
<ellipse cx="1040.6" cy="558.3" rx="3.2" ry="4.0"/>
<ellipse cx="1049.2" cy="535.7" rx="3.2" ry="4.0"/>
<ellipse cx="1055.0" cy="546.3" rx="3.2" ry="4.0"/>
<ellipse cx="1054.5" cy="524.6" rx="3.2" ry="4.0"/>
<ellipse cx="1048.0" cy="590.1" rx="3.2" ry="4.0"/>
<rect x="851.5" y="229.0" width="595.0" height="531.6" fill="none" stroke="#1e1e1e" stroke-width="2"/>
<text x="840.0" y="767.0" font-size="19.6" text-anchor="end" font-weight="400" fill="#000" textLength="16.4" lengthAdjust="spacingAndGlyphs">10</text>
<text x="840.0" y="660.7" font-size="19.6" text-anchor="end" font-weight="400" fill="#000" textLength="24.6" lengthAdjust="spacingAndGlyphs">100</text>
<text x="840.0" y="554.4" font-size="19.6" text-anchor="end" font-weight="400" fill="#000" textLength="32.8" lengthAdjust="spacingAndGlyphs">1000</text>
<text x="840.0" y="448.0" font-size="19.6" text-anchor="end" font-weight="400" fill="#000" textLength="41.0" lengthAdjust="spacingAndGlyphs">10000</text>
<text x="840.0" y="341.7" font-size="19.6" text-anchor="end" font-weight="400" fill="#000" textLength="49.2" lengthAdjust="spacingAndGlyphs">100000</text>
<text x="840.0" y="235.4" font-size="19.6" text-anchor="end" font-weight="400" fill="#000" textLength="57.4" lengthAdjust="spacingAndGlyphs">1000000</text>
<text x="851.5" y="797.2" font-size="19.6" text-anchor="middle" font-weight="400" fill="#000" textLength="16.4" lengthAdjust="spacingAndGlyphs">10</text>
<text x="970.5" y="797.2" font-size="19.6" text-anchor="middle" font-weight="400" fill="#000" textLength="24.6" lengthAdjust="spacingAndGlyphs">100</text>
<text x="1089.5" y="797.2" font-size="19.6" text-anchor="middle" font-weight="400" fill="#000" textLength="32.8" lengthAdjust="spacingAndGlyphs">1000</text>
<text x="1208.5" y="797.2" font-size="19.6" text-anchor="middle" font-weight="400" fill="#000" textLength="41.0" lengthAdjust="spacingAndGlyphs">10000</text>
<text x="1327.5" y="797.2" font-size="19.6" text-anchor="middle" font-weight="400" fill="#000" textLength="49.2" lengthAdjust="spacingAndGlyphs">100000</text>
<text x="1446.5" y="797.2" font-size="19.6" text-anchor="middle" font-weight="400" fill="#000" textLength="57.4" lengthAdjust="spacingAndGlyphs">1000000</text>
<line x1="72.3" y1="1248.5" x2="668.3" y2="1248.5" stroke="#b0b0b0" stroke-width="1"/>
<line x1="72.3" y1="1354.5" x2="668.3" y2="1354.5" stroke="#b0b0b0" stroke-width="1"/>
<line x1="72.3" y1="1460.5" x2="668.3" y2="1460.5" stroke="#b0b0b0" stroke-width="1"/>
<line x1="72.3" y1="1566.5" x2="668.3" y2="1566.5" stroke="#b0b0b0" stroke-width="1"/>
<line x1="221.5" y1="1666.8" x2="221.5" y2="1671.8" stroke="#b0b0b0" stroke-width="1"/>
<line x1="370.5" y1="1666.8" x2="370.5" y2="1671.8" stroke="#b0b0b0" stroke-width="1"/>
<line x1="519.5" y1="1666.8" x2="519.5" y2="1671.8" stroke="#b0b0b0" stroke-width="1"/>
<ellipse cx="143.8" cy="1240.6" rx="3.2" ry="4.0"/>
<ellipse cx="348.7" cy="1209.8" rx="3.2" ry="4.0"/>
<ellipse cx="359.1" cy="1287.9" rx="3.2" ry="4.0"/>
<ellipse cx="233.6" cy="1304.4" rx="3.2" ry="4.0"/>
<ellipse cx="313.4" cy="1307.0" rx="3.2" ry="4.0"/>
<ellipse cx="318.5" cy="1310.0" rx="3.2" ry="4.0"/>
<ellipse cx="333.2" cy="1311.0" rx="3.2" ry="4.0"/>
<ellipse cx="296.3" cy="1313.6" rx="3.2" ry="4.0"/>
<ellipse cx="369.4" cy="1318.1" rx="3.2" ry="4.0"/>
<ellipse cx="257.1" cy="1327.5" rx="3.2" ry="4.0"/>
<ellipse cx="276.6" cy="1331.7" rx="3.2" ry="4.0"/>
<ellipse cx="314.9" cy="1329.5" rx="3.2" ry="4.0"/>
<ellipse cx="332.0" cy="1326.1" rx="3.2" ry="4.0"/>
<ellipse cx="353.3" cy="1330.1" rx="3.2" ry="4.0"/>
<ellipse cx="344.0" cy="1333.8" rx="3.2" ry="4.0"/>
<ellipse cx="323.5" cy="1336.2" rx="3.2" ry="4.0"/>
<ellipse cx="273.2" cy="1338.2" rx="3.2" ry="4.0"/>
<ellipse cx="309.4" cy="1340.2" rx="3.2" ry="4.0"/>
<ellipse cx="328.5" cy="1341.8" rx="3.2" ry="4.0"/>
<ellipse cx="344.6" cy="1342.8" rx="3.2" ry="4.0"/>
<ellipse cx="361.7" cy="1340.8" rx="3.2" ry="4.0"/>
<ellipse cx="162.9" cy="1340.2" rx="3.2" ry="4.0"/>
<ellipse cx="240.0" cy="1340.2" rx="3.2" ry="4.0"/>
<ellipse cx="237.0" cy="1346.8" rx="3.2" ry="4.0"/>
<ellipse cx="241.0" cy="1346.2" rx="3.2" ry="4.0"/>
<ellipse cx="280.2" cy="1343.2" rx="3.2" ry="4.0"/>
<ellipse cx="273.2" cy="1346.2" rx="3.2" ry="4.0"/>
<ellipse cx="271.2" cy="1349.2" rx="3.2" ry="4.0"/>
<ellipse cx="282.3" cy="1348.2" rx="3.2" ry="4.0"/>
<ellipse cx="291.9" cy="1347.6" rx="3.2" ry="4.0"/>
<ellipse cx="317.1" cy="1347.2" rx="3.2" ry="4.0"/>
<ellipse cx="393.1" cy="1270.8" rx="3.2" ry="4.0"/>
<ellipse cx="375.0" cy="1323.1" rx="3.2" ry="4.0"/>
<ellipse cx="376.0" cy="1325.5" rx="3.2" ry="4.0"/>
<ellipse cx="422.7" cy="1323.5" rx="3.2" ry="4.0"/>
<ellipse cx="454.5" cy="1317.5" rx="3.2" ry="4.0"/>
<ellipse cx="455.1" cy="1323.7" rx="3.2" ry="4.0"/>
<ellipse cx="497.8" cy="1323.1" rx="3.2" ry="4.0"/>
<ellipse cx="507.4" cy="1318.1" rx="3.2" ry="4.0"/>
<ellipse cx="529.6" cy="1328.1" rx="3.2" ry="4.0"/>
<ellipse cx="376.4" cy="1338.2" rx="3.2" ry="4.0"/>
<ellipse cx="398.2" cy="1341.6" rx="3.2" ry="4.0"/>
<ellipse cx="373.6" cy="1346.2" rx="3.2" ry="4.0"/>
<ellipse cx="449.9" cy="1341.2" rx="3.2" ry="4.0"/>
<ellipse cx="455.9" cy="1337.8" rx="3.2" ry="4.0"/>
<ellipse cx="488.7" cy="1345.2" rx="3.2" ry="4.0"/>
<ellipse cx="141.0" cy="1356.4" rx="3.2" ry="4.0"/>
<ellipse cx="197.2" cy="1359.0" rx="3.2" ry="4.0"/>
<ellipse cx="211.8" cy="1354.0" rx="3.2" ry="4.0"/>
<ellipse cx="266.8" cy="1356.0" rx="3.2" ry="4.0"/>
<ellipse cx="300.4" cy="1358.0" rx="3.2" ry="4.0"/>
<ellipse cx="327.5" cy="1357.0" rx="3.2" ry="4.0"/>
<ellipse cx="180.2" cy="1365.5" rx="3.2" ry="4.0"/>
<ellipse cx="222.5" cy="1366.1" rx="3.2" ry="4.0"/>
<ellipse cx="222.9" cy="1371.1" rx="3.2" ry="4.0"/>
<ellipse cx="231.0" cy="1373.7" rx="3.2" ry="4.0"/>
<ellipse cx="258.5" cy="1363.5" rx="3.2" ry="4.0"/>
<ellipse cx="256.1" cy="1373.1" rx="3.2" ry="4.0"/>
<ellipse cx="259.1" cy="1375.1" rx="3.2" ry="4.0"/>
<ellipse cx="313.4" cy="1364.1" rx="3.2" ry="4.0"/>
<ellipse cx="319.9" cy="1366.5" rx="3.2" ry="4.0"/>
<ellipse cx="329.5" cy="1367.7" rx="3.2" ry="4.0"/>
<ellipse cx="327.5" cy="1373.1" rx="3.2" ry="4.0"/>
<ellipse cx="339.6" cy="1364.1" rx="3.2" ry="4.0"/>
<ellipse cx="342.6" cy="1368.1" rx="3.2" ry="4.0"/>
<ellipse cx="194.3" cy="1372.5" rx="3.2" ry="4.0"/>
<ellipse cx="204.4" cy="1375.1" rx="3.2" ry="4.0"/>
<ellipse cx="285.3" cy="1377.7" rx="3.2" ry="4.0"/>
<ellipse cx="298.4" cy="1376.1" rx="3.2" ry="4.0"/>
<ellipse cx="158.5" cy="1376.5" rx="3.2" ry="4.0"/>
<ellipse cx="155.5" cy="1382.8" rx="3.2" ry="4.0"/>
<ellipse cx="198.8" cy="1385.2" rx="3.2" ry="4.0"/>
<ellipse cx="204.4" cy="1385.8" rx="3.2" ry="4.0"/>
<ellipse cx="224.3" cy="1388.2" rx="3.2" ry="4.0"/>
<ellipse cx="231.0" cy="1388.2" rx="3.2" ry="4.0"/>
<ellipse cx="235.0" cy="1385.2" rx="3.2" ry="4.0"/>
<ellipse cx="239.0" cy="1384.2" rx="3.2" ry="4.0"/>
<ellipse cx="243.0" cy="1382.2" rx="3.2" ry="4.0"/>
<ellipse cx="245.0" cy="1379.2" rx="3.2" ry="4.0"/>
<ellipse cx="244.0" cy="1388.2" rx="3.2" ry="4.0"/>
<ellipse cx="253.7" cy="1388.2" rx="3.2" ry="4.0"/>
<ellipse cx="264.8" cy="1387.2" rx="3.2" ry="4.0"/>
<ellipse cx="269.2" cy="1390.2" rx="3.2" ry="4.0"/>
<ellipse cx="277.2" cy="1381.2" rx="3.2" ry="4.0"/>
<ellipse cx="279.2" cy="1393.2" rx="3.2" ry="4.0"/>
<ellipse cx="287.3" cy="1391.2" rx="3.2" ry="4.0"/>
<ellipse cx="292.3" cy="1391.2" rx="3.2" ry="4.0"/>
<ellipse cx="299.4" cy="1389.2" rx="3.2" ry="4.0"/>
<ellipse cx="311.4" cy="1389.2" rx="3.2" ry="4.0"/>
<ellipse cx="316.5" cy="1389.2" rx="3.2" ry="4.0"/>
<ellipse cx="321.1" cy="1377.1" rx="3.2" ry="4.0"/>
<ellipse cx="326.5" cy="1384.2" rx="3.2" ry="4.0"/>
<ellipse cx="339.6" cy="1381.2" rx="3.2" ry="4.0"/>
<ellipse cx="349.7" cy="1385.2" rx="3.2" ry="4.0"/>
<ellipse cx="341.6" cy="1391.2" rx="3.2" ry="4.0"/>
<ellipse cx="360.7" cy="1376.1" rx="3.2" ry="4.0"/>
<ellipse cx="361.7" cy="1382.2" rx="3.2" ry="4.0"/>
<ellipse cx="356.7" cy="1391.2" rx="3.2" ry="4.0"/>
<ellipse cx="183.7" cy="1392.2" rx="3.2" ry="4.0"/>
<ellipse cx="185.7" cy="1401.3" rx="3.2" ry="4.0"/>
<ellipse cx="195.1" cy="1408.7" rx="3.2" ry="4.0"/>
<ellipse cx="216.5" cy="1399.3" rx="3.2" ry="4.0"/>
<ellipse cx="214.5" cy="1405.3" rx="3.2" ry="4.0"/>
<ellipse cx="229.9" cy="1402.3" rx="3.2" ry="4.0"/>
<ellipse cx="252.1" cy="1401.7" rx="3.2" ry="4.0"/>
<ellipse cx="265.2" cy="1394.2" rx="3.2" ry="4.0"/>
<ellipse cx="265.2" cy="1401.3" rx="3.2" ry="4.0"/>
<ellipse cx="264.2" cy="1405.9" rx="3.2" ry="4.0"/>
<ellipse cx="300.4" cy="1400.3" rx="3.2" ry="4.0"/>
<ellipse cx="306.4" cy="1405.3" rx="3.2" ry="4.0"/>
<ellipse cx="293.3" cy="1407.3" rx="3.2" ry="4.0"/>
<ellipse cx="313.4" cy="1399.3" rx="3.2" ry="4.0"/>
<ellipse cx="319.1" cy="1400.3" rx="3.2" ry="4.0"/>
<ellipse cx="335.6" cy="1395.2" rx="3.2" ry="4.0"/>
<ellipse cx="344.6" cy="1396.3" rx="3.2" ry="4.0"/>
<ellipse cx="351.7" cy="1397.3" rx="3.2" ry="4.0"/>
<ellipse cx="359.7" cy="1396.3" rx="3.2" ry="4.0"/>
<ellipse cx="347.7" cy="1405.3" rx="3.2" ry="4.0"/>
<ellipse cx="351.7" cy="1410.3" rx="3.2" ry="4.0"/>
<ellipse cx="314.5" cy="1408.3" rx="3.2" ry="4.0"/>
<ellipse cx="333.6" cy="1408.3" rx="3.2" ry="4.0"/>
<ellipse cx="329.5" cy="1412.4" rx="3.2" ry="4.0"/>
<ellipse cx="225.3" cy="1413.0" rx="3.2" ry="4.0"/>
<ellipse cx="235.0" cy="1410.3" rx="3.2" ry="4.0"/>
<ellipse cx="243.0" cy="1411.3" rx="3.2" ry="4.0"/>
<ellipse cx="279.2" cy="1413.4" rx="3.2" ry="4.0"/>
<ellipse cx="284.3" cy="1412.4" rx="3.2" ry="4.0"/>
<ellipse cx="262.1" cy="1415.4" rx="3.2" ry="4.0"/>
<ellipse cx="174.0" cy="1420.0" rx="3.2" ry="4.0"/>
<ellipse cx="188.1" cy="1418.4" rx="3.2" ry="4.0"/>
<ellipse cx="194.7" cy="1418.0" rx="3.2" ry="4.0"/>
<ellipse cx="219.9" cy="1418.4" rx="3.2" ry="4.0"/>
<ellipse cx="239.0" cy="1417.4" rx="3.2" ry="4.0"/>
<ellipse cx="244.0" cy="1419.4" rx="3.2" ry="4.0"/>
<ellipse cx="275.8" cy="1422.4" rx="3.2" ry="4.0"/>
<ellipse cx="283.3" cy="1418.4" rx="3.2" ry="4.0"/>
<ellipse cx="293.3" cy="1421.4" rx="3.2" ry="4.0"/>
<ellipse cx="301.4" cy="1418.4" rx="3.2" ry="4.0"/>
<ellipse cx="309.4" cy="1420.4" rx="3.2" ry="4.0"/>
<ellipse cx="316.5" cy="1418.4" rx="3.2" ry="4.0"/>
<ellipse cx="322.5" cy="1422.4" rx="3.2" ry="4.0"/>
<ellipse cx="324.5" cy="1416.4" rx="3.2" ry="4.0"/>
<ellipse cx="357.7" cy="1420.4" rx="3.2" ry="4.0"/>
<ellipse cx="339.6" cy="1425.4" rx="3.2" ry="4.0"/>
<ellipse cx="344.6" cy="1424.4" rx="3.2" ry="4.0"/>
<ellipse cx="336.6" cy="1429.5" rx="3.2" ry="4.0"/>
<ellipse cx="353.7" cy="1428.4" rx="3.2" ry="4.0"/>
<ellipse cx="361.7" cy="1430.5" rx="3.2" ry="4.0"/>
<ellipse cx="366.8" cy="1430.5" rx="3.2" ry="4.0"/>
<ellipse cx="224.3" cy="1426.4" rx="3.2" ry="4.0"/>
<ellipse cx="229.9" cy="1428.8" rx="3.2" ry="4.0"/>
<ellipse cx="232.0" cy="1433.5" rx="3.2" ry="4.0"/>
<ellipse cx="220.9" cy="1431.5" rx="3.2" ry="4.0"/>
<ellipse cx="239.6" cy="1429.5" rx="3.2" ry="4.0"/>
<ellipse cx="241.0" cy="1432.5" rx="3.2" ry="4.0"/>
<ellipse cx="252.1" cy="1428.4" rx="3.2" ry="4.0"/>
<ellipse cx="256.1" cy="1425.4" rx="3.2" ry="4.0"/>
<ellipse cx="266.2" cy="1431.5" rx="3.2" ry="4.0"/>
<ellipse cx="279.2" cy="1432.5" rx="3.2" ry="4.0"/>
<ellipse cx="284.3" cy="1430.5" rx="3.2" ry="4.0"/>
<ellipse cx="294.3" cy="1427.4" rx="3.2" ry="4.0"/>
<ellipse cx="301.4" cy="1430.5" rx="3.2" ry="4.0"/>
<ellipse cx="305.4" cy="1425.4" rx="3.2" ry="4.0"/>
<ellipse cx="313.4" cy="1431.5" rx="3.2" ry="4.0"/>
<ellipse cx="318.5" cy="1429.5" rx="3.2" ry="4.0"/>
<ellipse cx="153.5" cy="1435.1" rx="3.2" ry="4.0"/>
<ellipse cx="178.2" cy="1434.5" rx="3.2" ry="4.0"/>
<ellipse cx="183.3" cy="1430.1" rx="3.2" ry="4.0"/>
<ellipse cx="183.7" cy="1435.5" rx="3.2" ry="4.0"/>
<ellipse cx="200.8" cy="1430.5" rx="3.2" ry="4.0"/>
<ellipse cx="162.1" cy="1444.1" rx="3.2" ry="4.0"/>
<ellipse cx="174.6" cy="1442.5" rx="3.2" ry="4.0"/>
<ellipse cx="176.0" cy="1451.2" rx="3.2" ry="4.0"/>
<ellipse cx="211.4" cy="1446.6" rx="3.2" ry="4.0"/>
<ellipse cx="227.9" cy="1447.6" rx="3.2" ry="4.0"/>
<ellipse cx="226.9" cy="1452.6" rx="3.2" ry="4.0"/>
<ellipse cx="233.0" cy="1450.6" rx="3.2" ry="4.0"/>
<ellipse cx="241.0" cy="1446.0" rx="3.2" ry="4.0"/>
<ellipse cx="252.5" cy="1451.6" rx="3.2" ry="4.0"/>
<ellipse cx="254.1" cy="1438.5" rx="3.2" ry="4.0"/>
<ellipse cx="261.1" cy="1442.5" rx="3.2" ry="4.0"/>
<ellipse cx="260.1" cy="1448.6" rx="3.2" ry="4.0"/>
<ellipse cx="271.2" cy="1436.5" rx="3.2" ry="4.0"/>
<ellipse cx="273.2" cy="1444.5" rx="3.2" ry="4.0"/>
<ellipse cx="277.2" cy="1451.6" rx="3.2" ry="4.0"/>
<ellipse cx="283.3" cy="1440.5" rx="3.2" ry="4.0"/>
<ellipse cx="289.3" cy="1443.5" rx="3.2" ry="4.0"/>
<ellipse cx="297.4" cy="1438.5" rx="3.2" ry="4.0"/>
<ellipse cx="305.4" cy="1446.6" rx="3.2" ry="4.0"/>
<ellipse cx="299.4" cy="1452.6" rx="3.2" ry="4.0"/>
<ellipse cx="313.4" cy="1442.5" rx="3.2" ry="4.0"/>
<ellipse cx="316.5" cy="1450.6" rx="3.2" ry="4.0"/>
<ellipse cx="323.5" cy="1439.5" rx="3.2" ry="4.0"/>
<ellipse cx="327.5" cy="1443.5" rx="3.2" ry="4.0"/>
<ellipse cx="331.6" cy="1452.6" rx="3.2" ry="4.0"/>
<ellipse cx="339.6" cy="1446.6" rx="3.2" ry="4.0"/>
<ellipse cx="342.6" cy="1442.5" rx="3.2" ry="4.0"/>
<ellipse cx="350.7" cy="1450.6" rx="3.2" ry="4.0"/>
<ellipse cx="357.7" cy="1445.5" rx="3.2" ry="4.0"/>
<ellipse cx="361.7" cy="1452.6" rx="3.2" ry="4.0"/>
<ellipse cx="367.8" cy="1448.6" rx="3.2" ry="4.0"/>
<ellipse cx="315.5" cy="1456.6" rx="3.2" ry="4.0"/>
<ellipse cx="285.3" cy="1455.6" rx="3.2" ry="4.0"/>
<ellipse cx="171.6" cy="1463.1" rx="3.2" ry="4.0"/>
<ellipse cx="192.7" cy="1459.2" rx="3.2" ry="4.0"/>
<ellipse cx="196.7" cy="1459.2" rx="3.2" ry="4.0"/>
<ellipse cx="208.8" cy="1459.6" rx="3.2" ry="4.0"/>
<ellipse cx="206.8" cy="1462.7" rx="3.2" ry="4.0"/>
<ellipse cx="218.5" cy="1465.7" rx="3.2" ry="4.0"/>
<ellipse cx="223.9" cy="1469.3" rx="3.2" ry="4.0"/>
<ellipse cx="242.0" cy="1455.6" rx="3.2" ry="4.0"/>
<ellipse cx="244.6" cy="1463.7" rx="3.2" ry="4.0"/>
<ellipse cx="261.1" cy="1458.6" rx="3.2" ry="4.0"/>
<ellipse cx="270.2" cy="1457.6" rx="3.2" ry="4.0"/>
<ellipse cx="274.2" cy="1462.7" rx="3.2" ry="4.0"/>
<ellipse cx="265.2" cy="1465.7" rx="3.2" ry="4.0"/>
<ellipse cx="262.1" cy="1471.7" rx="3.2" ry="4.0"/>
<ellipse cx="288.3" cy="1460.6" rx="3.2" ry="4.0"/>
<ellipse cx="291.3" cy="1465.7" rx="3.2" ry="4.0"/>
<ellipse cx="295.3" cy="1458.6" rx="3.2" ry="4.0"/>
<ellipse cx="303.4" cy="1466.7" rx="3.2" ry="4.0"/>
<ellipse cx="311.4" cy="1469.7" rx="3.2" ry="4.0"/>
<ellipse cx="299.4" cy="1472.7" rx="3.2" ry="4.0"/>
<ellipse cx="307.4" cy="1474.7" rx="3.2" ry="4.0"/>
<ellipse cx="323.5" cy="1460.6" rx="3.2" ry="4.0"/>
<ellipse cx="328.5" cy="1456.6" rx="3.2" ry="4.0"/>
<ellipse cx="325.5" cy="1469.7" rx="3.2" ry="4.0"/>
<ellipse cx="332.6" cy="1473.7" rx="3.2" ry="4.0"/>
<ellipse cx="339.6" cy="1462.7" rx="3.2" ry="4.0"/>
<ellipse cx="343.6" cy="1466.7" rx="3.2" ry="4.0"/>
<ellipse cx="349.7" cy="1460.6" rx="3.2" ry="4.0"/>
<ellipse cx="355.7" cy="1454.6" rx="3.2" ry="4.0"/>
<ellipse cx="361.7" cy="1462.7" rx="3.2" ry="4.0"/>
<ellipse cx="365.8" cy="1468.7" rx="3.2" ry="4.0"/>
<ellipse cx="289.3" cy="1472.7" rx="3.2" ry="4.0"/>
<ellipse cx="187.1" cy="1477.1" rx="3.2" ry="4.0"/>
<ellipse cx="196.7" cy="1474.3" rx="3.2" ry="4.0"/>
<ellipse cx="207.2" cy="1473.7" rx="3.2" ry="4.0"/>
<ellipse cx="228.9" cy="1480.4" rx="3.2" ry="4.0"/>
<ellipse cx="232.6" cy="1475.7" rx="3.2" ry="4.0"/>
<ellipse cx="239.0" cy="1480.8" rx="3.2" ry="4.0"/>
<ellipse cx="243.0" cy="1479.8" rx="3.2" ry="4.0"/>
<ellipse cx="249.1" cy="1474.7" rx="3.2" ry="4.0"/>
<ellipse cx="256.1" cy="1476.7" rx="3.2" ry="4.0"/>
<ellipse cx="253.1" cy="1484.8" rx="3.2" ry="4.0"/>
<ellipse cx="265.2" cy="1480.4" rx="3.2" ry="4.0"/>
<ellipse cx="272.8" cy="1480.4" rx="3.2" ry="4.0"/>
<ellipse cx="273.2" cy="1483.8" rx="3.2" ry="4.0"/>
<ellipse cx="236.0" cy="1487.8" rx="3.2" ry="4.0"/>
<ellipse cx="242.0" cy="1485.8" rx="3.2" ry="4.0"/>
<ellipse cx="283.3" cy="1490.8" rx="3.2" ry="4.0"/>
<ellipse cx="288.3" cy="1482.8" rx="3.2" ry="4.0"/>
<ellipse cx="293.3" cy="1478.7" rx="3.2" ry="4.0"/>
<ellipse cx="301.4" cy="1480.8" rx="3.2" ry="4.0"/>
<ellipse cx="299.4" cy="1486.8" rx="3.2" ry="4.0"/>
<ellipse cx="309.4" cy="1484.8" rx="3.2" ry="4.0"/>
<ellipse cx="295.3" cy="1492.8" rx="3.2" ry="4.0"/>
<ellipse cx="318.5" cy="1487.8" rx="3.2" ry="4.0"/>
<ellipse cx="319.5" cy="1492.8" rx="3.2" ry="4.0"/>
<ellipse cx="311.4" cy="1492.8" rx="3.2" ry="4.0"/>
<ellipse cx="325.5" cy="1476.7" rx="3.2" ry="4.0"/>
<ellipse cx="329.5" cy="1472.7" rx="3.2" ry="4.0"/>
<ellipse cx="337.6" cy="1476.7" rx="3.2" ry="4.0"/>
<ellipse cx="339.6" cy="1482.8" rx="3.2" ry="4.0"/>
<ellipse cx="341.6" cy="1490.8" rx="3.2" ry="4.0"/>
<ellipse cx="346.6" cy="1478.7" rx="3.2" ry="4.0"/>
<ellipse cx="347.7" cy="1486.8" rx="3.2" ry="4.0"/>
<ellipse cx="353.7" cy="1476.7" rx="3.2" ry="4.0"/>
<ellipse cx="362.7" cy="1486.8" rx="3.2" ry="4.0"/>
<ellipse cx="369.8" cy="1492.8" rx="3.2" ry="4.0"/>
<ellipse cx="196.7" cy="1482.8" rx="3.2" ry="4.0"/>
<ellipse cx="192.7" cy="1489.8" rx="3.2" ry="4.0"/>
<ellipse cx="198.4" cy="1488.4" rx="3.2" ry="4.0"/>
<ellipse cx="159.1" cy="1494.8" rx="3.2" ry="4.0"/>
<ellipse cx="161.5" cy="1499.9" rx="3.2" ry="4.0"/>
<ellipse cx="153.1" cy="1502.9" rx="3.2" ry="4.0"/>
<ellipse cx="181.7" cy="1495.2" rx="3.2" ry="4.0"/>
<ellipse cx="177.2" cy="1505.9" rx="3.2" ry="4.0"/>
<ellipse cx="189.7" cy="1502.9" rx="3.2" ry="4.0"/>
<ellipse cx="185.7" cy="1509.9" rx="3.2" ry="4.0"/>
<ellipse cx="200.8" cy="1504.9" rx="3.2" ry="4.0"/>
<ellipse cx="202.8" cy="1502.9" rx="3.2" ry="4.0"/>
<ellipse cx="198.4" cy="1514.0" rx="3.2" ry="4.0"/>
<ellipse cx="215.9" cy="1495.9" rx="3.2" ry="4.0"/>
<ellipse cx="220.9" cy="1510.9" rx="3.2" ry="4.0"/>
<ellipse cx="232.0" cy="1498.9" rx="3.2" ry="4.0"/>
<ellipse cx="241.0" cy="1497.9" rx="3.2" ry="4.0"/>
<ellipse cx="249.1" cy="1496.9" rx="3.2" ry="4.0"/>
<ellipse cx="237.0" cy="1513.0" rx="3.2" ry="4.0"/>
<ellipse cx="243.0" cy="1507.9" rx="3.2" ry="4.0"/>
<ellipse cx="242.0" cy="1514.0" rx="3.2" ry="4.0"/>
<ellipse cx="255.1" cy="1508.9" rx="3.2" ry="4.0"/>
<ellipse cx="261.1" cy="1492.8" rx="3.2" ry="4.0"/>
<ellipse cx="267.2" cy="1494.8" rx="3.2" ry="4.0"/>
<ellipse cx="273.2" cy="1496.9" rx="3.2" ry="4.0"/>
<ellipse cx="279.2" cy="1498.9" rx="3.2" ry="4.0"/>
<ellipse cx="263.1" cy="1500.9" rx="3.2" ry="4.0"/>
<ellipse cx="264.2" cy="1506.9" rx="3.2" ry="4.0"/>
<ellipse cx="267.2" cy="1513.0" rx="3.2" ry="4.0"/>
<ellipse cx="273.2" cy="1502.9" rx="3.2" ry="4.0"/>
<ellipse cx="277.2" cy="1508.9" rx="3.2" ry="4.0"/>
<ellipse cx="282.3" cy="1515.0" rx="3.2" ry="4.0"/>
<ellipse cx="291.3" cy="1502.9" rx="3.2" ry="4.0"/>
<ellipse cx="299.4" cy="1508.9" rx="3.2" ry="4.0"/>
<ellipse cx="305.4" cy="1506.9" rx="3.2" ry="4.0"/>
<ellipse cx="312.4" cy="1505.9" rx="3.2" ry="4.0"/>
<ellipse cx="297.4" cy="1514.0" rx="3.2" ry="4.0"/>
<ellipse cx="334.6" cy="1500.9" rx="3.2" ry="4.0"/>
<ellipse cx="335.6" cy="1508.9" rx="3.2" ry="4.0"/>
<ellipse cx="341.6" cy="1502.9" rx="3.2" ry="4.0"/>
<ellipse cx="345.6" cy="1508.9" rx="3.2" ry="4.0"/>
<ellipse cx="351.7" cy="1500.9" rx="3.2" ry="4.0"/>
<ellipse cx="357.7" cy="1502.9" rx="3.2" ry="4.0"/>
<ellipse cx="361.7" cy="1498.9" rx="3.2" ry="4.0"/>
<ellipse cx="367.8" cy="1498.9" rx="3.2" ry="4.0"/>
<ellipse cx="345.6" cy="1515.0" rx="3.2" ry="4.0"/>
<ellipse cx="356.7" cy="1510.9" rx="3.2" ry="4.0"/>
<ellipse cx="335.6" cy="1515.0" rx="3.2" ry="4.0"/>
<ellipse cx="198.8" cy="1524.0" rx="3.2" ry="4.0"/>
<ellipse cx="202.4" cy="1521.0" rx="3.2" ry="4.0"/>
<ellipse cx="210.8" cy="1527.4" rx="3.2" ry="4.0"/>
<ellipse cx="244.0" cy="1524.0" rx="3.2" ry="4.0"/>
<ellipse cx="250.7" cy="1524.0" rx="3.2" ry="4.0"/>
<ellipse cx="256.7" cy="1529.1" rx="3.2" ry="4.0"/>
<ellipse cx="238.6" cy="1532.1" rx="3.2" ry="4.0"/>
<ellipse cx="265.2" cy="1523.0" rx="3.2" ry="4.0"/>
<ellipse cx="265.2" cy="1530.1" rx="3.2" ry="4.0"/>
<ellipse cx="275.6" cy="1533.7" rx="3.2" ry="4.0"/>
<ellipse cx="283.3" cy="1526.6" rx="3.2" ry="4.0"/>
<ellipse cx="291.3" cy="1527.4" rx="3.2" ry="4.0"/>
<ellipse cx="295.3" cy="1531.1" rx="3.2" ry="4.0"/>
<ellipse cx="299.4" cy="1535.1" rx="3.2" ry="4.0"/>
<ellipse cx="304.4" cy="1520.0" rx="3.2" ry="4.0"/>
<ellipse cx="297.4" cy="1521.0" rx="3.2" ry="4.0"/>
<ellipse cx="320.5" cy="1525.0" rx="3.2" ry="4.0"/>
<ellipse cx="323.5" cy="1529.1" rx="3.2" ry="4.0"/>
<ellipse cx="327.5" cy="1532.1" rx="3.2" ry="4.0"/>
<ellipse cx="333.6" cy="1534.1" rx="3.2" ry="4.0"/>
<ellipse cx="340.6" cy="1536.1" rx="3.2" ry="4.0"/>
<ellipse cx="345.6" cy="1539.5" rx="3.2" ry="4.0"/>
<ellipse cx="367.8" cy="1520.0" rx="3.2" ry="4.0"/>
<ellipse cx="345.6" cy="1520.0" rx="3.2" ry="4.0"/>
<ellipse cx="216.5" cy="1537.1" rx="3.2" ry="4.0"/>
<ellipse cx="248.1" cy="1540.1" rx="3.2" ry="4.0"/>
<ellipse cx="251.7" cy="1547.2" rx="3.2" ry="4.0"/>
<ellipse cx="263.1" cy="1542.1" rx="3.2" ry="4.0"/>
<ellipse cx="275.6" cy="1541.1" rx="3.2" ry="4.0"/>
<ellipse cx="287.3" cy="1540.1" rx="3.2" ry="4.0"/>
<ellipse cx="265.2" cy="1536.1" rx="3.2" ry="4.0"/>
<ellipse cx="319.1" cy="1538.1" rx="3.2" ry="4.0"/>
<ellipse cx="169.2" cy="1547.6" rx="3.2" ry="4.0"/>
<ellipse cx="215.9" cy="1547.2" rx="3.2" ry="4.0"/>
<ellipse cx="220.9" cy="1552.2" rx="3.2" ry="4.0"/>
<ellipse cx="237.0" cy="1548.2" rx="3.2" ry="4.0"/>
<ellipse cx="238.6" cy="1556.2" rx="3.2" ry="4.0"/>
<ellipse cx="228.9" cy="1556.2" rx="3.2" ry="4.0"/>
<ellipse cx="351.7" cy="1551.2" rx="3.2" ry="4.0"/>
<ellipse cx="357.7" cy="1557.2" rx="3.2" ry="4.0"/>
<ellipse cx="366.8" cy="1549.2" rx="3.2" ry="4.0"/>
<ellipse cx="363.8" cy="1557.2" rx="3.2" ry="4.0"/>
<ellipse cx="157.1" cy="1561.2" rx="3.2" ry="4.0"/>
<ellipse cx="184.1" cy="1563.3" rx="3.2" ry="4.0"/>
<ellipse cx="191.3" cy="1559.2" rx="3.2" ry="4.0"/>
<ellipse cx="210.2" cy="1562.2" rx="3.2" ry="4.0"/>
<ellipse cx="275.8" cy="1562.2" rx="3.2" ry="4.0"/>
<ellipse cx="309.8" cy="1560.2" rx="3.2" ry="4.0"/>
<ellipse cx="345.6" cy="1563.3" rx="3.2" ry="4.0"/>
<ellipse cx="367.8" cy="1563.3" rx="3.2" ry="4.0"/>
<ellipse cx="376.6" cy="1356.4" rx="3.2" ry="4.0"/>
<ellipse cx="389.7" cy="1356.0" rx="3.2" ry="4.0"/>
<ellipse cx="404.6" cy="1354.0" rx="3.2" ry="4.0"/>
<ellipse cx="429.4" cy="1358.0" rx="3.2" ry="4.0"/>
<ellipse cx="428.4" cy="1361.0" rx="3.2" ry="4.0"/>
<ellipse cx="451.1" cy="1359.6" rx="3.2" ry="4.0"/>
<ellipse cx="483.3" cy="1359.6" rx="3.2" ry="4.0"/>
<ellipse cx="490.7" cy="1361.6" rx="3.2" ry="4.0"/>
<ellipse cx="506.8" cy="1356.0" rx="3.2" ry="4.0"/>
<ellipse cx="565.2" cy="1357.0" rx="3.2" ry="4.0"/>
<ellipse cx="386.1" cy="1363.1" rx="3.2" ry="4.0"/>
<ellipse cx="387.1" cy="1368.1" rx="3.2" ry="4.0"/>
<ellipse cx="407.2" cy="1365.1" rx="3.2" ry="4.0"/>
<ellipse cx="401.2" cy="1373.1" rx="3.2" ry="4.0"/>
<ellipse cx="405.8" cy="1376.1" rx="3.2" ry="4.0"/>
<ellipse cx="442.8" cy="1373.5" rx="3.2" ry="4.0"/>
<ellipse cx="460.5" cy="1373.5" rx="3.2" ry="4.0"/>
<ellipse cx="466.6" cy="1368.1" rx="3.2" ry="4.0"/>
<ellipse cx="469.0" cy="1366.5" rx="3.2" ry="4.0"/>
<ellipse cx="509.2" cy="1372.5" rx="3.2" ry="4.0"/>
<ellipse cx="378.0" cy="1380.2" rx="3.2" ry="4.0"/>
<ellipse cx="382.1" cy="1384.2" rx="3.2" ry="4.0"/>
<ellipse cx="386.1" cy="1387.2" rx="3.2" ry="4.0"/>
<ellipse cx="390.1" cy="1389.2" rx="3.2" ry="4.0"/>
<ellipse cx="403.2" cy="1384.2" rx="3.2" ry="4.0"/>
<ellipse cx="409.2" cy="1385.2" rx="3.2" ry="4.0"/>
<ellipse cx="423.9" cy="1379.2" rx="3.2" ry="4.0"/>
<ellipse cx="431.4" cy="1383.2" rx="3.2" ry="4.0"/>
<ellipse cx="439.4" cy="1379.2" rx="3.2" ry="4.0"/>
<ellipse cx="422.3" cy="1389.2" rx="3.2" ry="4.0"/>
<ellipse cx="430.4" cy="1391.2" rx="3.2" ry="4.0"/>
<ellipse cx="433.4" cy="1389.2" rx="3.2" ry="4.0"/>
<ellipse cx="441.4" cy="1388.2" rx="3.2" ry="4.0"/>
<ellipse cx="445.5" cy="1393.2" rx="3.2" ry="4.0"/>
<ellipse cx="455.5" cy="1391.8" rx="3.2" ry="4.0"/>
<ellipse cx="476.6" cy="1382.2" rx="3.2" ry="4.0"/>
<ellipse cx="481.7" cy="1386.2" rx="3.2" ry="4.0"/>
<ellipse cx="485.7" cy="1379.2" rx="3.2" ry="4.0"/>
<ellipse cx="495.4" cy="1380.2" rx="3.2" ry="4.0"/>
<ellipse cx="521.5" cy="1384.6" rx="3.2" ry="4.0"/>
<ellipse cx="523.5" cy="1392.2" rx="3.2" ry="4.0"/>
<ellipse cx="483.7" cy="1393.2" rx="3.2" ry="4.0"/>
<ellipse cx="377.0" cy="1396.3" rx="3.2" ry="4.0"/>
<ellipse cx="382.1" cy="1396.3" rx="3.2" ry="4.0"/>
<ellipse cx="387.1" cy="1400.3" rx="3.2" ry="4.0"/>
<ellipse cx="374.0" cy="1401.3" rx="3.2" ry="4.0"/>
<ellipse cx="376.0" cy="1407.3" rx="3.2" ry="4.0"/>
<ellipse cx="379.7" cy="1409.3" rx="3.2" ry="4.0"/>
<ellipse cx="398.2" cy="1399.3" rx="3.2" ry="4.0"/>
<ellipse cx="399.8" cy="1406.7" rx="3.2" ry="4.0"/>
<ellipse cx="409.2" cy="1396.3" rx="3.2" ry="4.0"/>
<ellipse cx="408.8" cy="1402.7" rx="3.2" ry="4.0"/>
<ellipse cx="414.7" cy="1403.3" rx="3.2" ry="4.0"/>
<ellipse cx="412.7" cy="1406.3" rx="3.2" ry="4.0"/>
<ellipse cx="422.7" cy="1395.2" rx="3.2" ry="4.0"/>
<ellipse cx="422.7" cy="1404.3" rx="3.2" ry="4.0"/>
<ellipse cx="432.4" cy="1396.3" rx="3.2" ry="4.0"/>
<ellipse cx="438.4" cy="1401.3" rx="3.2" ry="4.0"/>
<ellipse cx="443.4" cy="1406.7" rx="3.2" ry="4.0"/>
<ellipse cx="450.1" cy="1401.3" rx="3.2" ry="4.0"/>
<ellipse cx="454.5" cy="1403.9" rx="3.2" ry="4.0"/>
<ellipse cx="469.6" cy="1396.9" rx="3.2" ry="4.0"/>
<ellipse cx="489.1" cy="1401.3" rx="3.2" ry="4.0"/>
<ellipse cx="533.4" cy="1405.9" rx="3.2" ry="4.0"/>
<ellipse cx="557.7" cy="1410.7" rx="3.2" ry="4.0"/>
<ellipse cx="394.1" cy="1414.4" rx="3.2" ry="4.0"/>
<ellipse cx="412.3" cy="1414.0" rx="3.2" ry="4.0"/>
<ellipse cx="432.0" cy="1412.8" rx="3.2" ry="4.0"/>
<ellipse cx="449.5" cy="1411.3" rx="3.2" ry="4.0"/>
<ellipse cx="401.2" cy="1418.0" rx="3.2" ry="4.0"/>
<ellipse cx="407.2" cy="1419.4" rx="3.2" ry="4.0"/>
<ellipse cx="405.8" cy="1423.4" rx="3.2" ry="4.0"/>
<ellipse cx="440.4" cy="1416.4" rx="3.2" ry="4.0"/>
<ellipse cx="440.4" cy="1420.4" rx="3.2" ry="4.0"/>
<ellipse cx="436.4" cy="1424.4" rx="3.2" ry="4.0"/>
<ellipse cx="451.5" cy="1414.4" rx="3.2" ry="4.0"/>
<ellipse cx="453.5" cy="1418.4" rx="3.2" ry="4.0"/>
<ellipse cx="452.1" cy="1425.4" rx="3.2" ry="4.0"/>
<ellipse cx="392.5" cy="1428.8" rx="3.2" ry="4.0"/>
<ellipse cx="384.1" cy="1433.5" rx="3.2" ry="4.0"/>
<ellipse cx="396.2" cy="1432.5" rx="3.2" ry="4.0"/>
<ellipse cx="406.2" cy="1431.5" rx="3.2" ry="4.0"/>
<ellipse cx="419.3" cy="1431.5" rx="3.2" ry="4.0"/>
<ellipse cx="429.0" cy="1430.1" rx="3.2" ry="4.0"/>
<ellipse cx="434.4" cy="1429.5" rx="3.2" ry="4.0"/>
<ellipse cx="444.4" cy="1431.5" rx="3.2" ry="4.0"/>
<ellipse cx="480.3" cy="1429.5" rx="3.2" ry="4.0"/>
<ellipse cx="483.1" cy="1421.4" rx="3.2" ry="4.0"/>
<ellipse cx="485.1" cy="1422.0" rx="3.2" ry="4.0"/>
<ellipse cx="498.4" cy="1428.0" rx="3.2" ry="4.0"/>
<ellipse cx="501.8" cy="1425.4" rx="3.2" ry="4.0"/>
<ellipse cx="520.5" cy="1415.8" rx="3.2" ry="4.0"/>
<ellipse cx="519.9" cy="1430.5" rx="3.2" ry="4.0"/>
<ellipse cx="541.6" cy="1432.5" rx="3.2" ry="4.0"/>
<ellipse cx="541.0" cy="1435.5" rx="3.2" ry="4.0"/>
<ellipse cx="574.2" cy="1432.5" rx="3.2" ry="4.0"/>
<ellipse cx="395.2" cy="1437.5" rx="3.2" ry="4.0"/>
<ellipse cx="398.8" cy="1439.5" rx="3.2" ry="4.0"/>
<ellipse cx="405.2" cy="1435.5" rx="3.2" ry="4.0"/>
<ellipse cx="418.3" cy="1438.5" rx="3.2" ry="4.0"/>
<ellipse cx="417.3" cy="1444.5" rx="3.2" ry="4.0"/>
<ellipse cx="408.6" cy="1447.6" rx="3.2" ry="4.0"/>
<ellipse cx="408.2" cy="1451.6" rx="3.2" ry="4.0"/>
<ellipse cx="422.7" cy="1445.5" rx="3.2" ry="4.0"/>
<ellipse cx="381.1" cy="1446.6" rx="3.2" ry="4.0"/>
<ellipse cx="388.1" cy="1445.5" rx="3.2" ry="4.0"/>
<ellipse cx="379.1" cy="1452.6" rx="3.2" ry="4.0"/>
<ellipse cx="388.1" cy="1453.6" rx="3.2" ry="4.0"/>
<ellipse cx="438.4" cy="1449.6" rx="3.2" ry="4.0"/>
<ellipse cx="449.5" cy="1437.5" rx="3.2" ry="4.0"/>
<ellipse cx="452.9" cy="1436.1" rx="3.2" ry="4.0"/>
<ellipse cx="452.5" cy="1444.5" rx="3.2" ry="4.0"/>
<ellipse cx="456.5" cy="1452.6" rx="3.2" ry="4.0"/>
<ellipse cx="466.2" cy="1435.5" rx="3.2" ry="4.0"/>
<ellipse cx="466.2" cy="1451.0" rx="3.2" ry="4.0"/>
<ellipse cx="473.6" cy="1448.0" rx="3.2" ry="4.0"/>
<ellipse cx="495.8" cy="1448.0" rx="3.2" ry="4.0"/>
<ellipse cx="513.9" cy="1436.1" rx="3.2" ry="4.0"/>
<ellipse cx="517.9" cy="1442.5" rx="3.2" ry="4.0"/>
<ellipse cx="524.5" cy="1454.6" rx="3.2" ry="4.0"/>
<ellipse cx="416.3" cy="1457.6" rx="3.2" ry="4.0"/>
<ellipse cx="419.3" cy="1457.6" rx="3.2" ry="4.0"/>
<ellipse cx="427.7" cy="1456.6" rx="3.2" ry="4.0"/>
<ellipse cx="458.5" cy="1455.6" rx="3.2" ry="4.0"/>
<ellipse cx="387.1" cy="1462.7" rx="3.2" ry="4.0"/>
<ellipse cx="396.8" cy="1460.6" rx="3.2" ry="4.0"/>
<ellipse cx="401.2" cy="1465.7" rx="3.2" ry="4.0"/>
<ellipse cx="379.1" cy="1466.7" rx="3.2" ry="4.0"/>
<ellipse cx="386.1" cy="1469.7" rx="3.2" ry="4.0"/>
<ellipse cx="385.1" cy="1473.7" rx="3.2" ry="4.0"/>
<ellipse cx="442.4" cy="1457.6" rx="3.2" ry="4.0"/>
<ellipse cx="443.4" cy="1463.7" rx="3.2" ry="4.0"/>
<ellipse cx="448.5" cy="1463.7" rx="3.2" ry="4.0"/>
<ellipse cx="448.5" cy="1467.7" rx="3.2" ry="4.0"/>
<ellipse cx="459.9" cy="1466.3" rx="3.2" ry="4.0"/>
<ellipse cx="478.7" cy="1470.3" rx="3.2" ry="4.0"/>
<ellipse cx="501.8" cy="1473.3" rx="3.2" ry="4.0"/>
<ellipse cx="514.5" cy="1476.3" rx="3.2" ry="4.0"/>
<ellipse cx="549.1" cy="1475.7" rx="3.2" ry="4.0"/>
<ellipse cx="374.0" cy="1470.7" rx="3.2" ry="4.0"/>
<ellipse cx="396.2" cy="1475.7" rx="3.2" ry="4.0"/>
<ellipse cx="398.2" cy="1479.8" rx="3.2" ry="4.0"/>
<ellipse cx="374.0" cy="1478.7" rx="3.2" ry="4.0"/>
<ellipse cx="375.0" cy="1487.8" rx="3.2" ry="4.0"/>
<ellipse cx="391.7" cy="1484.8" rx="3.2" ry="4.0"/>
<ellipse cx="397.2" cy="1485.8" rx="3.2" ry="4.0"/>
<ellipse cx="406.2" cy="1484.8" rx="3.2" ry="4.0"/>
<ellipse cx="410.2" cy="1490.8" rx="3.2" ry="4.0"/>
<ellipse cx="383.1" cy="1492.8" rx="3.2" ry="4.0"/>
<ellipse cx="387.1" cy="1490.8" rx="3.2" ry="4.0"/>
<ellipse cx="432.4" cy="1476.7" rx="3.2" ry="4.0"/>
<ellipse cx="431.4" cy="1479.8" rx="3.2" ry="4.0"/>
<ellipse cx="446.5" cy="1480.8" rx="3.2" ry="4.0"/>
<ellipse cx="452.5" cy="1479.8" rx="3.2" ry="4.0"/>
<ellipse cx="458.5" cy="1475.7" rx="3.2" ry="4.0"/>
<ellipse cx="460.5" cy="1482.8" rx="3.2" ry="4.0"/>
<ellipse cx="464.6" cy="1484.8" rx="3.2" ry="4.0"/>
<ellipse cx="470.6" cy="1478.7" rx="3.2" ry="4.0"/>
<ellipse cx="438.4" cy="1488.8" rx="3.2" ry="4.0"/>
<ellipse cx="437.4" cy="1492.8" rx="3.2" ry="4.0"/>
<ellipse cx="508.8" cy="1482.8" rx="3.2" ry="4.0"/>
<ellipse cx="510.8" cy="1479.8" rx="3.2" ry="4.0"/>
<ellipse cx="499.4" cy="1493.2" rx="3.2" ry="4.0"/>
<ellipse cx="427.3" cy="1493.8" rx="3.2" ry="4.0"/>
<ellipse cx="372.0" cy="1500.9" rx="3.2" ry="4.0"/>
<ellipse cx="389.1" cy="1497.9" rx="3.2" ry="4.0"/>
<ellipse cx="388.1" cy="1503.9" rx="3.2" ry="4.0"/>
<ellipse cx="395.2" cy="1500.9" rx="3.2" ry="4.0"/>
<ellipse cx="400.2" cy="1500.9" rx="3.2" ry="4.0"/>
<ellipse cx="403.2" cy="1498.9" rx="3.2" ry="4.0"/>
<ellipse cx="410.2" cy="1499.9" rx="3.2" ry="4.0"/>
<ellipse cx="385.1" cy="1507.9" rx="3.2" ry="4.0"/>
<ellipse cx="401.2" cy="1508.9" rx="3.2" ry="4.0"/>
<ellipse cx="413.3" cy="1507.9" rx="3.2" ry="4.0"/>
<ellipse cx="418.3" cy="1509.9" rx="3.2" ry="4.0"/>
<ellipse cx="426.3" cy="1513.0" rx="3.2" ry="4.0"/>
<ellipse cx="438.4" cy="1508.5" rx="3.2" ry="4.0"/>
<ellipse cx="450.5" cy="1504.9" rx="3.2" ry="4.0"/>
<ellipse cx="450.1" cy="1510.9" rx="3.2" ry="4.0"/>
<ellipse cx="457.5" cy="1499.9" rx="3.2" ry="4.0"/>
<ellipse cx="458.9" cy="1514.0" rx="3.2" ry="4.0"/>
<ellipse cx="465.6" cy="1510.9" rx="3.2" ry="4.0"/>
<ellipse cx="468.6" cy="1517.0" rx="3.2" ry="4.0"/>
<ellipse cx="478.7" cy="1507.9" rx="3.2" ry="4.0"/>
<ellipse cx="482.7" cy="1498.9" rx="3.2" ry="4.0"/>
<ellipse cx="486.3" cy="1496.9" rx="3.2" ry="4.0"/>
<ellipse cx="485.7" cy="1503.9" rx="3.2" ry="4.0"/>
<ellipse cx="488.7" cy="1503.9" rx="3.2" ry="4.0"/>
<ellipse cx="581.3" cy="1499.3" rx="3.2" ry="4.0"/>
<ellipse cx="515.9" cy="1515.4" rx="3.2" ry="4.0"/>
<ellipse cx="376.0" cy="1514.4" rx="3.2" ry="4.0"/>
<ellipse cx="405.2" cy="1515.6" rx="3.2" ry="4.0"/>
<ellipse cx="400.2" cy="1522.6" rx="3.2" ry="4.0"/>
<ellipse cx="409.2" cy="1525.0" rx="3.2" ry="4.0"/>
<ellipse cx="407.2" cy="1531.1" rx="3.2" ry="4.0"/>
<ellipse cx="376.0" cy="1528.0" rx="3.2" ry="4.0"/>
<ellipse cx="374.0" cy="1536.1" rx="3.2" ry="4.0"/>
<ellipse cx="378.0" cy="1539.1" rx="3.2" ry="4.0"/>
<ellipse cx="383.1" cy="1537.1" rx="3.2" ry="4.0"/>
<ellipse cx="395.2" cy="1537.1" rx="3.2" ry="4.0"/>
<ellipse cx="406.2" cy="1538.1" rx="3.2" ry="4.0"/>
<ellipse cx="413.3" cy="1542.1" rx="3.2" ry="4.0"/>
<ellipse cx="421.3" cy="1542.1" rx="3.2" ry="4.0"/>
<ellipse cx="430.4" cy="1532.1" rx="3.2" ry="4.0"/>
<ellipse cx="432.4" cy="1536.1" rx="3.2" ry="4.0"/>
<ellipse cx="444.4" cy="1522.0" rx="3.2" ry="4.0"/>
<ellipse cx="453.9" cy="1526.6" rx="3.2" ry="4.0"/>
<ellipse cx="442.8" cy="1533.7" rx="3.2" ry="4.0"/>
<ellipse cx="451.5" cy="1536.1" rx="3.2" ry="4.0"/>
<ellipse cx="460.5" cy="1535.7" rx="3.2" ry="4.0"/>
<ellipse cx="467.6" cy="1532.1" rx="3.2" ry="4.0"/>
<ellipse cx="471.6" cy="1521.0" rx="3.2" ry="4.0"/>
<ellipse cx="480.3" cy="1526.6" rx="3.2" ry="4.0"/>
<ellipse cx="486.7" cy="1529.1" rx="3.2" ry="4.0"/>
<ellipse cx="494.7" cy="1531.1" rx="3.2" ry="4.0"/>
<ellipse cx="498.8" cy="1535.1" rx="3.2" ry="4.0"/>
<ellipse cx="502.8" cy="1531.1" rx="3.2" ry="4.0"/>
<ellipse cx="507.8" cy="1530.1" rx="3.2" ry="4.0"/>
<ellipse cx="479.7" cy="1538.7" rx="3.2" ry="4.0"/>
<ellipse cx="518.5" cy="1540.7" rx="3.2" ry="4.0"/>
<ellipse cx="532.0" cy="1535.5" rx="3.2" ry="4.0"/>
<ellipse cx="559.7" cy="1530.1" rx="3.2" ry="4.0"/>
<ellipse cx="392.7" cy="1546.6" rx="3.2" ry="4.0"/>
<ellipse cx="404.2" cy="1550.2" rx="3.2" ry="4.0"/>
<ellipse cx="421.3" cy="1549.2" rx="3.2" ry="4.0"/>
<ellipse cx="428.4" cy="1546.8" rx="3.2" ry="4.0"/>
<ellipse cx="440.4" cy="1553.6" rx="3.2" ry="4.0"/>
<ellipse cx="387.1" cy="1562.9" rx="3.2" ry="4.0"/>
<ellipse cx="395.2" cy="1561.8" rx="3.2" ry="4.0"/>
<ellipse cx="197.2" cy="1574.0" rx="3.2" ry="4.0"/>
<ellipse cx="228.5" cy="1570.0" rx="3.2" ry="4.0"/>
<ellipse cx="235.0" cy="1579.1" rx="3.2" ry="4.0"/>
<ellipse cx="236.0" cy="1589.1" rx="3.2" ry="4.0"/>
<ellipse cx="158.1" cy="1589.5" rx="3.2" ry="4.0"/>
<ellipse cx="163.1" cy="1595.2" rx="3.2" ry="4.0"/>
<ellipse cx="172.2" cy="1591.6" rx="3.2" ry="4.0"/>
<ellipse cx="174.2" cy="1582.7" rx="3.2" ry="4.0"/>
<ellipse cx="210.2" cy="1603.8" rx="3.2" ry="4.0"/>
<ellipse cx="240.6" cy="1619.9" rx="3.2" ry="4.0"/>
<ellipse cx="257.5" cy="1593.2" rx="3.2" ry="4.0"/>
<ellipse cx="260.7" cy="1598.2" rx="3.2" ry="4.0"/>
<ellipse cx="264.8" cy="1583.5" rx="3.2" ry="4.0"/>
<ellipse cx="272.2" cy="1580.1" rx="3.2" ry="4.0"/>
<ellipse cx="289.3" cy="1586.5" rx="3.2" ry="4.0"/>
<ellipse cx="290.9" cy="1574.5" rx="3.2" ry="4.0"/>
<ellipse cx="295.7" cy="1573.0" rx="3.2" ry="4.0"/>
<ellipse cx="297.8" cy="1579.5" rx="3.2" ry="4.0"/>
<ellipse cx="296.9" cy="1596.2" rx="3.2" ry="4.0"/>
<ellipse cx="306.0" cy="1597.2" rx="3.2" ry="4.0"/>
<ellipse cx="310.4" cy="1569.0" rx="3.2" ry="4.0"/>
<ellipse cx="311.0" cy="1572.0" rx="3.2" ry="4.0"/>
<ellipse cx="315.9" cy="1575.7" rx="3.2" ry="4.0"/>
<ellipse cx="313.4" cy="1586.1" rx="3.2" ry="4.0"/>
<ellipse cx="319.9" cy="1593.6" rx="3.2" ry="4.0"/>
<ellipse cx="300.0" cy="1611.3" rx="3.2" ry="4.0"/>
<ellipse cx="317.1" cy="1613.3" rx="3.2" ry="4.0"/>
<ellipse cx="332.6" cy="1608.7" rx="3.2" ry="4.0"/>
<ellipse cx="342.2" cy="1601.6" rx="3.2" ry="4.0"/>
<ellipse cx="357.3" cy="1569.0" rx="3.2" ry="4.0"/>
<ellipse cx="365.8" cy="1567.0" rx="3.2" ry="4.0"/>
<ellipse cx="381.5" cy="1570.0" rx="3.2" ry="4.0"/>
<ellipse cx="412.3" cy="1569.6" rx="3.2" ry="4.0"/>
<ellipse cx="463.6" cy="1570.0" rx="3.2" ry="4.0"/>
<ellipse cx="399.2" cy="1577.5" rx="3.2" ry="4.0"/>
<ellipse cx="379.1" cy="1583.7" rx="3.2" ry="4.0"/>
<ellipse cx="399.6" cy="1589.5" rx="3.2" ry="4.0"/>
<ellipse cx="375.0" cy="1603.6" rx="3.2" ry="4.0"/>
<ellipse cx="397.6" cy="1602.8" rx="3.2" ry="4.0"/>
<ellipse cx="412.3" cy="1604.8" rx="3.2" ry="4.0"/>
<ellipse cx="431.0" cy="1606.6" rx="3.2" ry="4.0"/>
<ellipse cx="436.0" cy="1595.2" rx="3.2" ry="4.0"/>
<ellipse cx="446.5" cy="1594.6" rx="3.2" ry="4.0"/>
<ellipse cx="449.5" cy="1591.2" rx="3.2" ry="4.0"/>
<ellipse cx="459.9" cy="1609.9" rx="3.2" ry="4.0"/>
<ellipse cx="511.4" cy="1601.8" rx="3.2" ry="4.0"/>
<ellipse cx="326.8" cy="1398.1" rx="3.2" ry="4.0"/>
<ellipse cx="306.0" cy="1386.5" rx="3.2" ry="4.0"/>
<ellipse cx="270.2" cy="1459.9" rx="3.2" ry="4.0"/>
<ellipse cx="384.4" cy="1503.5" rx="3.2" ry="4.0"/>
<ellipse cx="302.9" cy="1418.3" rx="3.2" ry="4.0"/>
<ellipse cx="304.8" cy="1456.3" rx="3.2" ry="4.0"/>
<ellipse cx="301.8" cy="1404.7" rx="3.2" ry="4.0"/>
<ellipse cx="302.7" cy="1487.2" rx="3.2" ry="4.0"/>
<ellipse cx="340.3" cy="1483.2" rx="3.2" ry="4.0"/>
<ellipse cx="392.4" cy="1453.3" rx="3.2" ry="4.0"/>
<ellipse cx="367.1" cy="1442.6" rx="3.2" ry="4.0"/>
<ellipse cx="243.7" cy="1406.9" rx="3.2" ry="4.0"/>
<ellipse cx="423.3" cy="1420.6" rx="3.2" ry="4.0"/>
<ellipse cx="372.2" cy="1438.6" rx="3.2" ry="4.0"/>
<ellipse cx="322.9" cy="1485.5" rx="3.2" ry="4.0"/>
<ellipse cx="428.9" cy="1413.7" rx="3.2" ry="4.0"/>
<ellipse cx="328.3" cy="1473.3" rx="3.2" ry="4.0"/>
<ellipse cx="269.6" cy="1440.1" rx="3.2" ry="4.0"/>
<ellipse cx="411.3" cy="1382.8" rx="3.2" ry="4.0"/>
<ellipse cx="288.5" cy="1508.3" rx="3.2" ry="4.0"/>
<ellipse cx="360.0" cy="1487.0" rx="3.2" ry="4.0"/>
<ellipse cx="288.7" cy="1478.0" rx="3.2" ry="4.0"/>
<ellipse cx="239.7" cy="1414.6" rx="3.2" ry="4.0"/>
<ellipse cx="250.6" cy="1483.3" rx="3.2" ry="4.0"/>
<ellipse cx="441.0" cy="1511.0" rx="3.2" ry="4.0"/>
<ellipse cx="436.2" cy="1416.4" rx="3.2" ry="4.0"/>
<ellipse cx="435.8" cy="1380.8" rx="3.2" ry="4.0"/>
<ellipse cx="287.8" cy="1412.2" rx="3.2" ry="4.0"/>
<ellipse cx="386.4" cy="1510.8" rx="3.2" ry="4.0"/>
<ellipse cx="347.3" cy="1420.8" rx="3.2" ry="4.0"/>
<ellipse cx="225.9" cy="1507.0" rx="3.2" ry="4.0"/>
<ellipse cx="314.6" cy="1414.3" rx="3.2" ry="4.0"/>
<ellipse cx="216.1" cy="1497.2" rx="3.2" ry="4.0"/>
<ellipse cx="357.8" cy="1462.0" rx="3.2" ry="4.0"/>
<ellipse cx="321.3" cy="1391.0" rx="3.2" ry="4.0"/>
<ellipse cx="259.7" cy="1523.2" rx="3.2" ry="4.0"/>
<ellipse cx="384.8" cy="1385.0" rx="3.2" ry="4.0"/>
<ellipse cx="297.4" cy="1409.6" rx="3.2" ry="4.0"/>
<ellipse cx="451.3" cy="1405.1" rx="3.2" ry="4.0"/>
<ellipse cx="302.9" cy="1386.7" rx="3.2" ry="4.0"/>
<ellipse cx="407.5" cy="1403.9" rx="3.2" ry="4.0"/>
<ellipse cx="384.4" cy="1419.4" rx="3.2" ry="4.0"/>
<ellipse cx="398.5" cy="1376.8" rx="3.2" ry="4.0"/>
<ellipse cx="401.4" cy="1412.7" rx="3.2" ry="4.0"/>
<ellipse cx="435.3" cy="1441.5" rx="3.2" ry="4.0"/>
<ellipse cx="335.2" cy="1446.6" rx="3.2" ry="4.0"/>
<ellipse cx="255.6" cy="1480.7" rx="3.2" ry="4.0"/>
<ellipse cx="305.9" cy="1410.4" rx="3.2" ry="4.0"/>
<ellipse cx="426.6" cy="1374.6" rx="3.2" ry="4.0"/>
<ellipse cx="274.8" cy="1484.8" rx="3.2" ry="4.0"/>
<ellipse cx="295.6" cy="1418.8" rx="3.2" ry="4.0"/>
<ellipse cx="440.4" cy="1510.1" rx="3.2" ry="4.0"/>
<ellipse cx="233.3" cy="1473.1" rx="3.2" ry="4.0"/>
<ellipse cx="373.1" cy="1475.4" rx="3.2" ry="4.0"/>
<ellipse cx="375.2" cy="1480.9" rx="3.2" ry="4.0"/>
<ellipse cx="240.3" cy="1433.8" rx="3.2" ry="4.0"/>
<ellipse cx="397.2" cy="1480.1" rx="3.2" ry="4.0"/>
<ellipse cx="285.0" cy="1416.1" rx="3.2" ry="4.0"/>
<ellipse cx="373.0" cy="1505.1" rx="3.2" ry="4.0"/>
<ellipse cx="437.0" cy="1386.4" rx="3.2" ry="4.0"/>
<ellipse cx="429.5" cy="1459.7" rx="3.2" ry="4.0"/>
<ellipse cx="381.3" cy="1416.8" rx="3.2" ry="4.0"/>
<ellipse cx="311.4" cy="1501.6" rx="3.2" ry="4.0"/>
<ellipse cx="325.0" cy="1404.8" rx="3.2" ry="4.0"/>
<ellipse cx="401.9" cy="1421.3" rx="3.2" ry="4.0"/>
<ellipse cx="388.1" cy="1398.8" rx="3.2" ry="4.0"/>
<ellipse cx="239.5" cy="1441.0" rx="3.2" ry="4.0"/>
<ellipse cx="412.0" cy="1475.2" rx="3.2" ry="4.0"/>
<ellipse cx="377.6" cy="1408.2" rx="3.2" ry="4.0"/>
<ellipse cx="360.0" cy="1462.0" rx="3.2" ry="4.0"/>
<ellipse cx="370.7" cy="1470.1" rx="3.2" ry="4.0"/>
<ellipse cx="317.5" cy="1492.3" rx="3.2" ry="4.0"/>
<ellipse cx="316.6" cy="1430.0" rx="3.2" ry="4.0"/>
<ellipse cx="443.5" cy="1376.0" rx="3.2" ry="4.0"/>
<ellipse cx="361.7" cy="1480.6" rx="3.2" ry="4.0"/>
<ellipse cx="411.8" cy="1462.5" rx="3.2" ry="4.0"/>
<ellipse cx="190.5" cy="1459.5" rx="3.2" ry="4.0"/>
<ellipse cx="280.8" cy="1443.4" rx="3.2" ry="4.0"/>
<ellipse cx="434.3" cy="1428.3" rx="3.2" ry="4.0"/>
<ellipse cx="303.8" cy="1464.8" rx="3.2" ry="4.0"/>
<ellipse cx="310.0" cy="1448.1" rx="3.2" ry="4.0"/>
<ellipse cx="370.9" cy="1414.1" rx="3.2" ry="4.0"/>
<ellipse cx="396.1" cy="1441.3" rx="3.2" ry="4.0"/>
<ellipse cx="385.4" cy="1515.2" rx="3.2" ry="4.0"/>
<ellipse cx="367.7" cy="1451.3" rx="3.2" ry="4.0"/>
<ellipse cx="413.2" cy="1495.5" rx="3.2" ry="4.0"/>
<ellipse cx="437.5" cy="1472.9" rx="3.2" ry="4.0"/>
<ellipse cx="447.2" cy="1406.6" rx="3.2" ry="4.0"/>
<ellipse cx="400.4" cy="1392.9" rx="3.2" ry="4.0"/>
<ellipse cx="391.0" cy="1497.2" rx="3.2" ry="4.0"/>
<rect x="72.3" y="1142.0" width="596.0" height="529.8" fill="none" stroke="#1e1e1e" stroke-width="2"/>
<text x="62.5" y="1676.1" font-size="19.6" text-anchor="end" font-weight="400" fill="#000" textLength="17.7" lengthAdjust="spacingAndGlyphs">10</text>
<text x="62.5" y="1570.1" font-size="19.6" text-anchor="end" font-weight="400" fill="#000" textLength="26.5" lengthAdjust="spacingAndGlyphs">100</text>
<text x="62.5" y="1464.2" font-size="19.6" text-anchor="end" font-weight="400" fill="#000" textLength="35.4" lengthAdjust="spacingAndGlyphs">1000</text>
<text x="62.5" y="1358.2" font-size="19.6" text-anchor="end" font-weight="400" fill="#000" textLength="44.2" lengthAdjust="spacingAndGlyphs">10000</text>
<text x="62.5" y="1252.3" font-size="19.6" text-anchor="end" font-weight="400" fill="#000" textLength="53.1" lengthAdjust="spacingAndGlyphs">100000</text>
<text x="62.5" y="1146.3" font-size="19.6" text-anchor="end" font-weight="400" fill="#000" textLength="61.9" lengthAdjust="spacingAndGlyphs">1000000</text>
<text x="72.3" y="1702.7" font-size="19.6" text-anchor="middle" font-weight="400" fill="#000" textLength="17.7" lengthAdjust="spacingAndGlyphs">10</text>
<text x="221.3" y="1702.7" font-size="19.6" text-anchor="middle" font-weight="400" fill="#000" textLength="26.5" lengthAdjust="spacingAndGlyphs">100</text>
<text x="370.3" y="1702.7" font-size="19.6" text-anchor="middle" font-weight="400" fill="#000" textLength="35.4" lengthAdjust="spacingAndGlyphs">1000</text>
<text x="519.3" y="1702.7" font-size="19.6" text-anchor="middle" font-weight="400" fill="#000" textLength="44.2" lengthAdjust="spacingAndGlyphs">10000</text>
<text x="668.3" y="1702.7" font-size="19.6" text-anchor="middle" font-weight="400" fill="#000" textLength="53.1" lengthAdjust="spacingAndGlyphs">100000</text>
<line x1="857.5" y1="1245.5" x2="1448.5" y2="1245.5" stroke="#b0b0b0" stroke-width="1"/>
<line x1="857.5" y1="1351.5" x2="1448.5" y2="1351.5" stroke="#b0b0b0" stroke-width="1"/>
<line x1="857.5" y1="1457.5" x2="1448.5" y2="1457.5" stroke="#b0b0b0" stroke-width="1"/>
<line x1="857.5" y1="1563.5" x2="1448.5" y2="1563.5" stroke="#b0b0b0" stroke-width="1"/>
<line x1="975.5" y1="1664.0" x2="975.5" y2="1669.0" stroke="#b0b0b0" stroke-width="1"/>
<line x1="1093.5" y1="1664.0" x2="1093.5" y2="1669.0" stroke="#b0b0b0" stroke-width="1"/>
<line x1="1212.5" y1="1664.0" x2="1212.5" y2="1669.0" stroke="#b0b0b0" stroke-width="1"/>
<line x1="1330.5" y1="1664.0" x2="1330.5" y2="1669.0" stroke="#b0b0b0" stroke-width="1"/>
<ellipse cx="1057.8" cy="1225.9" rx="3.2" ry="4.0"/>
<ellipse cx="1069.0" cy="1242.7" rx="3.2" ry="4.0"/>
<ellipse cx="1038.3" cy="1278.5" rx="3.2" ry="4.0"/>
<ellipse cx="977.8" cy="1293.7" rx="3.2" ry="4.0"/>
<ellipse cx="981.8" cy="1295.0" rx="3.2" ry="4.0"/>
<ellipse cx="1067.1" cy="1297.1" rx="3.2" ry="4.0"/>
<ellipse cx="1088.6" cy="1295.8" rx="3.2" ry="4.0"/>
<ellipse cx="954.3" cy="1327.5" rx="3.2" ry="4.0"/>
<ellipse cx="991.4" cy="1327.8" rx="3.2" ry="4.0"/>
<ellipse cx="1012.2" cy="1329.8" rx="3.2" ry="4.0"/>
<ellipse cx="1050.3" cy="1325.4" rx="3.2" ry="4.0"/>
<ellipse cx="1040.2" cy="1334.6" rx="3.2" ry="4.0"/>
<ellipse cx="966.1" cy="1341.0" rx="3.2" ry="4.0"/>
<ellipse cx="1001.0" cy="1343.4" rx="3.2" ry="4.0"/>
<ellipse cx="1021.0" cy="1341.0" rx="3.2" ry="4.0"/>
<ellipse cx="1025.8" cy="1347.0" rx="3.2" ry="4.0"/>
<ellipse cx="1045.0" cy="1345.8" rx="3.2" ry="4.0"/>
<ellipse cx="1066.6" cy="1347.8" rx="3.2" ry="4.0"/>
<ellipse cx="1073.0" cy="1347.8" rx="3.2" ry="4.0"/>
<ellipse cx="1194.7" cy="1255.7" rx="3.2" ry="4.0"/>
<ellipse cx="1117.5" cy="1277.5" rx="3.2" ry="4.0"/>
<ellipse cx="1096.4" cy="1310.4" rx="3.2" ry="4.0"/>
<ellipse cx="1096.9" cy="1323.1" rx="3.2" ry="4.0"/>
<ellipse cx="1115.1" cy="1311.1" rx="3.2" ry="4.0"/>
<ellipse cx="1112.7" cy="1316.4" rx="3.2" ry="4.0"/>
<ellipse cx="1114.4" cy="1318.8" rx="3.2" ry="4.0"/>
<ellipse cx="1120.4" cy="1324.0" rx="3.2" ry="4.0"/>
<ellipse cx="1113.2" cy="1333.2" rx="3.2" ry="4.0"/>
<ellipse cx="1117.5" cy="1334.3" rx="3.2" ry="4.0"/>
<ellipse cx="1143.1" cy="1329.6" rx="3.2" ry="4.0"/>
<ellipse cx="1150.3" cy="1327.2" rx="3.2" ry="4.0"/>
<ellipse cx="1153.4" cy="1322.4" rx="3.2" ry="4.0"/>
<ellipse cx="1151.0" cy="1315.2" rx="3.2" ry="4.0"/>
<ellipse cx="1159.2" cy="1309.2" rx="3.2" ry="4.0"/>
<ellipse cx="1163.5" cy="1332.7" rx="3.2" ry="4.0"/>
<ellipse cx="1180.8" cy="1335.5" rx="3.2" ry="4.0"/>
<ellipse cx="1188.0" cy="1334.3" rx="3.2" ry="4.0"/>
<ellipse cx="1196.6" cy="1337.2" rx="3.2" ry="4.0"/>
<ellipse cx="1200.7" cy="1324.3" rx="3.2" ry="4.0"/>
<ellipse cx="1178.4" cy="1343.9" rx="3.2" ry="4.0"/>
<ellipse cx="1255.8" cy="1309.2" rx="3.2" ry="4.0"/>
<ellipse cx="1275.4" cy="1324.0" rx="3.2" ry="4.0"/>
<ellipse cx="1195.2" cy="1347.1" rx="3.2" ry="4.0"/>
<ellipse cx="932.5" cy="1353.9" rx="3.2" ry="4.0"/>
<ellipse cx="987.4" cy="1359.5" rx="3.2" ry="4.0"/>
<ellipse cx="1014.3" cy="1357.4" rx="3.2" ry="4.0"/>
<ellipse cx="1041.8" cy="1353.4" rx="3.2" ry="4.0"/>
<ellipse cx="1037.8" cy="1359.8" rx="3.2" ry="4.0"/>
<ellipse cx="1042.6" cy="1362.2" rx="3.2" ry="4.0"/>
<ellipse cx="1046.6" cy="1365.4" rx="3.2" ry="4.0"/>
<ellipse cx="1039.4" cy="1368.6" rx="3.2" ry="4.0"/>
<ellipse cx="1059.4" cy="1352.6" rx="3.2" ry="4.0"/>
<ellipse cx="1065.0" cy="1352.6" rx="3.2" ry="4.0"/>
<ellipse cx="1076.2" cy="1353.4" rx="3.2" ry="4.0"/>
<ellipse cx="1071.4" cy="1360.6" rx="3.2" ry="4.0"/>
<ellipse cx="1076.2" cy="1366.2" rx="3.2" ry="4.0"/>
<ellipse cx="1085.0" cy="1366.2" rx="3.2" ry="4.0"/>
<ellipse cx="1091.4" cy="1367.0" rx="3.2" ry="4.0"/>
<ellipse cx="969.0" cy="1373.9" rx="3.2" ry="4.0"/>
<ellipse cx="956.7" cy="1380.1" rx="3.2" ry="4.0"/>
<ellipse cx="977.8" cy="1383.8" rx="3.2" ry="4.0"/>
<ellipse cx="992.2" cy="1379.8" rx="3.2" ry="4.0"/>
<ellipse cx="996.2" cy="1379.8" rx="3.2" ry="4.0"/>
<ellipse cx="999.9" cy="1382.2" rx="3.2" ry="4.0"/>
<ellipse cx="1011.4" cy="1376.6" rx="3.2" ry="4.0"/>
<ellipse cx="1017.0" cy="1368.6" rx="3.2" ry="4.0"/>
<ellipse cx="1023.4" cy="1375.0" rx="3.2" ry="4.0"/>
<ellipse cx="1018.6" cy="1371.8" rx="3.2" ry="4.0"/>
<ellipse cx="1034.3" cy="1385.1" rx="3.2" ry="4.0"/>
<ellipse cx="1045.0" cy="1380.9" rx="3.2" ry="4.0"/>
<ellipse cx="1063.1" cy="1371.5" rx="3.2" ry="4.0"/>
<ellipse cx="1056.2" cy="1383.0" rx="3.2" ry="4.0"/>
<ellipse cx="1066.6" cy="1386.2" rx="3.2" ry="4.0"/>
<ellipse cx="1073.0" cy="1384.6" rx="3.2" ry="4.0"/>
<ellipse cx="1077.8" cy="1382.2" rx="3.2" ry="4.0"/>
<ellipse cx="1081.0" cy="1386.2" rx="3.2" ry="4.0"/>
<ellipse cx="1090.6" cy="1381.4" rx="3.2" ry="4.0"/>
<ellipse cx="958.6" cy="1394.7" rx="3.2" ry="4.0"/>
<ellipse cx="972.7" cy="1390.7" rx="3.2" ry="4.0"/>
<ellipse cx="985.0" cy="1397.4" rx="3.2" ry="4.0"/>
<ellipse cx="994.6" cy="1388.9" rx="3.2" ry="4.0"/>
<ellipse cx="1004.2" cy="1390.2" rx="3.2" ry="4.0"/>
<ellipse cx="1005.8" cy="1395.0" rx="3.2" ry="4.0"/>
<ellipse cx="1019.4" cy="1391.0" rx="3.2" ry="4.0"/>
<ellipse cx="1024.2" cy="1393.4" rx="3.2" ry="4.0"/>
<ellipse cx="1028.2" cy="1391.0" rx="3.2" ry="4.0"/>
<ellipse cx="1037.8" cy="1395.8" rx="3.2" ry="4.0"/>
<ellipse cx="1048.2" cy="1393.4" rx="3.2" ry="4.0"/>
<ellipse cx="1053.8" cy="1389.4" rx="3.2" ry="4.0"/>
<ellipse cx="1059.4" cy="1394.2" rx="3.2" ry="4.0"/>
<ellipse cx="1065.0" cy="1394.2" rx="3.2" ry="4.0"/>
<ellipse cx="1073.0" cy="1391.0" rx="3.2" ry="4.0"/>
<ellipse cx="1089.0" cy="1392.6" rx="3.2" ry="4.0"/>
<ellipse cx="1084.2" cy="1398.2" rx="3.2" ry="4.0"/>
<ellipse cx="953.0" cy="1409.4" rx="3.2" ry="4.0"/>
<ellipse cx="975.4" cy="1401.9" rx="3.2" ry="4.0"/>
<ellipse cx="981.0" cy="1402.2" rx="3.2" ry="4.0"/>
<ellipse cx="985.0" cy="1407.8" rx="3.2" ry="4.0"/>
<ellipse cx="995.1" cy="1401.4" rx="3.2" ry="4.0"/>
<ellipse cx="1012.2" cy="1401.4" rx="3.2" ry="4.0"/>
<ellipse cx="1022.6" cy="1405.4" rx="3.2" ry="4.0"/>
<ellipse cx="1025.0" cy="1403.8" rx="3.2" ry="4.0"/>
<ellipse cx="1021.8" cy="1410.2" rx="3.2" ry="4.0"/>
<ellipse cx="1036.2" cy="1400.6" rx="3.2" ry="4.0"/>
<ellipse cx="1037.0" cy="1409.4" rx="3.2" ry="4.0"/>
<ellipse cx="1043.4" cy="1407.8" rx="3.2" ry="4.0"/>
<ellipse cx="1048.2" cy="1405.4" rx="3.2" ry="4.0"/>
<ellipse cx="1051.4" cy="1402.2" rx="3.2" ry="4.0"/>
<ellipse cx="1060.2" cy="1405.4" rx="3.2" ry="4.0"/>
<ellipse cx="1074.6" cy="1400.6" rx="3.2" ry="4.0"/>
<ellipse cx="1076.2" cy="1410.2" rx="3.2" ry="4.0"/>
<ellipse cx="1081.0" cy="1403.8" rx="3.2" ry="4.0"/>
<ellipse cx="1085.8" cy="1406.2" rx="3.2" ry="4.0"/>
<ellipse cx="1092.2" cy="1402.2" rx="3.2" ry="4.0"/>
<ellipse cx="950.3" cy="1421.9" rx="3.2" ry="4.0"/>
<ellipse cx="954.9" cy="1418.2" rx="3.2" ry="4.0"/>
<ellipse cx="939.4" cy="1429.9" rx="3.2" ry="4.0"/>
<ellipse cx="969.8" cy="1419.8" rx="3.2" ry="4.0"/>
<ellipse cx="973.0" cy="1420.6" rx="3.2" ry="4.0"/>
<ellipse cx="976.2" cy="1426.2" rx="3.2" ry="4.0"/>
<ellipse cx="1009.8" cy="1419.8" rx="3.2" ry="4.0"/>
<ellipse cx="1015.4" cy="1421.4" rx="3.2" ry="4.0"/>
<ellipse cx="1022.6" cy="1420.6" rx="3.2" ry="4.0"/>
<ellipse cx="1028.2" cy="1415.0" rx="3.2" ry="4.0"/>
<ellipse cx="1033.0" cy="1419.8" rx="3.2" ry="4.0"/>
<ellipse cx="1039.4" cy="1416.6" rx="3.2" ry="4.0"/>
<ellipse cx="1045.8" cy="1416.6" rx="3.2" ry="4.0"/>
<ellipse cx="1050.6" cy="1419.8" rx="3.2" ry="4.0"/>
<ellipse cx="1057.0" cy="1418.2" rx="3.2" ry="4.0"/>
<ellipse cx="1061.0" cy="1415.8" rx="3.2" ry="4.0"/>
<ellipse cx="1065.8" cy="1421.4" rx="3.2" ry="4.0"/>
<ellipse cx="1081.0" cy="1419.8" rx="3.2" ry="4.0"/>
<ellipse cx="1087.4" cy="1423.0" rx="3.2" ry="4.0"/>
<ellipse cx="1092.2" cy="1418.2" rx="3.2" ry="4.0"/>
<ellipse cx="1041.0" cy="1426.2" rx="3.2" ry="4.0"/>
<ellipse cx="1045.8" cy="1426.2" rx="3.2" ry="4.0"/>
<ellipse cx="1069.8" cy="1429.4" rx="3.2" ry="4.0"/>
<ellipse cx="966.6" cy="1434.2" rx="3.2" ry="4.0"/>
<ellipse cx="969.8" cy="1439.0" rx="3.2" ry="4.0"/>
<ellipse cx="971.4" cy="1443.8" rx="3.2" ry="4.0"/>
<ellipse cx="977.0" cy="1435.8" rx="3.2" ry="4.0"/>
<ellipse cx="984.2" cy="1434.2" rx="3.2" ry="4.0"/>
<ellipse cx="991.4" cy="1438.2" rx="3.2" ry="4.0"/>
<ellipse cx="999.1" cy="1435.8" rx="3.2" ry="4.0"/>
<ellipse cx="1005.0" cy="1435.0" rx="3.2" ry="4.0"/>
<ellipse cx="1000.2" cy="1445.4" rx="3.2" ry="4.0"/>
<ellipse cx="1005.0" cy="1443.8" rx="3.2" ry="4.0"/>
<ellipse cx="1010.6" cy="1442.2" rx="3.2" ry="4.0"/>
<ellipse cx="1013.8" cy="1432.6" rx="3.2" ry="4.0"/>
<ellipse cx="1018.6" cy="1431.0" rx="3.2" ry="4.0"/>
<ellipse cx="1025.0" cy="1434.2" rx="3.2" ry="4.0"/>
<ellipse cx="1029.0" cy="1437.4" rx="3.2" ry="4.0"/>
<ellipse cx="1034.6" cy="1431.0" rx="3.2" ry="4.0"/>
<ellipse cx="1046.6" cy="1432.6" rx="3.2" ry="4.0"/>
<ellipse cx="1055.4" cy="1435.0" rx="3.2" ry="4.0"/>
<ellipse cx="1053.8" cy="1440.6" rx="3.2" ry="4.0"/>
<ellipse cx="1068.2" cy="1434.2" rx="3.2" ry="4.0"/>
<ellipse cx="1074.6" cy="1434.2" rx="3.2" ry="4.0"/>
<ellipse cx="1081.0" cy="1432.6" rx="3.2" ry="4.0"/>
<ellipse cx="1087.4" cy="1435.8" rx="3.2" ry="4.0"/>
<ellipse cx="1092.2" cy="1431.0" rx="3.2" ry="4.0"/>
<ellipse cx="1065.0" cy="1439.0" rx="3.2" ry="4.0"/>
<ellipse cx="1082.6" cy="1443.8" rx="3.2" ry="4.0"/>
<ellipse cx="1090.6" cy="1445.4" rx="3.2" ry="4.0"/>
<ellipse cx="1035.4" cy="1445.4" rx="3.2" ry="4.0"/>
<ellipse cx="1042.6" cy="1443.8" rx="3.2" ry="4.0"/>
<ellipse cx="1047.4" cy="1440.6" rx="3.2" ry="4.0"/>
<ellipse cx="1061.8" cy="1448.6" rx="3.2" ry="4.0"/>
<ellipse cx="965.3" cy="1448.6" rx="3.2" ry="4.0"/>
<ellipse cx="958.3" cy="1455.3" rx="3.2" ry="4.0"/>
<ellipse cx="932.5" cy="1455.3" rx="3.2" ry="4.0"/>
<ellipse cx="991.4" cy="1449.9" rx="3.2" ry="4.0"/>
<ellipse cx="990.6" cy="1454.2" rx="3.2" ry="4.0"/>
<ellipse cx="986.3" cy="1459.8" rx="3.2" ry="4.0"/>
<ellipse cx="1007.4" cy="1457.4" rx="3.2" ry="4.0"/>
<ellipse cx="1015.4" cy="1454.2" rx="3.2" ry="4.0"/>
<ellipse cx="1020.2" cy="1451.8" rx="3.2" ry="4.0"/>
<ellipse cx="1025.8" cy="1450.2" rx="3.2" ry="4.0"/>
<ellipse cx="1036.2" cy="1451.8" rx="3.2" ry="4.0"/>
<ellipse cx="1042.6" cy="1455.0" rx="3.2" ry="4.0"/>
<ellipse cx="1049.0" cy="1450.2" rx="3.2" ry="4.0"/>
<ellipse cx="1050.6" cy="1459.8" rx="3.2" ry="4.0"/>
<ellipse cx="1044.2" cy="1461.4" rx="3.2" ry="4.0"/>
<ellipse cx="1055.4" cy="1455.0" rx="3.2" ry="4.0"/>
<ellipse cx="1065.0" cy="1448.6" rx="3.2" ry="4.0"/>
<ellipse cx="1074.6" cy="1453.4" rx="3.2" ry="4.0"/>
<ellipse cx="1079.4" cy="1453.4" rx="3.2" ry="4.0"/>
<ellipse cx="1087.4" cy="1455.0" rx="3.2" ry="4.0"/>
<ellipse cx="1092.2" cy="1461.4" rx="3.2" ry="4.0"/>
<ellipse cx="1065.0" cy="1459.8" rx="3.2" ry="4.0"/>
<ellipse cx="1017.0" cy="1461.4" rx="3.2" ry="4.0"/>
<ellipse cx="971.1" cy="1462.7" rx="3.2" ry="4.0"/>
<ellipse cx="984.2" cy="1470.2" rx="3.2" ry="4.0"/>
<ellipse cx="976.2" cy="1474.2" rx="3.2" ry="4.0"/>
<ellipse cx="980.5" cy="1475.8" rx="3.2" ry="4.0"/>
<ellipse cx="961.5" cy="1475.0" rx="3.2" ry="4.0"/>
<ellipse cx="967.4" cy="1475.0" rx="3.2" ry="4.0"/>
<ellipse cx="962.6" cy="1480.6" rx="3.2" ry="4.0"/>
<ellipse cx="967.4" cy="1480.6" rx="3.2" ry="4.0"/>
<ellipse cx="990.6" cy="1471.0" rx="3.2" ry="4.0"/>
<ellipse cx="990.6" cy="1478.2" rx="3.2" ry="4.0"/>
<ellipse cx="1014.6" cy="1464.6" rx="3.2" ry="4.0"/>
<ellipse cx="1022.6" cy="1464.6" rx="3.2" ry="4.0"/>
<ellipse cx="1033.0" cy="1466.2" rx="3.2" ry="4.0"/>
<ellipse cx="1041.0" cy="1464.6" rx="3.2" ry="4.0"/>
<ellipse cx="1047.4" cy="1467.8" rx="3.2" ry="4.0"/>
<ellipse cx="1052.2" cy="1463.0" rx="3.2" ry="4.0"/>
<ellipse cx="1061.8" cy="1464.6" rx="3.2" ry="4.0"/>
<ellipse cx="1066.6" cy="1467.8" rx="3.2" ry="4.0"/>
<ellipse cx="1076.2" cy="1464.6" rx="3.2" ry="4.0"/>
<ellipse cx="1081.0" cy="1461.4" rx="3.2" ry="4.0"/>
<ellipse cx="1085.8" cy="1466.2" rx="3.2" ry="4.0"/>
<ellipse cx="1090.6" cy="1469.4" rx="3.2" ry="4.0"/>
<ellipse cx="1025.0" cy="1474.2" rx="3.2" ry="4.0"/>
<ellipse cx="1031.4" cy="1475.8" rx="3.2" ry="4.0"/>
<ellipse cx="1036.2" cy="1472.6" rx="3.2" ry="4.0"/>
<ellipse cx="1042.6" cy="1474.2" rx="3.2" ry="4.0"/>
<ellipse cx="1050.6" cy="1477.4" rx="3.2" ry="4.0"/>
<ellipse cx="1058.6" cy="1474.2" rx="3.2" ry="4.0"/>
<ellipse cx="1068.2" cy="1479.0" rx="3.2" ry="4.0"/>
<ellipse cx="1076.2" cy="1474.2" rx="3.2" ry="4.0"/>
<ellipse cx="1081.0" cy="1475.8" rx="3.2" ry="4.0"/>
<ellipse cx="1087.4" cy="1474.2" rx="3.2" ry="4.0"/>
<ellipse cx="949.8" cy="1493.4" rx="3.2" ry="4.0"/>
<ellipse cx="981.0" cy="1487.8" rx="3.2" ry="4.0"/>
<ellipse cx="977.8" cy="1493.4" rx="3.2" ry="4.0"/>
<ellipse cx="994.1" cy="1484.6" rx="3.2" ry="4.0"/>
<ellipse cx="1004.2" cy="1483.0" rx="3.2" ry="4.0"/>
<ellipse cx="1011.4" cy="1481.4" rx="3.2" ry="4.0"/>
<ellipse cx="1007.4" cy="1486.2" rx="3.2" ry="4.0"/>
<ellipse cx="1015.4" cy="1484.6" rx="3.2" ry="4.0"/>
<ellipse cx="1025.0" cy="1488.6" rx="3.2" ry="4.0"/>
<ellipse cx="1029.8" cy="1483.8" rx="3.2" ry="4.0"/>
<ellipse cx="1036.2" cy="1482.2" rx="3.2" ry="4.0"/>
<ellipse cx="1037.8" cy="1486.2" rx="3.2" ry="4.0"/>
<ellipse cx="1045.8" cy="1490.2" rx="3.2" ry="4.0"/>
<ellipse cx="1050.6" cy="1493.4" rx="3.2" ry="4.0"/>
<ellipse cx="1057.0" cy="1491.8" rx="3.2" ry="4.0"/>
<ellipse cx="1063.4" cy="1493.4" rx="3.2" ry="4.0"/>
<ellipse cx="1071.4" cy="1487.0" rx="3.2" ry="4.0"/>
<ellipse cx="1077.8" cy="1483.8" rx="3.2" ry="4.0"/>
<ellipse cx="1084.2" cy="1488.6" rx="3.2" ry="4.0"/>
<ellipse cx="1090.6" cy="1485.4" rx="3.2" ry="4.0"/>
<ellipse cx="1023.4" cy="1495.0" rx="3.2" ry="4.0"/>
<ellipse cx="1031.4" cy="1495.0" rx="3.2" ry="4.0"/>
<ellipse cx="921.8" cy="1507.5" rx="3.2" ry="4.0"/>
<ellipse cx="976.2" cy="1496.6" rx="3.2" ry="4.0"/>
<ellipse cx="978.1" cy="1503.8" rx="3.2" ry="4.0"/>
<ellipse cx="987.4" cy="1496.6" rx="3.2" ry="4.0"/>
<ellipse cx="994.6" cy="1496.6" rx="3.2" ry="4.0"/>
<ellipse cx="1004.2" cy="1497.4" rx="3.2" ry="4.0"/>
<ellipse cx="1009.0" cy="1502.2" rx="3.2" ry="4.0"/>
<ellipse cx="993.0" cy="1503.0" rx="3.2" ry="4.0"/>
<ellipse cx="989.0" cy="1501.4" rx="3.2" ry="4.0"/>
<ellipse cx="1007.4" cy="1507.0" rx="3.2" ry="4.0"/>
<ellipse cx="1016.2" cy="1506.2" rx="3.2" ry="4.0"/>
<ellipse cx="1026.6" cy="1504.6" rx="3.2" ry="4.0"/>
<ellipse cx="1033.0" cy="1501.4" rx="3.2" ry="4.0"/>
<ellipse cx="1038.6" cy="1503.0" rx="3.2" ry="4.0"/>
<ellipse cx="1045.8" cy="1499.8" rx="3.2" ry="4.0"/>
<ellipse cx="1047.4" cy="1504.6" rx="3.2" ry="4.0"/>
<ellipse cx="1057.0" cy="1502.2" rx="3.2" ry="4.0"/>
<ellipse cx="1063.4" cy="1506.2" rx="3.2" ry="4.0"/>
<ellipse cx="1071.4" cy="1501.4" rx="3.2" ry="4.0"/>
<ellipse cx="1066.6" cy="1509.4" rx="3.2" ry="4.0"/>
<ellipse cx="1077.8" cy="1503.0" rx="3.2" ry="4.0"/>
<ellipse cx="1082.6" cy="1498.2" rx="3.2" ry="4.0"/>
<ellipse cx="1087.4" cy="1501.4" rx="3.2" ry="4.0"/>
<ellipse cx="1093.8" cy="1496.6" rx="3.2" ry="4.0"/>
<ellipse cx="1093.8" cy="1506.2" rx="3.2" ry="4.0"/>
<ellipse cx="952.5" cy="1512.3" rx="3.2" ry="4.0"/>
<ellipse cx="961.0" cy="1507.8" rx="3.2" ry="4.0"/>
<ellipse cx="967.7" cy="1511.5" rx="3.2" ry="4.0"/>
<ellipse cx="957.8" cy="1519.0" rx="3.2" ry="4.0"/>
<ellipse cx="954.9" cy="1525.4" rx="3.2" ry="4.0"/>
<ellipse cx="977.8" cy="1519.8" rx="3.2" ry="4.0"/>
<ellipse cx="991.4" cy="1515.0" rx="3.2" ry="4.0"/>
<ellipse cx="993.0" cy="1520.6" rx="3.2" ry="4.0"/>
<ellipse cx="998.6" cy="1522.2" rx="3.2" ry="4.0"/>
<ellipse cx="1003.4" cy="1515.8" rx="3.2" ry="4.0"/>
<ellipse cx="1009.0" cy="1516.6" rx="3.2" ry="4.0"/>
<ellipse cx="1021.8" cy="1514.2" rx="3.2" ry="4.0"/>
<ellipse cx="1021.8" cy="1520.6" rx="3.2" ry="4.0"/>
<ellipse cx="1026.6" cy="1517.4" rx="3.2" ry="4.0"/>
<ellipse cx="1032.2" cy="1519.0" rx="3.2" ry="4.0"/>
<ellipse cx="1031.4" cy="1523.0" rx="3.2" ry="4.0"/>
<ellipse cx="1041.0" cy="1512.6" rx="3.2" ry="4.0"/>
<ellipse cx="1044.2" cy="1519.0" rx="3.2" ry="4.0"/>
<ellipse cx="1043.4" cy="1523.8" rx="3.2" ry="4.0"/>
<ellipse cx="1049.0" cy="1515.8" rx="3.2" ry="4.0"/>
<ellipse cx="1059.4" cy="1512.6" rx="3.2" ry="4.0"/>
<ellipse cx="1061.8" cy="1519.0" rx="3.2" ry="4.0"/>
<ellipse cx="1068.2" cy="1515.8" rx="3.2" ry="4.0"/>
<ellipse cx="1074.6" cy="1511.0" rx="3.2" ry="4.0"/>
<ellipse cx="1081.0" cy="1509.4" rx="3.2" ry="4.0"/>
<ellipse cx="1077.8" cy="1515.8" rx="3.2" ry="4.0"/>
<ellipse cx="1085.0" cy="1519.0" rx="3.2" ry="4.0"/>
<ellipse cx="1059.4" cy="1525.4" rx="3.2" ry="4.0"/>
<ellipse cx="931.7" cy="1531.0" rx="3.2" ry="4.0"/>
<ellipse cx="939.4" cy="1541.4" rx="3.2" ry="4.0"/>
<ellipse cx="944.2" cy="1546.2" rx="3.2" ry="4.0"/>
<ellipse cx="923.4" cy="1548.6" rx="3.2" ry="4.0"/>
<ellipse cx="956.2" cy="1539.0" rx="3.2" ry="4.0"/>
<ellipse cx="960.7" cy="1545.4" rx="3.2" ry="4.0"/>
<ellipse cx="977.3" cy="1550.2" rx="3.2" ry="4.0"/>
<ellipse cx="995.4" cy="1550.2" rx="3.2" ry="4.0"/>
<ellipse cx="1005.8" cy="1556.6" rx="3.2" ry="4.0"/>
<ellipse cx="1009.5" cy="1555.8" rx="3.2" ry="4.0"/>
<ellipse cx="1015.4" cy="1531.8" rx="3.2" ry="4.0"/>
<ellipse cx="1023.4" cy="1538.2" rx="3.2" ry="4.0"/>
<ellipse cx="1020.2" cy="1543.0" rx="3.2" ry="4.0"/>
<ellipse cx="1031.4" cy="1544.6" rx="3.2" ry="4.0"/>
<ellipse cx="1026.6" cy="1549.4" rx="3.2" ry="4.0"/>
<ellipse cx="1021.0" cy="1551.0" rx="3.2" ry="4.0"/>
<ellipse cx="1033.0" cy="1554.2" rx="3.2" ry="4.0"/>
<ellipse cx="1025.0" cy="1559.0" rx="3.2" ry="4.0"/>
<ellipse cx="1042.6" cy="1535.0" rx="3.2" ry="4.0"/>
<ellipse cx="1045.8" cy="1538.2" rx="3.2" ry="4.0"/>
<ellipse cx="1055.4" cy="1541.4" rx="3.2" ry="4.0"/>
<ellipse cx="1057.0" cy="1549.4" rx="3.2" ry="4.0"/>
<ellipse cx="1050.6" cy="1554.2" rx="3.2" ry="4.0"/>
<ellipse cx="1047.4" cy="1559.0" rx="3.2" ry="4.0"/>
<ellipse cx="1069.8" cy="1531.0" rx="3.2" ry="4.0"/>
<ellipse cx="1074.6" cy="1535.0" rx="3.2" ry="4.0"/>
<ellipse cx="1080.2" cy="1539.8" rx="3.2" ry="4.0"/>
<ellipse cx="1085.8" cy="1536.6" rx="3.2" ry="4.0"/>
<ellipse cx="1092.2" cy="1531.8" rx="3.2" ry="4.0"/>
<ellipse cx="1073.0" cy="1546.2" rx="3.2" ry="4.0"/>
<ellipse cx="1077.8" cy="1552.6" rx="3.2" ry="4.0"/>
<ellipse cx="1071.4" cy="1559.0" rx="3.2" ry="4.0"/>
<ellipse cx="1084.2" cy="1557.4" rx="3.2" ry="4.0"/>
<ellipse cx="1092.2" cy="1546.2" rx="3.2" ry="4.0"/>
<ellipse cx="1062.6" cy="1528.6" rx="3.2" ry="4.0"/>
<ellipse cx="1108.4" cy="1352.6" rx="3.2" ry="4.0"/>
<ellipse cx="1111.6" cy="1354.2" rx="3.2" ry="4.0"/>
<ellipse cx="1121.2" cy="1359.8" rx="3.2" ry="4.0"/>
<ellipse cx="1160.4" cy="1351.8" rx="3.2" ry="4.0"/>
<ellipse cx="1171.6" cy="1359.0" rx="3.2" ry="4.0"/>
<ellipse cx="1206.8" cy="1358.2" rx="3.2" ry="4.0"/>
<ellipse cx="1209.2" cy="1351.8" rx="3.2" ry="4.0"/>
<ellipse cx="1211.6" cy="1366.2" rx="3.2" ry="4.0"/>
<ellipse cx="1228.4" cy="1352.6" rx="3.2" ry="4.0"/>
<ellipse cx="1271.6" cy="1354.2" rx="3.2" ry="4.0"/>
<ellipse cx="1278.0" cy="1357.1" rx="3.2" ry="4.0"/>
<ellipse cx="1098.8" cy="1357.4" rx="3.2" ry="4.0"/>
<ellipse cx="1103.6" cy="1363.0" rx="3.2" ry="4.0"/>
<ellipse cx="1110.0" cy="1361.4" rx="3.2" ry="4.0"/>
<ellipse cx="1114.0" cy="1364.6" rx="3.2" ry="4.0"/>
<ellipse cx="1122.8" cy="1367.8" rx="3.2" ry="4.0"/>
<ellipse cx="1114.0" cy="1371.0" rx="3.2" ry="4.0"/>
<ellipse cx="1104.4" cy="1375.0" rx="3.2" ry="4.0"/>
<ellipse cx="1099.6" cy="1380.6" rx="3.2" ry="4.0"/>
<ellipse cx="1114.8" cy="1383.0" rx="3.2" ry="4.0"/>
<ellipse cx="1125.2" cy="1377.4" rx="3.2" ry="4.0"/>
<ellipse cx="1127.6" cy="1383.0" rx="3.2" ry="4.0"/>
<ellipse cx="1142.0" cy="1373.4" rx="3.2" ry="4.0"/>
<ellipse cx="1150.0" cy="1375.0" rx="3.2" ry="4.0"/>
<ellipse cx="1152.4" cy="1379.8" rx="3.2" ry="4.0"/>
<ellipse cx="1161.2" cy="1371.0" rx="3.2" ry="4.0"/>
<ellipse cx="1159.3" cy="1385.4" rx="3.2" ry="4.0"/>
<ellipse cx="1174.0" cy="1369.4" rx="3.2" ry="4.0"/>
<ellipse cx="1182.0" cy="1367.8" rx="3.2" ry="4.0"/>
<ellipse cx="1202.8" cy="1369.4" rx="3.2" ry="4.0"/>
<ellipse cx="1208.4" cy="1376.6" rx="3.2" ry="4.0"/>
<ellipse cx="1220.4" cy="1385.1" rx="3.2" ry="4.0"/>
<ellipse cx="1243.6" cy="1378.7" rx="3.2" ry="4.0"/>
<ellipse cx="1261.2" cy="1370.2" rx="3.2" ry="4.0"/>
<ellipse cx="1266.8" cy="1368.9" rx="3.2" ry="4.0"/>
<ellipse cx="1293.2" cy="1382.2" rx="3.2" ry="4.0"/>
<ellipse cx="1108.4" cy="1389.4" rx="3.2" ry="4.0"/>
<ellipse cx="1103.6" cy="1399.0" rx="3.2" ry="4.0"/>
<ellipse cx="1113.2" cy="1392.6" rx="3.2" ry="4.0"/>
<ellipse cx="1130.0" cy="1389.4" rx="3.2" ry="4.0"/>
<ellipse cx="1136.4" cy="1388.6" rx="3.2" ry="4.0"/>
<ellipse cx="1142.0" cy="1384.6" rx="3.2" ry="4.0"/>
<ellipse cx="1150.8" cy="1390.2" rx="3.2" ry="4.0"/>
<ellipse cx="1134.0" cy="1397.4" rx="3.2" ry="4.0"/>
<ellipse cx="1184.4" cy="1390.2" rx="3.2" ry="4.0"/>
<ellipse cx="1190.0" cy="1396.6" rx="3.2" ry="4.0"/>
<ellipse cx="1198.0" cy="1389.9" rx="3.2" ry="4.0"/>
<ellipse cx="1159.6" cy="1400.6" rx="3.2" ry="4.0"/>
<ellipse cx="1098.8" cy="1391.0" rx="3.2" ry="4.0"/>
<ellipse cx="1100.4" cy="1402.2" rx="3.2" ry="4.0"/>
<ellipse cx="1118.0" cy="1402.2" rx="3.2" ry="4.0"/>
<ellipse cx="1122.0" cy="1403.0" rx="3.2" ry="4.0"/>
<ellipse cx="1114.8" cy="1408.6" rx="3.2" ry="4.0"/>
<ellipse cx="1106.0" cy="1409.4" rx="3.2" ry="4.0"/>
<ellipse cx="1135.6" cy="1402.2" rx="3.2" ry="4.0"/>
<ellipse cx="1145.2" cy="1407.8" rx="3.2" ry="4.0"/>
<ellipse cx="1132.4" cy="1413.4" rx="3.2" ry="4.0"/>
<ellipse cx="1140.4" cy="1412.6" rx="3.2" ry="4.0"/>
<ellipse cx="1164.4" cy="1407.8" rx="3.2" ry="4.0"/>
<ellipse cx="1193.2" cy="1403.8" rx="3.2" ry="4.0"/>
<ellipse cx="1186.8" cy="1407.8" rx="3.2" ry="4.0"/>
<ellipse cx="1193.2" cy="1410.2" rx="3.2" ry="4.0"/>
<ellipse cx="1181.2" cy="1411.8" rx="3.2" ry="4.0"/>
<ellipse cx="1213.7" cy="1400.6" rx="3.2" ry="4.0"/>
<ellipse cx="1234.8" cy="1409.9" rx="3.2" ry="4.0"/>
<ellipse cx="1258.0" cy="1403.3" rx="3.2" ry="4.0"/>
<ellipse cx="1267.3" cy="1402.2" rx="3.2" ry="4.0"/>
<ellipse cx="1122.8" cy="1415.0" rx="3.2" ry="4.0"/>
<ellipse cx="1098.8" cy="1419.8" rx="3.2" ry="4.0"/>
<ellipse cx="1106.8" cy="1419.8" rx="3.2" ry="4.0"/>
<ellipse cx="1113.2" cy="1424.6" rx="3.2" ry="4.0"/>
<ellipse cx="1122.0" cy="1418.2" rx="3.2" ry="4.0"/>
<ellipse cx="1130.8" cy="1419.8" rx="3.2" ry="4.0"/>
<ellipse cx="1138.8" cy="1419.0" rx="3.2" ry="4.0"/>
<ellipse cx="1159.6" cy="1419.0" rx="3.2" ry="4.0"/>
<ellipse cx="1158.8" cy="1423.8" rx="3.2" ry="4.0"/>
<ellipse cx="1169.2" cy="1416.6" rx="3.2" ry="4.0"/>
<ellipse cx="1173.2" cy="1415.0" rx="3.2" ry="4.0"/>
<ellipse cx="1181.2" cy="1417.4" rx="3.2" ry="4.0"/>
<ellipse cx="1186.8" cy="1415.0" rx="3.2" ry="4.0"/>
<ellipse cx="1202.0" cy="1421.4" rx="3.2" ry="4.0"/>
<ellipse cx="1200.4" cy="1429.4" rx="3.2" ry="4.0"/>
<ellipse cx="1211.6" cy="1427.8" rx="3.2" ry="4.0"/>
<ellipse cx="1260.4" cy="1420.6" rx="3.2" ry="4.0"/>
<ellipse cx="1257.2" cy="1425.9" rx="3.2" ry="4.0"/>
<ellipse cx="1100.4" cy="1431.0" rx="3.2" ry="4.0"/>
<ellipse cx="1128.4" cy="1427.0" rx="3.2" ry="4.0"/>
<ellipse cx="1166.0" cy="1428.6" rx="3.2" ry="4.0"/>
<ellipse cx="1146.0" cy="1433.4" rx="3.2" ry="4.0"/>
<ellipse cx="1158.0" cy="1436.6" rx="3.2" ry="4.0"/>
<ellipse cx="1167.6" cy="1432.6" rx="3.2" ry="4.0"/>
<ellipse cx="1174.8" cy="1435.0" rx="3.2" ry="4.0"/>
<ellipse cx="1189.2" cy="1432.6" rx="3.2" ry="4.0"/>
<ellipse cx="1191.6" cy="1435.0" rx="3.2" ry="4.0"/>
<ellipse cx="1207.9" cy="1435.0" rx="3.2" ry="4.0"/>
<ellipse cx="1267.3" cy="1435.8" rx="3.2" ry="4.0"/>
<ellipse cx="1097.2" cy="1440.6" rx="3.2" ry="4.0"/>
<ellipse cx="1103.6" cy="1443.8" rx="3.2" ry="4.0"/>
<ellipse cx="1116.4" cy="1439.8" rx="3.2" ry="4.0"/>
<ellipse cx="1122.8" cy="1444.6" rx="3.2" ry="4.0"/>
<ellipse cx="1134.8" cy="1438.2" rx="3.2" ry="4.0"/>
<ellipse cx="1142.0" cy="1442.2" rx="3.2" ry="4.0"/>
<ellipse cx="1148.4" cy="1443.8" rx="3.2" ry="4.0"/>
<ellipse cx="1160.4" cy="1443.8" rx="3.2" ry="4.0"/>
<ellipse cx="1170.0" cy="1446.2" rx="3.2" ry="4.0"/>
<ellipse cx="1175.6" cy="1444.6" rx="3.2" ry="4.0"/>
<ellipse cx="1184.4" cy="1448.6" rx="3.2" ry="4.0"/>
<ellipse cx="1194.0" cy="1442.2" rx="3.2" ry="4.0"/>
<ellipse cx="1235.6" cy="1441.1" rx="3.2" ry="4.0"/>
<ellipse cx="1225.2" cy="1443.0" rx="3.2" ry="4.0"/>
<ellipse cx="1228.4" cy="1447.0" rx="3.2" ry="4.0"/>
<ellipse cx="1242.8" cy="1446.7" rx="3.2" ry="4.0"/>
<ellipse cx="1110.0" cy="1451.0" rx="3.2" ry="4.0"/>
<ellipse cx="1119.6" cy="1450.2" rx="3.2" ry="4.0"/>
<ellipse cx="1126.0" cy="1451.8" rx="3.2" ry="4.0"/>
<ellipse cx="1132.4" cy="1447.0" rx="3.2" ry="4.0"/>
<ellipse cx="1142.0" cy="1448.6" rx="3.2" ry="4.0"/>
<ellipse cx="1154.0" cy="1449.4" rx="3.2" ry="4.0"/>
<ellipse cx="1159.6" cy="1450.2" rx="3.2" ry="4.0"/>
<ellipse cx="1170.8" cy="1451.8" rx="3.2" ry="4.0"/>
<ellipse cx="1185.2" cy="1454.2" rx="3.2" ry="4.0"/>
<ellipse cx="1199.6" cy="1452.6" rx="3.2" ry="4.0"/>
<ellipse cx="1218.5" cy="1449.1" rx="3.2" ry="4.0"/>
<ellipse cx="1238.0" cy="1450.2" rx="3.2" ry="4.0"/>
<ellipse cx="1252.4" cy="1455.8" rx="3.2" ry="4.0"/>
<ellipse cx="1259.6" cy="1455.5" rx="3.2" ry="4.0"/>
<ellipse cx="1098.8" cy="1460.6" rx="3.2" ry="4.0"/>
<ellipse cx="1108.4" cy="1456.6" rx="3.2" ry="4.0"/>
<ellipse cx="1115.6" cy="1459.0" rx="3.2" ry="4.0"/>
<ellipse cx="1124.4" cy="1456.6" rx="3.2" ry="4.0"/>
<ellipse cx="1134.8" cy="1456.6" rx="3.2" ry="4.0"/>
<ellipse cx="1142.0" cy="1459.8" rx="3.2" ry="4.0"/>
<ellipse cx="1148.4" cy="1455.0" rx="3.2" ry="4.0"/>
<ellipse cx="1158.0" cy="1459.8" rx="3.2" ry="4.0"/>
<ellipse cx="1167.9" cy="1460.6" rx="3.2" ry="4.0"/>
<ellipse cx="1175.6" cy="1465.4" rx="3.2" ry="4.0"/>
<ellipse cx="1181.2" cy="1464.6" rx="3.2" ry="4.0"/>
<ellipse cx="1194.0" cy="1461.4" rx="3.2" ry="4.0"/>
<ellipse cx="1222.8" cy="1461.4" rx="3.2" ry="4.0"/>
<ellipse cx="1226.0" cy="1459.8" rx="3.2" ry="4.0"/>
<ellipse cx="1237.2" cy="1461.4" rx="3.2" ry="4.0"/>
<ellipse cx="1234.8" cy="1467.0" rx="3.2" ry="4.0"/>
<ellipse cx="1105.2" cy="1465.4" rx="3.2" ry="4.0"/>
<ellipse cx="1111.6" cy="1471.0" rx="3.2" ry="4.0"/>
<ellipse cx="1121.2" cy="1466.2" rx="3.2" ry="4.0"/>
<ellipse cx="1129.2" cy="1472.6" rx="3.2" ry="4.0"/>
<ellipse cx="1134.0" cy="1469.4" rx="3.2" ry="4.0"/>
<ellipse cx="1140.4" cy="1471.0" rx="3.2" ry="4.0"/>
<ellipse cx="1148.4" cy="1467.8" rx="3.2" ry="4.0"/>
<ellipse cx="1146.8" cy="1477.4" rx="3.2" ry="4.0"/>
<ellipse cx="1161.2" cy="1463.8" rx="3.2" ry="4.0"/>
<ellipse cx="1194.8" cy="1464.6" rx="3.2" ry="4.0"/>
<ellipse cx="1207.6" cy="1468.6" rx="3.2" ry="4.0"/>
<ellipse cx="1212.4" cy="1467.8" rx="3.2" ry="4.0"/>
<ellipse cx="1243.6" cy="1470.7" rx="3.2" ry="4.0"/>
<ellipse cx="1124.4" cy="1475.8" rx="3.2" ry="4.0"/>
<ellipse cx="1113.2" cy="1477.4" rx="3.2" ry="4.0"/>
<ellipse cx="1165.2" cy="1475.8" rx="3.2" ry="4.0"/>
<ellipse cx="1170.0" cy="1475.0" rx="3.2" ry="4.0"/>
<ellipse cx="1187.6" cy="1477.4" rx="3.2" ry="4.0"/>
<ellipse cx="1194.0" cy="1479.8" rx="3.2" ry="4.0"/>
<ellipse cx="1206.0" cy="1479.0" rx="3.2" ry="4.0"/>
<ellipse cx="1212.7" cy="1478.5" rx="3.2" ry="4.0"/>
<ellipse cx="1097.2" cy="1482.2" rx="3.2" ry="4.0"/>
<ellipse cx="1103.6" cy="1488.6" rx="3.2" ry="4.0"/>
<ellipse cx="1107.6" cy="1493.4" rx="3.2" ry="4.0"/>
<ellipse cx="1113.2" cy="1485.4" rx="3.2" ry="4.0"/>
<ellipse cx="1122.8" cy="1482.2" rx="3.2" ry="4.0"/>
<ellipse cx="1130.8" cy="1490.2" rx="3.2" ry="4.0"/>
<ellipse cx="1140.4" cy="1491.0" rx="3.2" ry="4.0"/>
<ellipse cx="1138.8" cy="1483.8" rx="3.2" ry="4.0"/>
<ellipse cx="1147.6" cy="1484.6" rx="3.2" ry="4.0"/>
<ellipse cx="1157.2" cy="1481.4" rx="3.2" ry="4.0"/>
<ellipse cx="1162.8" cy="1483.8" rx="3.2" ry="4.0"/>
<ellipse cx="1168.4" cy="1487.0" rx="3.2" ry="4.0"/>
<ellipse cx="1172.4" cy="1482.2" rx="3.2" ry="4.0"/>
<ellipse cx="1177.2" cy="1487.0" rx="3.2" ry="4.0"/>
<ellipse cx="1185.2" cy="1491.8" rx="3.2" ry="4.0"/>
<ellipse cx="1190.0" cy="1495.0" rx="3.2" ry="4.0"/>
<ellipse cx="1198.0" cy="1491.8" rx="3.2" ry="4.0"/>
<ellipse cx="1204.4" cy="1490.2" rx="3.2" ry="4.0"/>
<ellipse cx="1218.0" cy="1484.6" rx="3.2" ry="4.0"/>
<ellipse cx="1226.0" cy="1485.4" rx="3.2" ry="4.0"/>
<ellipse cx="1229.7" cy="1490.2" rx="3.2" ry="4.0"/>
<ellipse cx="1249.2" cy="1491.3" rx="3.2" ry="4.0"/>
<ellipse cx="1275.9" cy="1492.9" rx="3.2" ry="4.0"/>
<ellipse cx="1119.6" cy="1491.8" rx="3.2" ry="4.0"/>
<ellipse cx="1167.6" cy="1491.8" rx="3.2" ry="4.0"/>
<ellipse cx="1097.2" cy="1506.2" rx="3.2" ry="4.0"/>
<ellipse cx="1100.4" cy="1511.0" rx="3.2" ry="4.0"/>
<ellipse cx="1113.2" cy="1504.6" rx="3.2" ry="4.0"/>
<ellipse cx="1118.8" cy="1496.6" rx="3.2" ry="4.0"/>
<ellipse cx="1122.0" cy="1504.6" rx="3.2" ry="4.0"/>
<ellipse cx="1127.6" cy="1511.0" rx="3.2" ry="4.0"/>
<ellipse cx="1139.6" cy="1504.6" rx="3.2" ry="4.0"/>
<ellipse cx="1146.8" cy="1498.2" rx="3.2" ry="4.0"/>
<ellipse cx="1152.4" cy="1497.4" rx="3.2" ry="4.0"/>
<ellipse cx="1158.0" cy="1509.4" rx="3.2" ry="4.0"/>
<ellipse cx="1164.4" cy="1504.6" rx="3.2" ry="4.0"/>
<ellipse cx="1172.4" cy="1501.1" rx="3.2" ry="4.0"/>
<ellipse cx="1186.8" cy="1508.6" rx="3.2" ry="4.0"/>
<ellipse cx="1193.2" cy="1500.6" rx="3.2" ry="4.0"/>
<ellipse cx="1204.4" cy="1507.8" rx="3.2" ry="4.0"/>
<ellipse cx="1218.5" cy="1511.5" rx="3.2" ry="4.0"/>
<ellipse cx="1174.8" cy="1510.7" rx="3.2" ry="4.0"/>
<ellipse cx="1113.2" cy="1511.0" rx="3.2" ry="4.0"/>
<ellipse cx="1108.4" cy="1518.2" rx="3.2" ry="4.0"/>
<ellipse cx="1116.4" cy="1523.8" rx="3.2" ry="4.0"/>
<ellipse cx="1125.2" cy="1519.8" rx="3.2" ry="4.0"/>
<ellipse cx="1136.4" cy="1518.2" rx="3.2" ry="4.0"/>
<ellipse cx="1143.6" cy="1515.0" rx="3.2" ry="4.0"/>
<ellipse cx="1150.8" cy="1512.6" rx="3.2" ry="4.0"/>
<ellipse cx="1161.2" cy="1519.0" rx="3.2" ry="4.0"/>
<ellipse cx="1162.8" cy="1527.0" rx="3.2" ry="4.0"/>
<ellipse cx="1174.0" cy="1523.8" rx="3.2" ry="4.0"/>
<ellipse cx="1179.6" cy="1519.8" rx="3.2" ry="4.0"/>
<ellipse cx="1207.6" cy="1517.4" rx="3.2" ry="4.0"/>
<ellipse cx="1202.8" cy="1525.4" rx="3.2" ry="4.0"/>
<ellipse cx="1212.4" cy="1527.0" rx="3.2" ry="4.0"/>
<ellipse cx="1231.6" cy="1524.6" rx="3.2" ry="4.0"/>
<ellipse cx="1292.4" cy="1527.0" rx="3.2" ry="4.0"/>
<ellipse cx="1097.2" cy="1523.8" rx="3.2" ry="4.0"/>
<ellipse cx="1098.8" cy="1531.8" rx="3.2" ry="4.0"/>
<ellipse cx="1103.6" cy="1539.0" rx="3.2" ry="4.0"/>
<ellipse cx="1114.0" cy="1538.2" rx="3.2" ry="4.0"/>
<ellipse cx="1110.0" cy="1530.2" rx="3.2" ry="4.0"/>
<ellipse cx="1125.2" cy="1537.4" rx="3.2" ry="4.0"/>
<ellipse cx="1132.4" cy="1543.8" rx="3.2" ry="4.0"/>
<ellipse cx="1142.0" cy="1535.0" rx="3.2" ry="4.0"/>
<ellipse cx="1148.4" cy="1533.4" rx="3.2" ry="4.0"/>
<ellipse cx="1145.2" cy="1541.4" rx="3.2" ry="4.0"/>
<ellipse cx="1153.2" cy="1547.8" rx="3.2" ry="4.0"/>
<ellipse cx="1161.2" cy="1540.6" rx="3.2" ry="4.0"/>
<ellipse cx="1166.8" cy="1537.4" rx="3.2" ry="4.0"/>
<ellipse cx="1173.2" cy="1532.6" rx="3.2" ry="4.0"/>
<ellipse cx="1181.2" cy="1532.6" rx="3.2" ry="4.0"/>
<ellipse cx="1186.0" cy="1530.2" rx="3.2" ry="4.0"/>
<ellipse cx="1192.4" cy="1531.0" rx="3.2" ry="4.0"/>
<ellipse cx="1191.9" cy="1537.4" rx="3.2" ry="4.0"/>
<ellipse cx="1202.8" cy="1532.6" rx="3.2" ry="4.0"/>
<ellipse cx="1209.2" cy="1533.4" rx="3.2" ry="4.0"/>
<ellipse cx="1215.1" cy="1539.0" rx="3.2" ry="4.0"/>
<ellipse cx="1231.3" cy="1537.1" rx="3.2" ry="4.0"/>
<ellipse cx="1278.3" cy="1541.4" rx="3.2" ry="4.0"/>
<ellipse cx="1182.0" cy="1544.6" rx="3.2" ry="4.0"/>
<ellipse cx="1187.3" cy="1545.4" rx="3.2" ry="4.0"/>
<ellipse cx="1197.7" cy="1551.0" rx="3.2" ry="4.0"/>
<ellipse cx="1186.8" cy="1555.0" rx="3.2" ry="4.0"/>
<ellipse cx="1174.8" cy="1551.8" rx="3.2" ry="4.0"/>
<ellipse cx="1167.6" cy="1551.0" rx="3.2" ry="4.0"/>
<ellipse cx="1162.0" cy="1552.6" rx="3.2" ry="4.0"/>
<ellipse cx="1154.0" cy="1551.0" rx="3.2" ry="4.0"/>
<ellipse cx="1146.8" cy="1551.0" rx="3.2" ry="4.0"/>
<ellipse cx="1137.2" cy="1555.0" rx="3.2" ry="4.0"/>
<ellipse cx="1129.2" cy="1557.4" rx="3.2" ry="4.0"/>
<ellipse cx="1108.4" cy="1554.2" rx="3.2" ry="4.0"/>
<ellipse cx="1102.0" cy="1555.8" rx="3.2" ry="4.0"/>
<ellipse cx="1142.0" cy="1560.6" rx="3.2" ry="4.0"/>
<ellipse cx="1150.0" cy="1560.6" rx="3.2" ry="4.0"/>
<ellipse cx="1163.6" cy="1559.0" rx="3.2" ry="4.0"/>
<ellipse cx="1170.0" cy="1560.6" rx="3.2" ry="4.0"/>
<ellipse cx="1178.0" cy="1561.4" rx="3.2" ry="4.0"/>
<ellipse cx="1206.8" cy="1559.0" rx="3.2" ry="4.0"/>
<ellipse cx="1232.4" cy="1557.4" rx="3.2" ry="4.0"/>
<ellipse cx="1361.9" cy="1403.1" rx="3.2" ry="4.0"/>
<ellipse cx="1388.1" cy="1471.1" rx="3.2" ry="4.0"/>
<ellipse cx="950.6" cy="1572.9" rx="3.2" ry="4.0"/>
<ellipse cx="981.8" cy="1579.3" rx="3.2" ry="4.0"/>
<ellipse cx="914.1" cy="1597.4" rx="3.2" ry="4.0"/>
<ellipse cx="927.9" cy="1598.5" rx="3.2" ry="4.0"/>
<ellipse cx="961.3" cy="1595.8" rx="3.2" ry="4.0"/>
<ellipse cx="1035.9" cy="1574.2" rx="3.2" ry="4.0"/>
<ellipse cx="1029.8" cy="1579.8" rx="3.2" ry="4.0"/>
<ellipse cx="1040.7" cy="1588.6" rx="3.2" ry="4.0"/>
<ellipse cx="1063.4" cy="1570.2" rx="3.2" ry="4.0"/>
<ellipse cx="1063.8" cy="1579.5" rx="3.2" ry="4.0"/>
<ellipse cx="1078.6" cy="1570.5" rx="3.2" ry="4.0"/>
<ellipse cx="1074.3" cy="1576.9" rx="3.2" ry="4.0"/>
<ellipse cx="1087.4" cy="1567.0" rx="3.2" ry="4.0"/>
<ellipse cx="1090.6" cy="1584.9" rx="3.2" ry="4.0"/>
<ellipse cx="1062.2" cy="1595.8" rx="3.2" ry="4.0"/>
<ellipse cx="1080.2" cy="1591.8" rx="3.2" ry="4.0"/>
<ellipse cx="1079.8" cy="1597.4" rx="3.2" ry="4.0"/>
<ellipse cx="1069.5" cy="1603.3" rx="3.2" ry="4.0"/>
<ellipse cx="1093.0" cy="1601.7" rx="3.2" ry="4.0"/>
<ellipse cx="1045.8" cy="1565.4" rx="3.2" ry="4.0"/>
<ellipse cx="1057.8" cy="1566.2" rx="3.2" ry="4.0"/>
<ellipse cx="1099.6" cy="1574.2" rx="3.2" ry="4.0"/>
<ellipse cx="1105.2" cy="1583.8" rx="3.2" ry="4.0"/>
<ellipse cx="1119.6" cy="1574.2" rx="3.2" ry="4.0"/>
<ellipse cx="1126.0" cy="1572.6" rx="3.2" ry="4.0"/>
<ellipse cx="1132.4" cy="1574.2" rx="3.2" ry="4.0"/>
<ellipse cx="1135.6" cy="1572.6" rx="3.2" ry="4.0"/>
<ellipse cx="1135.6" cy="1577.4" rx="3.2" ry="4.0"/>
<ellipse cx="1129.2" cy="1579.8" rx="3.2" ry="4.0"/>
<ellipse cx="1124.4" cy="1588.6" rx="3.2" ry="4.0"/>
<ellipse cx="1139.6" cy="1591.8" rx="3.2" ry="4.0"/>
<ellipse cx="1142.0" cy="1597.9" rx="3.2" ry="4.0"/>
<ellipse cx="1148.4" cy="1567.0" rx="3.2" ry="4.0"/>
<ellipse cx="1159.6" cy="1572.6" rx="3.2" ry="4.0"/>
<ellipse cx="1165.5" cy="1578.7" rx="3.2" ry="4.0"/>
<ellipse cx="1173.5" cy="1578.7" rx="3.2" ry="4.0"/>
<ellipse cx="1166.8" cy="1596.6" rx="3.2" ry="4.0"/>
<ellipse cx="1171.6" cy="1592.6" rx="3.2" ry="4.0"/>
<ellipse cx="1169.2" cy="1565.4" rx="3.2" ry="4.0"/>
<ellipse cx="1178.0" cy="1564.6" rx="3.2" ry="4.0"/>
<ellipse cx="1194.0" cy="1569.4" rx="3.2" ry="4.0"/>
<ellipse cx="1200.9" cy="1581.9" rx="3.2" ry="4.0"/>
<ellipse cx="1197.2" cy="1586.2" rx="3.2" ry="4.0"/>
<ellipse cx="1219.6" cy="1567.5" rx="3.2" ry="4.0"/>
<ellipse cx="1227.6" cy="1573.7" rx="3.2" ry="4.0"/>
<ellipse cx="1225.5" cy="1584.9" rx="3.2" ry="4.0"/>
<ellipse cx="1243.1" cy="1587.0" rx="3.2" ry="4.0"/>
<ellipse cx="1252.7" cy="1584.9" rx="3.2" ry="4.0"/>
<ellipse cx="1212.9" cy="1613.1" rx="3.2" ry="4.0"/>
<ellipse cx="1096.4" cy="1570.2" rx="3.2" ry="4.0"/>
<ellipse cx="1040.5" cy="1432.9" rx="3.2" ry="4.0"/>
<ellipse cx="1143.4" cy="1472.6" rx="3.2" ry="4.0"/>
<ellipse cx="1022.3" cy="1526.7" rx="3.2" ry="4.0"/>
<ellipse cx="1078.2" cy="1492.6" rx="3.2" ry="4.0"/>
<ellipse cx="1054.6" cy="1509.9" rx="3.2" ry="4.0"/>
<ellipse cx="1030.0" cy="1387.5" rx="3.2" ry="4.0"/>
<ellipse cx="1169.3" cy="1415.2" rx="3.2" ry="4.0"/>
<ellipse cx="1007.7" cy="1503.6" rx="3.2" ry="4.0"/>
<ellipse cx="981.9" cy="1502.4" rx="3.2" ry="4.0"/>
<ellipse cx="1070.6" cy="1502.0" rx="3.2" ry="4.0"/>
<ellipse cx="1149.8" cy="1498.7" rx="3.2" ry="4.0"/>
<ellipse cx="1080.9" cy="1511.4" rx="3.2" ry="4.0"/>
<ellipse cx="1045.5" cy="1388.1" rx="3.2" ry="4.0"/>
<ellipse cx="1121.0" cy="1551.4" rx="3.2" ry="4.0"/>
<ellipse cx="1047.4" cy="1542.1" rx="3.2" ry="4.0"/>
<ellipse cx="1078.6" cy="1477.7" rx="3.2" ry="4.0"/>
<ellipse cx="1059.1" cy="1403.4" rx="3.2" ry="4.0"/>
<ellipse cx="1180.2" cy="1511.7" rx="3.2" ry="4.0"/>
<ellipse cx="1037.7" cy="1477.4" rx="3.2" ry="4.0"/>
<ellipse cx="1081.4" cy="1410.5" rx="3.2" ry="4.0"/>
<ellipse cx="1066.9" cy="1471.3" rx="3.2" ry="4.0"/>
<ellipse cx="1155.2" cy="1535.9" rx="3.2" ry="4.0"/>
<ellipse cx="1050.8" cy="1496.6" rx="3.2" ry="4.0"/>
<ellipse cx="1028.2" cy="1465.0" rx="3.2" ry="4.0"/>
<ellipse cx="1032.8" cy="1437.8" rx="3.2" ry="4.0"/>
<ellipse cx="1000.9" cy="1480.4" rx="3.2" ry="4.0"/>
<ellipse cx="1102.7" cy="1414.5" rx="3.2" ry="4.0"/>
<ellipse cx="1108.0" cy="1462.1" rx="3.2" ry="4.0"/>
<ellipse cx="1032.7" cy="1446.1" rx="3.2" ry="4.0"/>
<ellipse cx="1036.6" cy="1461.5" rx="3.2" ry="4.0"/>
<ellipse cx="1091.7" cy="1482.9" rx="3.2" ry="4.0"/>
<ellipse cx="1036.1" cy="1496.9" rx="3.2" ry="4.0"/>
<ellipse cx="1003.7" cy="1464.1" rx="3.2" ry="4.0"/>
<ellipse cx="1172.6" cy="1467.6" rx="3.2" ry="4.0"/>
<ellipse cx="1042.4" cy="1520.9" rx="3.2" ry="4.0"/>
<ellipse cx="1155.7" cy="1518.9" rx="3.2" ry="4.0"/>
<ellipse cx="1020.7" cy="1464.9" rx="3.2" ry="4.0"/>
<ellipse cx="1069.7" cy="1448.7" rx="3.2" ry="4.0"/>
<ellipse cx="1014.2" cy="1513.2" rx="3.2" ry="4.0"/>
<ellipse cx="1105.9" cy="1403.4" rx="3.2" ry="4.0"/>
<ellipse cx="1034.0" cy="1430.8" rx="3.2" ry="4.0"/>
<ellipse cx="1022.5" cy="1486.3" rx="3.2" ry="4.0"/>
<ellipse cx="1052.5" cy="1398.0" rx="3.2" ry="4.0"/>
<ellipse cx="1067.7" cy="1395.2" rx="3.2" ry="4.0"/>
<ellipse cx="1168.6" cy="1437.5" rx="3.2" ry="4.0"/>
<ellipse cx="1086.5" cy="1490.1" rx="3.2" ry="4.0"/>
<ellipse cx="1075.4" cy="1510.7" rx="3.2" ry="4.0"/>
<ellipse cx="1027.8" cy="1495.6" rx="3.2" ry="4.0"/>
<ellipse cx="1195.2" cy="1539.1" rx="3.2" ry="4.0"/>
<ellipse cx="1058.9" cy="1537.0" rx="3.2" ry="4.0"/>
<ellipse cx="1108.5" cy="1442.1" rx="3.2" ry="4.0"/>
<ellipse cx="1014.4" cy="1497.4" rx="3.2" ry="4.0"/>
<ellipse cx="1152.6" cy="1461.0" rx="3.2" ry="4.0"/>
<ellipse cx="974.8" cy="1499.3" rx="3.2" ry="4.0"/>
<ellipse cx="1089.3" cy="1471.1" rx="3.2" ry="4.0"/>
<ellipse cx="1153.7" cy="1557.6" rx="3.2" ry="4.0"/>
<ellipse cx="1058.7" cy="1419.9" rx="3.2" ry="4.0"/>
<ellipse cx="1018.6" cy="1436.9" rx="3.2" ry="4.0"/>
<ellipse cx="1150.0" cy="1442.4" rx="3.2" ry="4.0"/>
<ellipse cx="1041.2" cy="1453.0" rx="3.2" ry="4.0"/>
<ellipse cx="1092.2" cy="1524.2" rx="3.2" ry="4.0"/>
<ellipse cx="1079.0" cy="1457.8" rx="3.2" ry="4.0"/>
<ellipse cx="1159.6" cy="1415.1" rx="3.2" ry="4.0"/>
<ellipse cx="1074.4" cy="1458.3" rx="3.2" ry="4.0"/>
<ellipse cx="1058.9" cy="1481.6" rx="3.2" ry="4.0"/>
<ellipse cx="1025.6" cy="1479.6" rx="3.2" ry="4.0"/>
<ellipse cx="1077.0" cy="1410.5" rx="3.2" ry="4.0"/>
<ellipse cx="1178.4" cy="1476.1" rx="3.2" ry="4.0"/>
<ellipse cx="1097.3" cy="1540.5" rx="3.2" ry="4.0"/>
<ellipse cx="1028.1" cy="1406.0" rx="3.2" ry="4.0"/>
<ellipse cx="1144.3" cy="1370.8" rx="3.2" ry="4.0"/>
<ellipse cx="1059.4" cy="1491.3" rx="3.2" ry="4.0"/>
<ellipse cx="1136.9" cy="1443.7" rx="3.2" ry="4.0"/>
<ellipse cx="1075.0" cy="1515.5" rx="3.2" ry="4.0"/>
<ellipse cx="1015.3" cy="1496.2" rx="3.2" ry="4.0"/>
<ellipse cx="1117.3" cy="1438.9" rx="3.2" ry="4.0"/>
<ellipse cx="1154.1" cy="1542.4" rx="3.2" ry="4.0"/>
<ellipse cx="1042.7" cy="1525.9" rx="3.2" ry="4.0"/>
<ellipse cx="1116.8" cy="1520.6" rx="3.2" ry="4.0"/>
<ellipse cx="1140.5" cy="1443.5" rx="3.2" ry="4.0"/>
<ellipse cx="1056.1" cy="1465.0" rx="3.2" ry="4.0"/>
<ellipse cx="1094.4" cy="1500.7" rx="3.2" ry="4.0"/>
<ellipse cx="1131.1" cy="1399.1" rx="3.2" ry="4.0"/>
<ellipse cx="1193.4" cy="1504.6" rx="3.2" ry="4.0"/>
<ellipse cx="1064.2" cy="1482.0" rx="3.2" ry="4.0"/>
<ellipse cx="1168.0" cy="1458.0" rx="3.2" ry="4.0"/>
<ellipse cx="1106.5" cy="1464.4" rx="3.2" ry="4.0"/>
<ellipse cx="1092.1" cy="1564.4" rx="3.2" ry="4.0"/>
<ellipse cx="1027.3" cy="1424.7" rx="3.2" ry="4.0"/>
<ellipse cx="1139.4" cy="1521.0" rx="3.2" ry="4.0"/>
<ellipse cx="1164.6" cy="1463.6" rx="3.2" ry="4.0"/>
<ellipse cx="1182.1" cy="1478.4" rx="3.2" ry="4.0"/>
<ellipse cx="1057.5" cy="1377.1" rx="3.2" ry="4.0"/>
<ellipse cx="1148.8" cy="1460.0" rx="3.2" ry="4.0"/>
<ellipse cx="1105.9" cy="1474.1" rx="3.2" ry="4.0"/>
<ellipse cx="1102.8" cy="1516.3" rx="3.2" ry="4.0"/>
<ellipse cx="959.3" cy="1440.9" rx="3.2" ry="4.0"/>
<ellipse cx="997.3" cy="1499.7" rx="3.2" ry="4.0"/>
<ellipse cx="1042.9" cy="1430.9" rx="3.2" ry="4.0"/>
<ellipse cx="1027.6" cy="1434.0" rx="3.2" ry="4.0"/>
<ellipse cx="1173.2" cy="1466.1" rx="3.2" ry="4.0"/>
<ellipse cx="1090.3" cy="1470.2" rx="3.2" ry="4.0"/>
<ellipse cx="1031.4" cy="1490.5" rx="3.2" ry="4.0"/>
<ellipse cx="1114.0" cy="1552.3" rx="3.2" ry="4.0"/>
<ellipse cx="1063.8" cy="1505.9" rx="3.2" ry="4.0"/>
<ellipse cx="1105.0" cy="1432.4" rx="3.2" ry="4.0"/>
<ellipse cx="1056.6" cy="1432.6" rx="3.2" ry="4.0"/>
<ellipse cx="1053.6" cy="1494.0" rx="3.2" ry="4.0"/>
<ellipse cx="1053.1" cy="1496.3" rx="3.2" ry="4.0"/>
<ellipse cx="1053.7" cy="1445.9" rx="3.2" ry="4.0"/>
<ellipse cx="1061.0" cy="1450.8" rx="3.2" ry="4.0"/>
<ellipse cx="1028.8" cy="1468.9" rx="3.2" ry="4.0"/>
<ellipse cx="1043.4" cy="1435.9" rx="3.2" ry="4.0"/>
<ellipse cx="1029.2" cy="1442.1" rx="3.2" ry="4.0"/>
<ellipse cx="1038.8" cy="1462.9" rx="3.2" ry="4.0"/>
<ellipse cx="1072.1" cy="1470.6" rx="3.2" ry="4.0"/>
<ellipse cx="1061.9" cy="1458.4" rx="3.2" ry="4.0"/>
<ellipse cx="1066.2" cy="1403.7" rx="3.2" ry="4.0"/>
<ellipse cx="1072.6" cy="1454.9" rx="3.2" ry="4.0"/>
<ellipse cx="1078.6" cy="1475.6" rx="3.2" ry="4.0"/>
<ellipse cx="1077.3" cy="1575.0" rx="3.2" ry="4.0"/>
<ellipse cx="1093.9" cy="1408.4" rx="3.2" ry="4.0"/>
<ellipse cx="1132.4" cy="1541.6" rx="3.2" ry="4.0"/>
<ellipse cx="1111.3" cy="1469.5" rx="3.2" ry="4.0"/>
<ellipse cx="1061.7" cy="1377.9" rx="3.2" ry="4.0"/>
<ellipse cx="1192.4" cy="1450.7" rx="3.2" ry="4.0"/>
<ellipse cx="1073.1" cy="1531.6" rx="3.2" ry="4.0"/>
<ellipse cx="1084.0" cy="1437.3" rx="3.2" ry="4.0"/>
<ellipse cx="1046.0" cy="1444.6" rx="3.2" ry="4.0"/>
<ellipse cx="1168.2" cy="1443.2" rx="3.2" ry="4.0"/>
<ellipse cx="1174.0" cy="1534.7" rx="3.2" ry="4.0"/>
<ellipse cx="1057.5" cy="1514.8" rx="3.2" ry="4.0"/>
<ellipse cx="1045.4" cy="1473.3" rx="3.2" ry="4.0"/>
<ellipse cx="1037.4" cy="1417.0" rx="3.2" ry="4.0"/>
<ellipse cx="1135.0" cy="1471.9" rx="3.2" ry="4.0"/>
<ellipse cx="1012.5" cy="1448.1" rx="3.2" ry="4.0"/>
<ellipse cx="1013.0" cy="1502.5" rx="3.2" ry="4.0"/>
<ellipse cx="1050.3" cy="1502.4" rx="3.2" ry="4.0"/>
<ellipse cx="1035.2" cy="1429.9" rx="3.2" ry="4.0"/>
<ellipse cx="1070.4" cy="1401.5" rx="3.2" ry="4.0"/>
<ellipse cx="1136.7" cy="1452.5" rx="3.2" ry="4.0"/>
<ellipse cx="1079.7" cy="1471.0" rx="3.2" ry="4.0"/>
<ellipse cx="1018.7" cy="1483.8" rx="3.2" ry="4.0"/>
<ellipse cx="1082.5" cy="1519.8" rx="3.2" ry="4.0"/>
<ellipse cx="992.4" cy="1481.1" rx="3.2" ry="4.0"/>
<ellipse cx="1046.2" cy="1496.2" rx="3.2" ry="4.0"/>
<ellipse cx="1062.2" cy="1436.3" rx="3.2" ry="4.0"/>
<ellipse cx="993.6" cy="1398.1" rx="3.2" ry="4.0"/>
<ellipse cx="1045.7" cy="1540.2" rx="3.2" ry="4.0"/>
<ellipse cx="1052.2" cy="1461.0" rx="3.2" ry="4.0"/>
<ellipse cx="1152.1" cy="1406.8" rx="3.2" ry="4.0"/>
<ellipse cx="1071.0" cy="1427.7" rx="3.2" ry="4.0"/>
<ellipse cx="1063.2" cy="1402.4" rx="3.2" ry="4.0"/>
<ellipse cx="1086.8" cy="1435.4" rx="3.2" ry="4.0"/>
<ellipse cx="1087.3" cy="1429.4" rx="3.2" ry="4.0"/>
<ellipse cx="1081.9" cy="1503.0" rx="3.2" ry="4.0"/>
<ellipse cx="1041.8" cy="1420.0" rx="3.2" ry="4.0"/>
<ellipse cx="1101.9" cy="1466.6" rx="3.2" ry="4.0"/>
<ellipse cx="1008.7" cy="1492.7" rx="3.2" ry="4.0"/>
<ellipse cx="1173.6" cy="1535.0" rx="3.2" ry="4.0"/>
<ellipse cx="1074.8" cy="1486.4" rx="3.2" ry="4.0"/>
<ellipse cx="1071.9" cy="1513.2" rx="3.2" ry="4.0"/>
<ellipse cx="1072.2" cy="1513.8" rx="3.2" ry="4.0"/>
<ellipse cx="1047.5" cy="1535.4" rx="3.2" ry="4.0"/>
<ellipse cx="1108.4" cy="1450.3" rx="3.2" ry="4.0"/>
<ellipse cx="1084.8" cy="1495.3" rx="3.2" ry="4.0"/>
<ellipse cx="1049.6" cy="1468.8" rx="3.2" ry="4.0"/>
<ellipse cx="1126.6" cy="1414.8" rx="3.2" ry="4.0"/>
<ellipse cx="1086.0" cy="1406.7" rx="3.2" ry="4.0"/>
<ellipse cx="983.0" cy="1437.0" rx="3.2" ry="4.0"/>
<ellipse cx="1123.0" cy="1411.3" rx="3.2" ry="4.0"/>
<ellipse cx="1159.1" cy="1509.9" rx="3.2" ry="4.0"/>
<ellipse cx="1042.0" cy="1424.2" rx="3.2" ry="4.0"/>
<ellipse cx="1052.5" cy="1551.9" rx="3.2" ry="4.0"/>
<ellipse cx="1012.4" cy="1519.8" rx="3.2" ry="4.0"/>
<ellipse cx="1013.7" cy="1499.2" rx="3.2" ry="4.0"/>
<ellipse cx="1114.4" cy="1432.0" rx="3.2" ry="4.0"/>
<ellipse cx="1085.7" cy="1440.8" rx="3.2" ry="4.0"/>
<ellipse cx="1060.5" cy="1468.4" rx="3.2" ry="4.0"/>
<ellipse cx="1087.9" cy="1509.7" rx="3.2" ry="4.0"/>
<ellipse cx="1122.3" cy="1553.9" rx="3.2" ry="4.0"/>
<ellipse cx="1166.3" cy="1535.6" rx="3.2" ry="4.0"/>
<ellipse cx="1212.5" cy="1484.3" rx="3.2" ry="4.0"/>
<ellipse cx="1187.1" cy="1438.1" rx="3.2" ry="4.0"/>
<ellipse cx="1095.8" cy="1485.4" rx="3.2" ry="4.0"/>
<ellipse cx="993.7" cy="1443.7" rx="3.2" ry="4.0"/>
<ellipse cx="1167.3" cy="1443.7" rx="3.2" ry="4.0"/>
<ellipse cx="1036.9" cy="1446.8" rx="3.2" ry="4.0"/>
<ellipse cx="1065.4" cy="1459.0" rx="3.2" ry="4.0"/>
<ellipse cx="1067.7" cy="1480.8" rx="3.2" ry="4.0"/>
<ellipse cx="1150.1" cy="1408.8" rx="3.2" ry="4.0"/>
<ellipse cx="977.0" cy="1484.3" rx="3.2" ry="4.0"/>
<ellipse cx="1186.9" cy="1459.7" rx="3.2" ry="4.0"/>
<ellipse cx="1020.5" cy="1499.0" rx="3.2" ry="4.0"/>
<ellipse cx="1030.3" cy="1443.8" rx="3.2" ry="4.0"/>
<ellipse cx="1204.0" cy="1420.2" rx="3.2" ry="4.0"/>
<ellipse cx="1120.8" cy="1496.2" rx="3.2" ry="4.0"/>
<ellipse cx="1075.9" cy="1495.6" rx="3.2" ry="4.0"/>
<ellipse cx="999.8" cy="1518.9" rx="3.2" ry="4.0"/>
<ellipse cx="1064.1" cy="1450.8" rx="3.2" ry="4.0"/>
<ellipse cx="1085.1" cy="1447.4" rx="3.2" ry="4.0"/>
<ellipse cx="1035.1" cy="1429.6" rx="3.2" ry="4.0"/>
<ellipse cx="967.4" cy="1494.7" rx="3.2" ry="4.0"/>
<ellipse cx="1049.2" cy="1480.8" rx="3.2" ry="4.0"/>
<ellipse cx="1017.0" cy="1485.6" rx="3.2" ry="4.0"/>
<ellipse cx="1073.8" cy="1540.8" rx="3.2" ry="4.0"/>
<ellipse cx="1101.5" cy="1428.4" rx="3.2" ry="4.0"/>
<ellipse cx="1042.9" cy="1492.2" rx="3.2" ry="4.0"/>
<ellipse cx="1083.3" cy="1466.6" rx="3.2" ry="4.0"/>
<ellipse cx="1045.5" cy="1413.8" rx="3.2" ry="4.0"/>
<ellipse cx="1082.3" cy="1436.2" rx="3.2" ry="4.0"/>
<ellipse cx="1036.8" cy="1476.3" rx="3.2" ry="4.0"/>
<ellipse cx="1018.9" cy="1493.2" rx="3.2" ry="4.0"/>
<ellipse cx="1102.0" cy="1490.0" rx="3.2" ry="4.0"/>
<ellipse cx="1037.1" cy="1371.7" rx="3.2" ry="4.0"/>
<ellipse cx="959.3" cy="1470.8" rx="3.2" ry="4.0"/>
<ellipse cx="1100.8" cy="1522.4" rx="3.2" ry="4.0"/>
<ellipse cx="1012.0" cy="1470.9" rx="3.2" ry="4.0"/>
<ellipse cx="1161.8" cy="1457.2" rx="3.2" ry="4.0"/>
<ellipse cx="1127.7" cy="1363.8" rx="3.2" ry="4.0"/>
<ellipse cx="1084.3" cy="1421.5" rx="3.2" ry="4.0"/>
<ellipse cx="1033.5" cy="1472.9" rx="3.2" ry="4.0"/>
<ellipse cx="1099.3" cy="1419.2" rx="3.2" ry="4.0"/>
<ellipse cx="1052.6" cy="1495.5" rx="3.2" ry="4.0"/>
<ellipse cx="1063.7" cy="1422.1" rx="3.2" ry="4.0"/>
<ellipse cx="1116.7" cy="1376.3" rx="3.2" ry="4.0"/>
<ellipse cx="1129.3" cy="1431.9" rx="3.2" ry="4.0"/>
<ellipse cx="1084.9" cy="1455.9" rx="3.2" ry="4.0"/>
<ellipse cx="1076.0" cy="1484.7" rx="3.2" ry="4.0"/>
<ellipse cx="1010.7" cy="1444.7" rx="3.2" ry="4.0"/>
<rect x="857.5" y="1139.0" width="591.0" height="530.0" fill="none" stroke="#1e1e1e" stroke-width="2"/>
<text x="847.0" y="1673.3" font-size="19.6" text-anchor="end" font-weight="400" fill="#000" textLength="17.5" lengthAdjust="spacingAndGlyphs">10</text>
<text x="847.0" y="1567.3" font-size="19.6" text-anchor="end" font-weight="400" fill="#000" textLength="26.2" lengthAdjust="spacingAndGlyphs">100</text>
<text x="847.0" y="1461.3" font-size="19.6" text-anchor="end" font-weight="400" fill="#000" textLength="35.0" lengthAdjust="spacingAndGlyphs">1000</text>
<text x="847.0" y="1355.3" font-size="19.6" text-anchor="end" font-weight="400" fill="#000" textLength="43.8" lengthAdjust="spacingAndGlyphs">10000</text>
<text x="847.0" y="1249.3" font-size="19.6" text-anchor="end" font-weight="400" fill="#000" textLength="52.5" lengthAdjust="spacingAndGlyphs">100000</text>
<text x="847.0" y="1143.3" font-size="19.6" text-anchor="end" font-weight="400" fill="#000" textLength="61.2" lengthAdjust="spacingAndGlyphs">1000000</text>
<text x="857.5" y="1699.7" font-size="19.6" text-anchor="middle" font-weight="400" fill="#000" textLength="17.5" lengthAdjust="spacingAndGlyphs">10</text>
<text x="975.7" y="1699.7" font-size="19.6" text-anchor="middle" font-weight="400" fill="#000" textLength="26.2" lengthAdjust="spacingAndGlyphs">100</text>
<text x="1093.9" y="1699.7" font-size="19.6" text-anchor="middle" font-weight="400" fill="#000" textLength="35.0" lengthAdjust="spacingAndGlyphs">1000</text>
<text x="1212.1" y="1699.7" font-size="19.6" text-anchor="middle" font-weight="400" fill="#000" textLength="43.8" lengthAdjust="spacingAndGlyphs">10000</text>
<text x="1330.3" y="1699.7" font-size="19.6" text-anchor="middle" font-weight="400" fill="#000" textLength="52.5" lengthAdjust="spacingAndGlyphs">100000</text>
<text x="1448.5" y="1699.7" font-size="19.6" text-anchor="middle" font-weight="400" fill="#000" textLength="61.2" lengthAdjust="spacingAndGlyphs">1000000</text>
<text x="31.0" y="27.0" font-size="37.5" text-anchor="start" font-weight="700" fill="#000" textLength="26.7" lengthAdjust="spacingAndGlyphs">A</text>
<text x="789.6" y="26.7" font-size="37.5" text-anchor="start" font-weight="700" fill="#000" textLength="25.9" lengthAdjust="spacingAndGlyphs">B</text>
<text x="32.0" y="937.0" font-size="37.5" text-anchor="start" font-weight="700" fill="#000" textLength="25.2" lengthAdjust="spacingAndGlyphs">C</text>
<text x="790.2" y="937.0" font-size="37.5" text-anchor="start" font-weight="700" fill="#000" textLength="26.2" lengthAdjust="spacingAndGlyphs">D</text>
<text x="283.2" y="178.7" font-size="52" text-anchor="start" font-weight="400" fill="#000" textLength="183.2" lengthAdjust="spacingAndGlyphs">ES cells</text>
<text x="1056.0" y="178.7" font-size="52" text-anchor="start" font-weight="400" fill="#000" textLength="182.6" lengthAdjust="spacingAndGlyphs">ES cells</text>
<text x="223.0" y="1089.2" font-size="52" text-anchor="start" font-weight="400" fill="#000" textLength="338.8" lengthAdjust="spacingAndGlyphs">Fibroblast cells</text>
<text x="1016.0" y="1089.2" font-size="52" text-anchor="start" font-weight="400" fill="#000" textLength="338.8" lengthAdjust="spacingAndGlyphs">Fibroblast cells</text>
<text x="-1.2" y="154.0" font-size="25.3" text-anchor="start" font-weight="400" fill="#000" textLength="185.4" lengthAdjust="spacingAndGlyphs">Noncoding gene</text>
<text x="-0.2" y="184.2" font-size="25.3" text-anchor="start" font-weight="400" fill="#000" textLength="164.2" lengthAdjust="spacingAndGlyphs">signal intensity</text>
<text x="790.0" y="155.4" font-size="25.3" text-anchor="start" font-weight="400" fill="#000" textLength="142.6" lengthAdjust="spacingAndGlyphs">Coding gene</text>
<text x="790.0" y="185.5" font-size="25.3" text-anchor="start" font-weight="400" fill="#000" textLength="164.6" lengthAdjust="spacingAndGlyphs">signal intensity</text>
<text x="1.6" y="1064.2" font-size="25.3" text-anchor="start" font-weight="400" fill="#000" textLength="183.6" lengthAdjust="spacingAndGlyphs">Noncoding gene</text>
<text x="2.6" y="1094.6" font-size="25.3" text-anchor="start" font-weight="400" fill="#000" textLength="163.6" lengthAdjust="spacingAndGlyphs">signal intensity</text>
<text x="792.0" y="1065.8" font-size="25.3" text-anchor="start" font-weight="400" fill="#000" textLength="143.0" lengthAdjust="spacingAndGlyphs">Coding gene</text>
<text x="792.0" y="1096.2" font-size="25.3" text-anchor="start" font-weight="400" fill="#000" textLength="164.6" lengthAdjust="spacingAndGlyphs">signal intensity</text>
<text x="511.8" y="851.7" font-size="25.3" text-anchor="start" font-weight="400" fill="#000" textLength="142.6" lengthAdjust="spacingAndGlyphs">Coding gene</text>
<text x="511.8" y="881.0" font-size="25.3" text-anchor="start" font-weight="400" fill="#000" textLength="165.0" lengthAdjust="spacingAndGlyphs">signal intensity</text>
<text x="1302.0" y="850.8" font-size="25.3" text-anchor="start" font-weight="400" fill="#000" textLength="143.0" lengthAdjust="spacingAndGlyphs">Coding gene</text>
<text x="1302.0" y="880.6" font-size="25.3" text-anchor="start" font-weight="400" fill="#000" textLength="165.2" lengthAdjust="spacingAndGlyphs">signal intensity</text>
<text x="514.0" y="1762.1" font-size="25.3" text-anchor="start" font-weight="400" fill="#000" textLength="142.4" lengthAdjust="spacingAndGlyphs">Coding gene</text>
<text x="514.0" y="1792.9" font-size="25.3" text-anchor="start" font-weight="400" fill="#000" textLength="164.4" lengthAdjust="spacingAndGlyphs">signal intensity</text>
<text x="1305.4" y="1761.9" font-size="25.3" text-anchor="start" font-weight="400" fill="#000" textLength="142.6" lengthAdjust="spacingAndGlyphs">Coding gene</text>
<text x="1305.4" y="1792.4" font-size="25.3" text-anchor="start" font-weight="400" fill="#000" textLength="164.8" lengthAdjust="spacingAndGlyphs">signal intensity</text>
</svg></body></html>
